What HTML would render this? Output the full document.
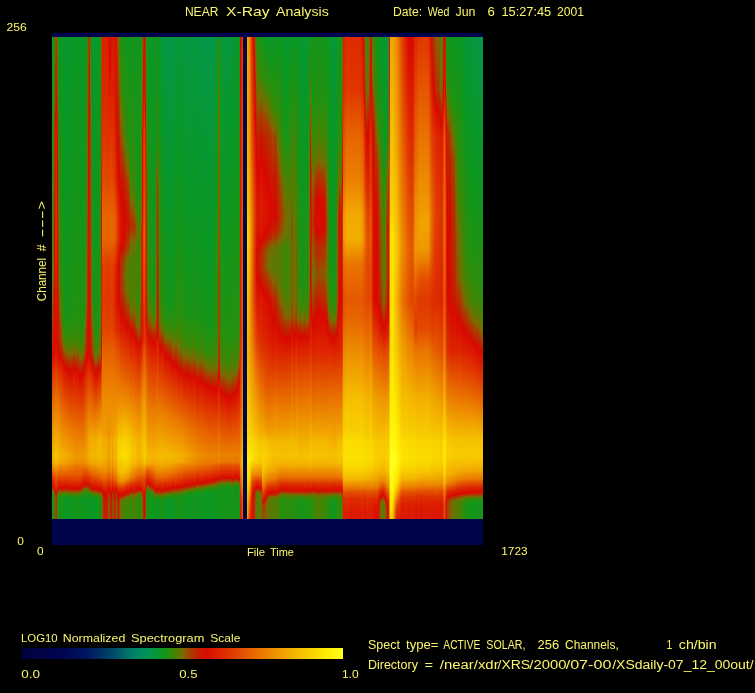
<!DOCTYPE html>
<html lang="en"><head><meta charset="utf-8"><title>NEAR X-Ray Analysis</title>
<style>
html,body{margin:0;padding:0;background:#000}
body{width:755px;height:693px;position:relative;overflow:hidden;font-family:"Liberation Sans",sans-serif;color:#f4ee86}
#band{position:absolute;left:52px;top:33px;width:431px;height:512px;background:#00044c}
#sp{position:absolute;left:52px;top:37px;width:431px;height:482px;overflow:hidden}
#sp i{position:absolute;top:0;height:482px;display:block}
#gap{position:absolute;left:243px;top:37px;width:4px;height:483px;background:#020448}

svg.t{will-change:transform}
svg.t text{font-family:"Liberation Sans",sans-serif;fill:#fbf66a;white-space:pre}

</style></head><body>
<div id="band"></div>
<div id="sp"><i style="left:0px;width:1px;background:linear-gradient(#0d981d 0.5px,#2e8d0a 162.5px,#378a05 183.5px,#597a02 242.5px,#776c00 254.5px,#826200 259.5px,#ac3a00 282.5px,#ba2a00 293.5px,#bf2400 303.5px,#d80900 316.5px,#e03600 337.5px,#e76400 363.5px,#ed8d00 390.5px,#f3b000 418.5px,#f09f00 426.5px,#e65c00 435.5px,#d70a00 449.5px,#b62e00 451.5px,#a14500 452.5px,#836100 453.5px,#667401 454.5px,#478204 455.5px,#378a05 456.5px,#229111 458.5px,#1c9315 459.5px,#1b9315 461.5px,#1a9316 481.5px)"></i><i style="left:1px;width:1px;background:linear-gradient(#0a9828 0.5px,#0c981e 41.5px,#149519 63.5px,#2a8e0c 99.5px,#378a05 137.5px,#458404 163.5px,#6b7201 198.5px,#7d6800 242.5px,#984d00 254.5px,#ac3a00 266.5px,#b33200 279.5px,#c12200 292.5px,#c22100 303.5px,#d80900 316.5px,#e03900 338.5px,#e76800 363.5px,#ee9100 390.5px,#f4b400 418.5px,#f1a300 426.5px,#e03700 441.5px,#d90e00 448.5px,#d30d00 449.5px,#b23400 451.5px,#766d00 453.5px,#398905 455.5px,#209112 457.5px,#0f971c 459.5px,#0b9821 481.5px)"></i><i style="left:2px;width:1px;background:linear-gradient(#368a06 0.5px,#6c7201 63.5px,#796b00 70.5px,#ad3900 99.5px,#c02400 162.5px,#d20f00 198.5px,#cd1400 242.5px,#d50b00 261.5px,#d80900 302.5px,#da1100 315.5px,#e86f00 363.5px,#f5bd00 418.5px,#f3b100 425.5px,#f2ac00 426.5px,#e13d00 442.5px,#dc1f00 448.5px,#d80800 451.5px,#ac3a00 454.5px,#905400 455.5px,#7d6700 456.5px,#597a02 458.5px,#498204 460.5px,#3d8705 481.5px)"></i><i style="left:3px;width:1px;background:linear-gradient(#935200 0.5px,#ac3a00 24.5px,#c22100 62.5px,#d80800 78.5px,#db1900 99.5px,#dd2500 197.5px,#da1100 278.5px,#da1300 292.5px,#d90f00 303.5px,#da1500 314.5px,#dc2000 322.5px,#e24500 338.5px,#e97400 363.5px,#f6c200 418.5px,#f4b800 425.5px,#f3b300 426.5px,#e24800 442.5px,#df3000 448.5px,#d90c00 454.5px,#d11000 455.5px,#b33200 458.5px,#a54000 461.5px,#a24300 481.5px)"></i><i style="left:4px;width:1px;background:linear-gradient(#a83e00 0.5px,#ce1300 62.5px,#d80800 69.5px,#dc2100 99.5px,#de2c00 197.5px,#da1300 278.5px,#da1400 292.5px,#d91000 303.5px,#da1500 314.5px,#dc2000 322.5px,#e24500 338.5px,#e97500 363.5px,#f7c400 418.5px,#f5ba00 425.5px,#e34c00 442.5px,#de2c00 450.5px,#d90d00 455.5px,#d50c00 456.5px,#c12200 458.5px,#b43100 461.5px,#b43100 481.5px)"></i><i style="left:5px;width:1px;background:linear-gradient(#577b03 0.5px,#786c00 33.5px,#935200 62.5px,#ad3900 74.5px,#cb1700 99.5px,#d80800 146.5px,#da1200 198.5px,#d90c00 242.5px,#d80b00 303.5px,#da1100 314.5px,#dc1d00 322.5px,#e24300 338.5px,#e97300 363.5px,#f6c200 418.5px,#f4b700 425.5px,#f0a000 428.5px,#e97000 436.5px,#e24600 442.5px,#de2a00 448.5px,#d60a00 453.5px,#ad3900 456.5px,#955000 457.5px,#865e00 458.5px,#7a6a00 459.5px,#697301 461.5px,#617702 481.5px)"></i><i style="left:6px;width:1px;background:linear-gradient(#0c9820 0.5px,#239011 62.5px,#378a05 86.5px,#498204 99.5px,#6f7001 163.5px,#955000 198.5px,#9e4700 242.5px,#ac3a00 249.5px,#b23400 255.5px,#bd2700 279.5px,#c91900 292.5px,#c81b00 303.5px,#d80800 314.5px,#da1500 322.5px,#e13c00 338.5px,#e86d00 363.5px,#ef9700 390.5px,#f5bc00 418.5px,#f3b000 425.5px,#ef9800 428.5px,#e76900 436.5px,#e13c00 442.5px,#d90c00 450.5px,#ce1300 451.5px,#ab3b00 453.5px,#6e7001 455.5px,#368a05 457.5px,#1a9416 460.5px,#159519 461.5px,#10971c 481.5px)"></i><i style="left:7px;width:1px;background:linear-gradient(#09972e 0.5px,#0c981e 79.5px,#249010 162.5px,#378a05 196.5px,#507e03 242.5px,#796b00 258.5px,#9a4c00 278.5px,#ab3b00 285.5px,#b53000 293.5px,#b82c00 303.5px,#cc1500 314.5px,#d80900 318.5px,#df3500 337.5px,#e76700 363.5px,#ee9200 390.5px,#f4b700 418.5px,#f2ab00 425.5px,#ee9200 428.5px,#e76500 436.5px,#e03900 442.5px,#d80800 450.5px,#b53000 452.5px,#9d4800 453.5px,#7e6700 454.5px,#5e7802 455.5px,#408604 456.5px,#2a8e0d 457.5px,#0c981e 460.5px,#0b9822 461.5px,#0b9824 481.5px)"></i><i style="left:8px;width:1px;background:linear-gradient(#0a9828 0.5px,#0c981e 92.5px,#179417 163.5px,#2f8d0a 242.5px,#378a05 248.5px,#766d00 279.5px,#9b4a00 292.5px,#a93d00 302.5px,#c41f00 314.5px,#d80900 320.5px,#df3100 337.5px,#e66200 363.5px,#ed8e00 390.5px,#f4b400 418.5px,#f2a800 425.5px,#ee9000 428.5px,#e76400 436.5px,#df3400 443.5px,#d80b00 450.5px,#cd1500 451.5px,#ab3b00 453.5px,#6d7101 455.5px,#4f7f03 456.5px,#338b08 457.5px,#13961a 460.5px,#0e971d 461.5px,#0e971d 481.5px)"></i><i style="left:9px;width:1px;background:linear-gradient(#189417 0.5px,#2a8e0c 163.5px,#398905 242.5px,#567c03 263.5px,#6d7101 277.5px,#786c00 281.5px,#9a4b00 293.5px,#aa3c00 302.5px,#c41f00 313.5px,#d80900 319.5px,#df3100 337.5px,#e65e00 362.5px,#ed8c00 390.5px,#f4b400 418.5px,#f2a900 425.5px,#ee9100 428.5px,#e66100 437.5px,#d80b00 451.5px,#cd1400 452.5px,#ae3800 454.5px,#776d00 456.5px,#587b02 457.5px,#388a05 459.5px,#278f0e 461.5px,#278f0e 481.5px)"></i><i style="left:10px;width:1px;background:linear-gradient(#0b9821 0.5px,#1e9214 204.5px,#239111 243.5px,#2b8e0c 260.5px,#388a05 277.5px,#776d00 301.5px,#aa3c00 312.5px,#d60a00 323.5px,#d80a00 324.5px,#dd2900 337.5px,#e97000 376.5px,#f3b100 418.5px,#f1a600 425.5px,#ed8f00 428.5px,#e65f00 437.5px,#dd2500 446.5px,#d90e00 450.5px,#d40c00 451.5px,#b43100 453.5px,#9c4900 454.5px,#7e6600 455.5px,#428504 457.5px,#328c08 458.5px,#169518 461.5px,#169518 481.5px)"></i><i style="left:11px;width:1px;background:linear-gradient(#09982d 0.5px,#0c981e 169.5px,#149519 246.5px,#1f9213 276.5px,#378a05 291.5px,#4b8103 300.5px,#736e00 308.5px,#8e5700 313.5px,#ad3900 317.5px,#d60b00 326.5px,#d80900 327.5px,#dc2200 337.5px,#e86c00 376.5px,#f3af00 418.5px,#f1a500 425.5px,#ed8e00 428.5px,#e65e00 437.5px,#df3400 443.5px,#d80a00 450.5px,#cd1400 451.5px,#ac3a00 453.5px,#6d7101 455.5px,#4f7f03 456.5px,#328b08 457.5px,#11961b 460.5px,#0b9821 461.5px,#0b9821 481.5px)"></i><i style="left:12px;width:1px;background:linear-gradient(#09972e 0.5px,#0c981e 190.5px,#189417 276.5px,#3b8805 300.5px,#756d00 311.5px,#816300 313.5px,#aa3c00 318.5px,#d80900 328.5px,#dc1f00 337.5px,#e86a00 376.5px,#f3af00 418.5px,#f1a400 425.5px,#ed8e00 428.5px,#e65e00 437.5px,#df3400 443.5px,#d80a00 450.5px,#ce1400 451.5px,#ac3a00 453.5px,#6c7101 455.5px,#328c08 457.5px,#10971c 460.5px,#0b9822 461.5px,#0b9822 481.5px)"></i><i style="left:13px;width:1px;background:linear-gradient(#089732 0.5px,#0c981e 230.5px,#12961b 276.5px,#378a05 302.5px,#766d00 313.5px,#a93d00 319.5px,#d80900 329.5px,#db1a00 336.5px,#e76900 376.5px,#f3ae00 418.5px,#f1a400 425.5px,#f09f00 426.5px,#ed8e00 428.5px,#e65e00 437.5px,#df3400 443.5px,#d80900 450.5px,#cc1500 451.5px,#a93d00 453.5px,#895c00 454.5px,#687301 455.5px,#2f8c09 457.5px,#219112 458.5px,#0c981e 460.5px,#0a9826 461.5px,#0a9826 481.5px)"></i><i style="left:14px;width:1px;background:linear-gradient(#089734 0.5px,#0f971c 277.5px,#2b8e0c 300.5px,#388a05 304.5px,#637602 312.5px,#736e00 314.5px,#ad3900 321.5px,#d80900 330.5px,#ea7a00 386.5px,#f2ad00 418.5px,#f1a200 425.5px,#f09d00 426.5px,#ed8c00 428.5px,#e65d00 437.5px,#e03a00 442.5px,#d80900 450.5px,#cc1600 451.5px,#a73f00 453.5px,#875d00 454.5px,#667401 455.5px,#2e8d0a 457.5px,#1f9213 458.5px,#0c9820 460.5px,#0a9828 461.5px,#0a9828 481.5px)"></i><i style="left:15px;width:1px;background:linear-gradient(#09972e 0.5px,#0c981e 188.5px,#169518 277.5px,#308c09 300.5px,#378a05 303.5px,#637602 312.5px,#796b00 315.5px,#ae3700 322.5px,#d80800 331.5px,#ea7900 387.5px,#f2aa00 418.5px,#f0a000 425.5px,#ed8a00 428.5px,#e65c00 437.5px,#d90b00 450.5px,#d01100 451.5px,#ae3800 453.5px,#706f01 455.5px,#527d03 456.5px,#358b06 457.5px,#26900f 458.5px,#11961b 460.5px,#0b9822 461.5px,#0b9822 481.5px)"></i><i style="left:16px;width:1px;background:linear-gradient(#0a9828 0.5px,#0c981e 117.5px,#1f9213 282.5px,#368a05 301.5px,#468304 306.5px,#657501 312.5px,#796b00 315.5px,#935200 319.5px,#ac3a00 322.5px,#d80900 332.5px,#dc1e00 341.5px,#ea7800 388.5px,#f2a800 418.5px,#f09e00 425.5px,#ec8800 428.5px,#e55c00 437.5px,#d90d00 450.5px,#d40c00 451.5px,#b33200 453.5px,#9a4b00 454.5px,#7b6900 455.5px,#3f8604 457.5px,#2d8d0b 458.5px,#0e971d 461.5px,#0e971d 481.5px)"></i><i style="left:17px;width:1px;background:linear-gradient(#0a9828 0.5px,#0c981e 120.5px,#1d9214 282.5px,#3d8705 306.5px,#796b00 317.5px,#ae3800 324.5px,#d60a00 333.5px,#d80900 334.5px,#ea7900 390.5px,#f1a500 418.5px,#ef9b00 425.5px,#ec8500 428.5px,#e55a00 437.5px,#d90d00 450.5px,#d40c00 451.5px,#b33200 453.5px,#7b6900 455.5px,#3e8704 457.5px,#2d8d0b 458.5px,#0e971d 461.5px,#0e971d 481.5px)"></i><i style="left:18px;width:1px;background:linear-gradient(#0b9824 0.5px,#0c981e 72.5px,#229111 282.5px,#378a05 300.5px,#428504 306.5px,#776c00 316.5px,#895c00 319.5px,#aa3c00 323.5px,#d70900 333.5px,#ea7900 391.5px,#f1a300 418.5px,#ef9900 425.5px,#eb8300 428.5px,#e55a00 437.5px,#d70900 451.5px,#b62e00 453.5px,#a04500 454.5px,#826300 455.5px,#647502 456.5px,#468304 457.5px,#328c08 458.5px,#13961a 461.5px,#13961a 481.5px)"></i><i style="left:19px;width:1px;background:linear-gradient(#0a9829 0.5px,#0c981e 130.5px,#1c9314 282.5px,#348b07 302.5px,#3d8705 306.5px,#796b00 317.5px,#ae3800 324.5px,#d60b00 333.5px,#d80900 334.5px,#ea7700 391.5px,#f0a000 418.5px,#ef9600 425.5px,#eb8000 428.5px,#e55900 437.5px,#d90d00 450.5px,#d40d00 451.5px,#b23300 453.5px,#7a6b00 455.5px,#3d8705 457.5px,#2c8e0c 458.5px,#0d981d 461.5px,#0d981d 481.5px)"></i><i style="left:20px;width:1px;background:linear-gradient(#0a9827 0.5px,#0c981e 100.5px,#209112 282.5px,#388a05 302.5px,#498204 307.5px,#6f7001 314.5px,#885c00 318.5px,#ae3700 323.5px,#d80900 333.5px,#e97400 390.5px,#f09f00 418.5px,#ee9400 425.5px,#eb7e00 428.5px,#e55a00 437.5px,#d50b00 451.5px,#b43100 453.5px,#9c4900 454.5px,#7e6700 455.5px,#418504 457.5px,#2f8d0a 458.5px,#10971c 461.5px,#10971c 481.5px)"></i><i style="left:21px;width:1px;background:linear-gradient(#0d981e 0.5px,#298e0d 279.5px,#388a05 292.5px,#4a8104 302.5px,#587b02 306.5px,#786c00 312.5px,#885d00 315.5px,#ac3a00 320.5px,#d60a00 330.5px,#d80900 331.5px,#dc1f00 341.5px,#e97600 391.5px,#f09e00 418.5px,#ee9300 425.5px,#eb7e00 428.5px,#e55b00 437.5px,#d80a00 451.5px,#cc1600 452.5px,#ab3b00 454.5px,#707001 456.5px,#527e03 457.5px,#3b8805 458.5px,#1b9315 461.5px,#1b9315 481.5px)"></i><i style="left:22px;width:1px;background:linear-gradient(#0b9824 0.5px,#0c981e 65.5px,#229111 279.5px,#408604 302.5px,#766d00 313.5px,#816300 315.5px,#ae3800 321.5px,#d80800 331.5px,#dc1d00 341.5px,#e97200 390.5px,#f09b00 418.5px,#ee9100 425.5px,#ea7b00 428.5px,#e55a00 437.5px,#d70900 451.5px,#b72e00 453.5px,#a14400 454.5px,#836200 455.5px,#657501 456.5px,#478304 457.5px,#328c08 458.5px,#14961a 461.5px,#14961a 481.5px)"></i><i style="left:23px;width:1px;background:linear-gradient(#09982d 0.5px,#0c981e 171.5px,#189417 279.5px,#358b06 303.5px,#766d00 315.5px,#ae3800 322.5px,#d80800 332.5px,#e87000 390.5px,#ef9800 418.5px,#ed8e00 425.5px,#ea7700 428.5px,#e55800 437.5px,#d90c00 450.5px,#d11000 451.5px,#af3600 453.5px,#736e00 455.5px,#378a05 457.5px,#278f0e 458.5px,#0b9821 461.5px,#0b9821 481.5px)"></i><i style="left:24px;width:1px;background:linear-gradient(#09982b 0.5px,#0c981e 154.5px,#199416 279.5px,#368a06 303.5px,#756e00 315.5px,#ac3a00 322.5px,#d70900 332.5px,#e86f00 390.5px,#ef9700 418.5px,#ed8d00 425.5px,#e97700 428.5px,#e55900 437.5px,#d90c00 450.5px,#d20f00 451.5px,#b03500 453.5px,#766d00 455.5px,#398905 457.5px,#298e0d 458.5px,#0c981f 461.5px,#0c981f 481.5px)"></i><i style="left:25px;width:1px;background:linear-gradient(#0b9822 0.5px,#0c981e 46.5px,#249010 279.5px,#3f8604 302.5px,#5f7802 310.5px,#746e00 314.5px,#ab3b00 322.5px,#d80900 333.5px,#e65e00 380.5px,#ef9800 418.5px,#ed8e00 425.5px,#ea7800 428.5px,#e55a00 437.5px,#d80800 451.5px,#a44200 454.5px,#855f00 455.5px,#687301 456.5px,#4a8104 457.5px,#348b07 458.5px,#169518 461.5px,#169518 481.5px)"></i><i style="left:26px;width:1px;background:linear-gradient(#0f971c 0.5px,#2f8d0a 286.5px,#488204 302.5px,#607702 310.5px,#756e00 314.5px,#ac3a00 323.5px,#d60a00 333.5px,#d80900 334.5px,#e65e00 380.5px,#ef9900 418.5px,#ed8f00 425.5px,#ea7900 428.5px,#e55c00 437.5px,#d80b00 451.5px,#cd1400 452.5px,#ad3900 454.5px,#746e00 456.5px,#567c03 457.5px,#3f8604 458.5px,#1d9214 461.5px,#1d9214 481.5px)"></i><i style="left:27px;width:1px;background:linear-gradient(#0a9828 0.5px,#0c981e 117.5px,#1e9214 286.5px,#328c08 303.5px,#408604 310.5px,#766d00 320.5px,#885c00 323.5px,#af3700 328.5px,#d60a00 337.5px,#d80900 338.5px,#e87000 392.5px,#ef9800 418.5px,#ed8d00 425.5px,#ea7700 428.5px,#e55900 437.5px,#d90d00 450.5px,#d40c00 451.5px,#b33200 453.5px,#9a4b00 454.5px,#7c6900 455.5px,#3f8604 457.5px,#2d8d0b 458.5px,#0f971d 461.5px,#0f971d 481.5px)"></i><i style="left:28px;width:1px;background:linear-gradient(#0a982a 0.5px,#0c981e 143.5px,#1b9315 286.5px,#3a8905 310.5px,#7a6a00 322.5px,#ab3b00 328.5px,#d80800 338.5px,#e86f00 392.5px,#ef9700 418.5px,#ed8d00 425.5px,#ea7700 428.5px,#e55700 437.5px,#d80900 450.5px,#cd1500 451.5px,#ab3b00 453.5px,#6f7001 455.5px,#527e03 456.5px,#368a06 457.5px,#288f0e 458.5px,#0c981e 461.5px,#0c981e 481.5px)"></i><i style="left:29px;width:1px;background:linear-gradient(#0b9825 0.5px,#0c981e 89.5px,#229111 286.5px,#3d8705 305.5px,#4e7f03 311.5px,#6e7001 317.5px,#8c5900 322.5px,#ab3b00 326.5px,#d70900 336.5px,#e97200 393.5px,#ef9800 418.5px,#ed8d00 425.5px,#ea7800 428.5px,#e45300 437.5px,#d90b00 449.5px,#d20f00 450.5px,#b43100 452.5px,#826300 454.5px,#4b8103 456.5px,#348b07 457.5px,#11961b 461.5px,#11961b 481.5px)"></i><i style="left:30px;width:1px;background:linear-gradient(#09972f 0.5px,#0c981e 197.5px,#179418 281.5px,#368a05 305.5px,#458304 310.5px,#637602 316.5px,#7d6700 320.5px,#af3600 327.5px,#d60a00 336.5px,#d80a00 337.5px,#e86d00 390.5px,#ef9700 418.5px,#ed8c00 425.5px,#ea7800 428.5px,#e34c00 437.5px,#d80900 448.5px,#b03500 451.5px,#776c00 453.5px,#438404 455.5px,#2f8d0a 456.5px,#189417 458.5px,#0c981e 460.5px,#0b9823 461.5px,#0b9823 481.5px)"></i><i style="left:31px;width:1px;background:linear-gradient(#09982c 0.5px,#0c981e 166.5px,#179418 262.5px,#1f9213 280.5px,#378a05 296.5px,#4b8103 305.5px,#5c7902 310.5px,#796b00 316.5px,#ad3900 324.5px,#d80800 334.5px,#dc1f00 345.5px,#e86a00 387.5px,#ef9800 418.5px,#ec8800 426.5px,#ea7900 428.5px,#d90c00 447.5px,#d10f00 448.5px,#b53000 450.5px,#a04500 451.5px,#836100 452.5px,#647502 453.5px,#368a05 455.5px,#1d9314 457.5px,#169518 458.5px,#0c9820 461.5px,#0c9820 481.5px)"></i><i style="left:32px;width:1px;background:linear-gradient(#0b9823 0.5px,#0c981e 56.5px,#199417 177.5px,#278f0e 263.5px,#388905 281.5px,#627602 295.5px,#776c00 305.5px,#9f4700 316.5px,#ab3b00 318.5px,#d60a00 329.5px,#d80900 330.5px,#dd2600 344.5px,#e66000 378.5px,#ea7b00 395.5px,#ef9a00 418.5px,#ed8a00 426.5px,#e66200 432.5px,#d80b00 447.5px,#ce1300 448.5px,#b03500 450.5px,#7c6900 452.5px,#5d7902 453.5px,#358b06 455.5px,#209212 457.5px,#149519 461.5px,#149519 481.5px)"></i><i style="left:33px;width:1px;background:linear-gradient(#0b9822 0.5px,#0c981e 43.5px,#219112 197.5px,#378a05 262.5px,#5f7702 281.5px,#786c00 288.5px,#875e00 293.5px,#9a4b00 305.5px,#ad3900 311.5px,#b92c00 317.5px,#d80900 326.5px,#dd2500 339.5px,#e76400 377.5px,#eb8000 395.5px,#f09b00 418.5px,#ed8b00 426.5px,#e66000 432.5px,#e13b00 438.5px,#d90e00 446.5px,#d40d00 447.5px,#b43100 449.5px,#9d4800 450.5px,#806400 451.5px,#448404 453.5px,#298f0d 455.5px,#189417 457.5px,#149519 461.5px,#149519 481.5px)"></i><i style="left:34px;width:1px;background:linear-gradient(#0f971c 0.5px,#3c8805 198.5px,#6e7101 263.5px,#935200 280.5px,#ac3a00 289.5px,#b23300 293.5px,#b72e00 305.5px,#c71c00 316.5px,#d80900 322.5px,#de2d00 339.5px,#e86e00 378.5px,#ec8800 396.5px,#f0a000 418.5px,#ed8f00 426.5px,#e55c00 433.5px,#d90d00 446.5px,#d20f00 447.5px,#b23300 449.5px,#7d6700 451.5px,#408604 453.5px,#1b9315 456.5px,#159519 457.5px,#10971b 462.5px,#10971b 481.5px)"></i><i style="left:35px;width:1px;background:linear-gradient(#398905 0.5px,#786c00 111.5px,#ac3a00 219.5px,#b33200 262.5px,#be2500 281.5px,#ca1800 292.5px,#c81b00 305.5px,#d80800 318.5px,#e24500 348.5px,#ea7900 379.5px,#ef9b00 403.5px,#f1a700 418.5px,#ee9400 426.5px,#e66200 433.5px,#d80800 447.5px,#a93d00 450.5px,#707001 452.5px,#517e03 453.5px,#2e8d0a 455.5px,#189417 457.5px,#0c981f 461.5px,#0c9820 481.5px)"></i><i style="left:36px;width:1px;background:linear-gradient(#964f00 0.5px,#ac3a00 31.5px,#c71b00 98.5px,#d80800 162.5px,#d90d00 198.5px,#d80800 240.5px,#cf1200 280.5px,#d50b00 292.5px,#cc1600 305.5px,#d80900 318.5px,#e34900 348.5px,#ea7a00 376.5px,#f1a200 403.5px,#f2ab00 419.5px,#ef9800 426.5px,#d80800 447.5px,#ac3a00 450.5px,#726f00 452.5px,#517e03 453.5px,#3a8805 454.5px,#10971c 457.5px,#0b9822 458.5px,#09972e 462.5px,#09972e 481.5px)"></i><i style="left:37px;width:1px;background:linear-gradient(#bb2800 0.5px,#d80800 71.5px,#db1b00 197.5px,#d80800 307.5px,#d91000 319.5px,#e34f00 348.5px,#f2aa00 403.5px,#f3b100 419.5px,#f09f00 426.5px,#d90c00 448.5px,#d20f00 449.5px,#b72d00 451.5px,#a34200 452.5px,#855f00 453.5px,#6c7101 454.5px,#398905 456.5px,#1f9213 458.5px,#0d981d 461.5px,#0c9820 462.5px,#0c9820 481.5px)"></i><i style="left:38px;width:1px;background:linear-gradient(#5c7902 0.5px,#786c00 42.5px,#9d4900 98.5px,#ac3a00 130.5px,#bf2400 207.5px,#c02300 262.5px,#c61c00 282.5px,#cf1200 293.5px,#c81a00 306.5px,#d80800 319.5px,#e34b00 348.5px,#f2ac00 403.5px,#f3b200 419.5px,#f0a000 426.5px,#d80900 449.5px,#c02300 451.5px,#b03600 452.5px,#786c00 454.5px,#5b7a02 455.5px,#3f8604 456.5px,#2c8e0c 457.5px,#1d9314 458.5px,#0d981d 460.5px,#0a9826 462.5px,#0a9826 481.5px)"></i><i style="left:39px;width:1px;background:linear-gradient(#0b9822 0.5px,#0c981e 17.5px,#378a05 176.5px,#408604 197.5px,#5b7902 229.5px,#6f7001 262.5px,#955000 282.5px,#ad3900 291.5px,#b03500 307.5px,#bd2700 316.5px,#c32000 319.5px,#d80900 324.5px,#e24300 348.5px,#f2ad00 403.5px,#f4b300 418.5px,#f1a200 426.5px,#e65f00 437.5px,#dc2000 446.5px,#d60a00 450.5px,#cb1700 451.5px,#a54100 453.5px,#865e00 454.5px,#667401 455.5px,#478204 456.5px,#1d9314 458.5px,#0c9820 460.5px,#09982c 462.5px,#09982c 481.5px)"></i><i style="left:40px;width:1px;background:linear-gradient(#0a9827 0.5px,#0c981e 76.5px,#1f9213 197.5px,#3d8705 262.5px,#6d7101 283.5px,#8c5900 293.5px,#9b4b00 302.5px,#9c4900 307.5px,#b92c00 319.5px,#d80800 326.5px,#e13e00 348.5px,#f3ad00 403.5px,#f4b500 418.5px,#f1a400 426.5px,#ee8f00 429.5px,#e76400 437.5px,#e03900 443.5px,#d80a00 451.5px,#ca1800 452.5px,#a64000 454.5px,#875e00 455.5px,#687301 456.5px,#2f8c09 458.5px,#11961b 461.5px,#0c981e 462.5px,#0c981e 481.5px)"></i><i style="left:41px;width:1px;background:linear-gradient(#0b9825 0.5px,#0c981e 80.5px,#199417 192.5px,#298f0d 263.5px,#428504 282.5px,#707001 298.5px,#796b00 302.5px,#7d6700 307.5px,#a34300 318.5px,#d80800 329.5px,#e13e00 351.5px,#f2ac00 403.5px,#f4b400 418.5px,#f1a400 426.5px,#ee9000 429.5px,#e76600 437.5px,#df3500 444.5px,#d90b00 451.5px,#ce1300 452.5px,#ad3900 454.5px,#716f01 456.5px,#537d03 457.5px,#358b06 458.5px,#179518 461.5px,#12961b 462.5px,#12961b 481.5px)"></i><i style="left:42px;width:1px;background:linear-gradient(#09972e 0.5px,#0c981e 190.5px,#169518 262.5px,#1b9315 273.5px,#26900f 286.5px,#378a05 295.5px,#488204 302.5px,#4f7f03 307.5px,#5a7a02 311.5px,#766d00 317.5px,#935200 322.5px,#ad3800 325.5px,#d70900 333.5px,#e86c00 373.5px,#f2ab00 403.5px,#f4b400 418.5px,#f1a400 426.5px,#ee9000 429.5px,#e76600 437.5px,#df3300 444.5px,#d80800 451.5px,#b72e00 453.5px,#a04500 454.5px,#816300 455.5px,#617602 456.5px,#438404 457.5px,#2b8e0c 458.5px,#0c981e 461.5px,#0b9822 462.5px,#0b9822 481.5px)"></i><i style="left:43px;width:1px;background:linear-gradient(#089733 0.5px,#0c981e 245.5px,#169518 286.5px,#388a05 310.5px,#766d00 322.5px,#ae3700 328.5px,#d80900 336.5px,#ea7a00 379.5px,#f2ab00 403.5px,#f4b400 418.5px,#f1a500 426.5px,#ee9100 429.5px,#e76700 437.5px,#dd2400 446.5px,#d90c00 450.5px,#d50b00 451.5px,#b33200 453.5px,#994c00 454.5px,#796b00 455.5px,#597a02 456.5px,#3b8805 457.5px,#25900f 458.5px,#11961b 460.5px,#0a9827 462.5px,#0a9827 481.5px)"></i><i style="left:44px;width:1px;background:linear-gradient(#09982c 0.5px,#0c981e 173.5px,#199416 286.5px,#3a8905 310.5px,#746e00 321.5px,#826300 323.5px,#aa3c00 327.5px,#d70a00 335.5px,#e86d00 372.5px,#f09e00 395.5px,#f3ae00 404.5px,#f4b600 418.5px,#f1a700 426.5px,#e86a00 437.5px,#dd2700 446.5px,#d80900 451.5px,#ca1700 452.5px,#a64000 454.5px,#875e00 455.5px,#677401 456.5px,#2f8d0a 458.5px,#0f971c 461.5px,#0b9821 463.5px,#0b9821 481.5px)"></i><i style="left:45px;width:1px;background:linear-gradient(#0a9827 0.5px,#0c981e 106.5px,#209213 286.5px,#3b8805 307.5px,#488204 311.5px,#6d7101 318.5px,#895c00 322.5px,#af3700 326.5px,#d50b00 333.5px,#d80900 334.5px,#e87000 372.5px,#f1a100 395.5px,#f3b100 404.5px,#f4b800 418.5px,#f2a900 426.5px,#e86d00 437.5px,#de2a00 446.5px,#d90d00 451.5px,#d20f00 452.5px,#b13500 454.5px,#786c00 456.5px,#3b8805 458.5px,#189417 461.5px,#10971c 463.5px,#10971c 481.5px)"></i><i style="left:46px;width:1px;background:linear-gradient(#0c981e 0.5px,#298f0d 283.5px,#368a05 296.5px,#498204 306.5px,#5b7a02 311.5px,#756d00 316.5px,#865e00 319.5px,#af3600 324.5px,#d70a00 331.5px,#e97400 372.5px,#f1a400 395.5px,#f4b300 404.5px,#f5ba00 418.5px,#f2ab00 426.5px,#e86b00 438.5px,#df3500 445.5px,#d80a00 452.5px,#cb1700 453.5px,#aa3c00 455.5px,#6f7001 457.5px,#517e03 458.5px,#3a8905 459.5px,#1d9314 462.5px,#1a9316 481.5px)"></i><i style="left:47px;width:1px;background:linear-gradient(#0b9821 0.5px,#26900f 283.5px,#378a05 298.5px,#458404 306.5px,#557c03 310.5px,#756d00 316.5px,#865e00 319.5px,#ac3a00 323.5px,#d50b00 330.5px,#d80a00 331.5px,#e24300 351.5px,#ea7800 373.5px,#f1a700 395.5px,#f4b500 404.5px,#f5bb00 418.5px,#f2ac00 426.5px,#e86d00 438.5px,#de2e00 446.5px,#d80b00 452.5px,#cc1500 453.5px,#ac3a00 455.5px,#707001 457.5px,#527e03 458.5px,#388905 459.5px,#1b9316 462.5px,#179418 463.5px,#179418 481.5px)"></i><i style="left:48px;width:1px;background:linear-gradient(#0b9824 0.5px,#0c981e 72.5px,#229111 283.5px,#408604 306.5px,#786c00 317.5px,#855f00 319.5px,#af3700 323.5px,#d80900 330.5px,#e13f00 348.5px,#ea7b00 373.5px,#f2a800 395.5px,#f4b600 404.5px,#f5bb00 418.5px,#f3ad00 426.5px,#ea7a00 436.5px,#e76800 439.5px,#dd2800 447.5px,#d90b00 452.5px,#cd1400 453.5px,#ac3a00 455.5px,#707001 457.5px,#527e03 458.5px,#368a06 459.5px,#189417 462.5px,#13961a 463.5px,#13961a 481.5px)"></i><i style="left:49px;width:1px;background:linear-gradient(#846100 0.5px,#905500 53.5px,#ac3a00 108.5px,#b72d00 142.5px,#cb1700 178.5px,#cc1600 202.5px,#b53000 228.5px,#b33200 263.5px,#b92c00 282.5px,#c12300 292.5px,#d70900 308.5px,#da1600 319.5px,#e55800 347.5px,#ea7a00 366.5px,#f3b200 403.5px,#f4b800 419.5px,#f2ab00 426.5px,#ea7c00 436.5px,#e86b00 439.5px,#de2e00 447.5px,#d80900 453.5px,#cd1500 454.5px,#ae3800 456.5px,#786c00 458.5px,#5f7702 459.5px,#3e8704 462.5px,#388905 463.5px,#378a05 481.5px)"></i><i style="left:50px;width:1px;background:linear-gradient(#dc2100 0.5px,#dd2600 52.5px,#e03500 99.5px,#e24800 142.5px,#e76600 178.5px,#e76600 202.5px,#e13e00 228.5px,#e03800 263.5px,#e24500 292.5px,#e66000 313.5px,#ea7a00 341.5px,#ed8c00 363.5px,#f09e00 395.5px,#f2ac00 404.5px,#f3b200 419.5px,#f1a500 426.5px,#ee9000 432.5px,#e76600 440.5px,#df3400 447.5px,#d80a00 454.5px,#ce1300 455.5px,#984d00 459.5px,#905500 461.5px,#865f00 465.5px,#865f00 481.5px)"></i><i style="left:51px;width:1px;background:linear-gradient(#dc1f00 0.5px,#dd2500 52.5px,#df3400 99.5px,#e24700 142.5px,#e76500 178.5px,#e76500 202.5px,#e13d00 228.5px,#e03700 263.5px,#e24400 292.5px,#e65f00 313.5px,#ea7a00 342.5px,#ed8c00 363.5px,#f09d00 395.5px,#f2ab00 404.5px,#f3b200 418.5px,#f2a700 425.5px,#ed8e00 433.5px,#e76400 441.5px,#dd2500 450.5px,#d60a00 455.5px,#c91900 459.5px,#be2600 465.5px,#bd2600 481.5px)"></i><i style="left:52px;width:2px;background:linear-gradient(#dc2200 0.5px,#dd2800 52.5px,#e03600 99.5px,#e34900 142.5px,#e76700 178.5px,#e76700 202.5px,#e14000 228.5px,#e03900 263.5px,#e24600 292.5px,#e66100 313.5px,#ea7a00 341.5px,#ed8d00 363.5px,#f09c00 395.5px,#f2ab00 404.5px,#f3b200 418.5px,#f2a700 425.5px,#ee8f00 433.5px,#e76500 441.5px,#df3400 448.5px,#d90b00 455.5px,#d70900 458.5px,#c91900 466.5px,#c91900 481.5px)"></i><i style="left:54px;width:1px;background:linear-gradient(#dc2000 0.5px,#dd2600 52.5px,#df3500 99.5px,#e24800 142.5px,#e76600 178.5px,#e76600 202.5px,#e13e00 228.5px,#e03800 263.5px,#e24400 292.5px,#e66000 313.5px,#ea7b00 342.5px,#ed8c00 363.5px,#ef9a00 395.5px,#f2a900 404.5px,#f3b000 418.5px,#f1a600 425.5px,#ed8d00 433.5px,#e76300 441.5px,#e03900 447.5px,#d80900 455.5px,#c41f00 466.5px,#c41f00 481.5px)"></i><i style="left:55px;width:1px;background:linear-gradient(#dc1f00 0.5px,#dd2500 52.5px,#df3400 99.5px,#e24700 142.5px,#e76500 178.5px,#e76500 202.5px,#e13d00 228.5px,#e03700 263.5px,#e24400 292.5px,#e65f00 313.5px,#ed8b00 362.5px,#ef9700 395.5px,#f1a600 404.5px,#f2ac00 418.5px,#f1a200 425.5px,#ed8900 433.5px,#e65f00 441.5px,#d80b00 454.5px,#d20f00 455.5px,#bd2700 465.5px,#bc2800 481.5px)"></i><i style="left:56px;width:1px;background:linear-gradient(#db1700 0.5px,#dc2300 52.5px,#e03800 110.5px,#e24800 143.5px,#e76500 178.5px,#e76500 202.5px,#e13d00 228.5px,#e03700 263.5px,#e24300 292.5px,#e65f00 313.5px,#ed8b00 362.5px,#ee9200 382.5px,#ee9000 395.5px,#ef9b00 404.5px,#ef9a00 419.5px,#ed8d00 426.5px,#ea7700 433.5px,#e34a00 441.5px,#d80a00 451.5px,#d11000 452.5px,#b03600 455.5px,#885c00 465.5px,#846000 481.5px)"></i><i style="left:57px;width:1px;background:linear-gradient(#d20f00 0.5px,#d80800 9.5px,#d90d00 22.5px,#e24500 142.5px,#e76400 178.5px,#e76300 203.5px,#e03a00 228.5px,#df3400 263.5px,#e14100 292.5px,#e65d00 313.5px,#ed8a00 362.5px,#ee9300 395.5px,#f0a100 404.5px,#f1a500 418.5px,#ef9a00 425.5px,#eb8200 433.5px,#e45500 441.5px,#d90d00 452.5px,#d50b00 453.5px,#bf2400 455.5px,#a04500 465.5px,#9e4800 481.5px)"></i><i style="left:58px;width:1px;background:linear-gradient(#c12200 0.5px,#d80800 24.5px,#dd2400 63.5px,#e24800 142.5px,#e76600 178.5px,#e76600 202.5px,#e13f00 228.5px,#e03800 263.5px,#e24500 292.5px,#e66000 313.5px,#ea7a00 341.5px,#ed8c00 363.5px,#ef9800 395.5px,#f2a800 404.5px,#f3af00 418.5px,#f1a500 425.5px,#ed8c00 433.5px,#e66200 441.5px,#e03900 447.5px,#d80a00 455.5px,#d70900 456.5px,#ca1800 460.5px,#c12200 465.5px,#c02300 481.5px)"></i><i style="left:59px;width:1px;background:linear-gradient(#d80b00 0.5px,#e34900 142.5px,#e76600 178.5px,#e76600 202.5px,#e13f00 228.5px,#e03900 263.5px,#e24500 292.5px,#e66000 313.5px,#ea7a00 341.5px,#ed8c00 363.5px,#ef9a00 395.5px,#f2aa00 404.5px,#f3b100 418.5px,#f1a600 425.5px,#ed8e00 433.5px,#e76400 441.5px,#df3300 448.5px,#d80900 455.5px,#c22100 465.5px,#c22100 481.5px)"></i><i style="left:60px;width:1px;background:linear-gradient(#da1600 0.5px,#dc2100 52.5px,#e03800 112.5px,#e24700 143.5px,#e76500 178.5px,#e76500 202.5px,#e13c00 228.5px,#e03600 263.5px,#e24200 292.5px,#e65e00 313.5px,#ed8a00 362.5px,#ee9500 382.5px,#ef9600 395.5px,#f1a200 404.5px,#f1a400 418.5px,#ef9900 425.5px,#eb8100 433.5px,#e45400 441.5px,#d80800 452.5px,#b62e00 455.5px,#955100 465.5px,#915400 481.5px)"></i><i style="left:61px;width:1px;background:linear-gradient(#db1b00 0.5px,#dc2100 53.5px,#e03800 120.5px,#e24300 143.5px,#e76300 178.5px,#e76300 202.5px,#e03900 228.5px,#df3200 263.5px,#e14000 292.5px,#e65e00 313.5px,#ed8b00 362.5px,#ef9700 382.5px,#ef9a00 395.5px,#f1a600 404.5px,#f2a800 418.5px,#f09d00 425.5px,#ec8500 433.5px,#e55a00 441.5px,#d80b00 452.5px,#d20f00 453.5px,#bc2800 455.5px,#9e4700 465.5px,#9a4b00 481.5px)"></i><i style="left:62px;width:1px;background:linear-gradient(#da1400 0.5px,#db1a00 53.5px,#e03800 142.5px,#e65f00 178.5px,#e65f00 202.5px,#df3100 228.5px,#dd2800 263.5px,#e03a00 292.5px,#e55c00 313.5px,#ed8b00 362.5px,#f1a300 395.5px,#f3b200 404.5px,#f5b900 418.5px,#f2ad00 426.5px,#ee9400 434.5px,#e86a00 442.5px,#dd2800 450.5px,#d80900 455.5px,#c02300 466.5px,#bf2400 481.5px)"></i><i style="left:63px;width:1px;background:linear-gradient(#d90d00 0.5px,#da1300 53.5px,#df3000 142.5px,#e55b00 178.5px,#e55b00 202.5px,#de2a00 228.5px,#dc2000 263.5px,#df3400 292.5px,#e55a00 313.5px,#ea7a00 344.5px,#f1a400 395.5px,#f3b200 404.5px,#f4b600 418.5px,#f2a900 426.5px,#ee9200 434.5px,#e76700 442.5px,#db1b00 451.5px,#d80900 454.5px,#c61d00 456.5px,#b13500 466.5px,#af3700 481.5px)"></i><i style="left:64px;width:1px;background:linear-gradient(#c12200 0.5px,#cf1300 52.5px,#d80800 70.5px,#dc2100 142.5px,#e34b00 178.5px,#e34b00 202.5px,#db1c00 228.5px,#da1300 263.5px,#de2c00 292.5px,#e45400 313.5px,#ea7a00 347.5px,#f09e00 382.5px,#f1a600 395.5px,#f3b100 403.5px,#f4b300 419.5px,#ee9400 433.5px,#ea7c00 438.5px,#e65f00 443.5px,#e03600 447.5px,#d80b00 452.5px,#d20f00 453.5px,#b03600 456.5px,#865e00 464.5px,#7e6600 467.5px,#796b00 481.5px)"></i><i style="left:65px;width:1px;background:linear-gradient(#a24400 0.5px,#ac3a00 17.5px,#b82c00 53.5px,#d80800 104.5px,#da1400 142.5px,#e03700 178.5px,#e03600 203.5px,#da1200 228.5px,#d90d00 262.5px,#dd2800 292.5px,#e45000 313.5px,#f3b200 395.5px,#f6c100 403.5px,#f8c900 418.5px,#f6bf00 425.5px,#f3ad00 433.5px,#eb8300 442.5px,#e97500 444.5px,#dc1f00 452.5px,#d70900 456.5px,#d01100 457.5px,#c02300 461.5px,#b62f00 466.5px,#b43100 481.5px)"></i><i style="left:66px;width:1px;background:linear-gradient(#826300 0.5px,#ca1800 98.5px,#d80800 127.5px,#d90c00 143.5px,#dd2800 178.5px,#dd2800 203.5px,#d90c00 228.5px,#d90c00 262.5px,#dd2800 292.5px,#e34e00 313.5px,#ed8d00 363.5px,#f5bb00 395.5px,#f8cb00 403.5px,#fad400 418.5px,#f4b800 434.5px,#ed8c00 443.5px,#ea7900 445.5px,#dd2800 452.5px,#d90c00 457.5px,#d60b00 459.5px,#c91900 462.5px,#c02300 467.5px,#bf2400 481.5px)"></i><i style="left:67px;width:1px;background:linear-gradient(#627602 0.5px,#786c00 27.5px,#8b5a00 52.5px,#ac3a00 76.5px,#d80800 137.5px,#dc2200 178.5px,#dc2200 202.5px,#d80800 224.5px,#d20e00 228.5px,#d20e00 252.5px,#d80800 263.5px,#dd2600 293.5px,#e34a00 313.5px,#ed8d00 363.5px,#f5bd00 395.5px,#f8cd00 403.5px,#fad600 418.5px,#f5ba00 434.5px,#ee8f00 443.5px,#eb7d00 445.5px,#de2a00 452.5px,#d80800 458.5px,#b92b00 462.5px,#b13400 465.5px,#ae3800 468.5px,#ae3800 481.5px)"></i><i style="left:68px;width:1px;background:linear-gradient(#298f0d 0.5px,#378a05 27.5px,#4c8003 52.5px,#786c00 78.5px,#ad3900 109.5px,#d80800 155.5px,#da1500 178.5px,#da1500 202.5px,#d80900 212.5px,#bc2800 224.5px,#b82c00 228.5px,#b92c00 253.5px,#c32000 263.5px,#d80800 275.5px,#db1d00 293.5px,#e14200 313.5px,#f5bc00 395.5px,#f8cd00 403.5px,#fad600 418.5px,#f4b800 435.5px,#ee9000 443.5px,#eb7f00 445.5px,#dd2600 452.5px,#d90c00 456.5px,#d50c00 457.5px,#cb1700 458.5px,#b33300 460.5px,#8c5800 462.5px,#786c00 465.5px,#726f00 468.5px,#726f00 481.5px)"></i><i style="left:69px;width:1px;background:linear-gradient(#1b9315 0.5px,#388a05 52.5px,#776c00 87.5px,#8c5900 99.5px,#ac3a00 113.5px,#cc1600 142.5px,#d70900 157.5px,#d91000 178.5px,#d91000 202.5px,#d70900 209.5px,#b13400 225.5px,#b03500 252.5px,#d80800 277.5px,#db1b00 293.5px,#e13f00 313.5px,#f6be00 395.5px,#f9d100 404.5px,#fad900 419.5px,#f5bc00 435.5px,#ed8f00 444.5px,#de2900 452.5px,#d80900 457.5px,#ce1400 458.5px,#af3600 460.5px,#796b00 462.5px,#5f7702 465.5px,#5a7a02 468.5px,#5a7a02 481.5px)"></i><i style="left:70px;width:1px;background:linear-gradient(#199417 0.5px,#348b06 53.5px,#776c00 92.5px,#836200 99.5px,#ad3900 116.5px,#cd1400 143.5px,#d80800 159.5px,#d90e00 187.5px,#d90d00 202.5px,#d80800 207.5px,#ad3800 224.5px,#aa3c00 238.5px,#ad3900 253.5px,#d80900 278.5px,#db1b00 293.5px,#f6c000 395.5px,#f9d300 404.5px,#fbdb00 419.5px,#f5bd00 435.5px,#ed8f00 444.5px,#de2b00 452.5px,#d80a00 457.5px,#ce1300 458.5px,#ad3800 460.5px,#736e00 462.5px,#587b02 465.5px,#547d03 468.5px,#547d03 481.5px)"></i><i style="left:71px;width:1px;background:linear-gradient(#179518 0.5px,#2f8c09 53.5px,#378a05 61.5px,#6d7101 98.5px,#7a6a00 103.5px,#ad3900 123.5px,#c71b00 143.5px,#d60b00 162.5px,#d80800 204.5px,#9f4600 225.5px,#974f00 238.5px,#a14500 253.5px,#d80800 280.5px,#db1900 293.5px,#f6c000 395.5px,#f9d100 403.5px,#fad800 412.5px,#fbdb00 419.5px,#f9d000 426.5px,#f4b600 436.5px,#f09d00 441.5px,#ed8900 444.5px,#e13b00 450.5px,#dd2700 452.5px,#d90d00 456.5px,#d50b00 457.5px,#b62f00 459.5px,#a14400 460.5px,#6b7201 462.5px,#527d03 465.5px,#4e7f03 468.5px,#4e7f03 481.5px)"></i><i style="left:72px;width:1px;background:linear-gradient(#1c9315 0.5px,#328c08 53.5px,#647502 98.5px,#7a6a00 106.5px,#ac3a00 126.5px,#c61c00 143.5px,#d60a00 162.5px,#d70900 203.5px,#ce1300 208.5px,#9e4700 224.5px,#8e5700 238.5px,#9e4800 253.5px,#d80800 280.5px,#db1900 293.5px,#ed8b00 363.5px,#f9d200 403.5px,#fad800 411.5px,#fbdc00 419.5px,#f9d100 426.5px,#f5b900 435.5px,#ee9500 442.5px,#ec8400 444.5px,#e03700 450.5px,#d90c00 456.5px,#d20e00 457.5px,#b33200 459.5px,#6f7001 462.5px,#587b02 465.5px,#547d03 468.5px,#547d03 481.5px)"></i><i style="left:73px;width:1px;background:linear-gradient(#0c981e 0.5px,#1f9213 53.5px,#3a8805 98.5px,#796b00 120.5px,#ad3900 137.5px,#b72d00 143.5px,#c91900 162.5px,#d11000 178.5px,#d40d00 188.5px,#c22100 207.5px,#ad3900 214.5px,#8c5900 220.5px,#7f6600 224.5px,#677401 238.5px,#7e6600 253.5px,#8a5b00 258.5px,#ac3a00 267.5px,#d80900 286.5px,#ec8800 363.5px,#f9d100 403.5px,#fbdb00 418.5px,#f9d100 425.5px,#f6c000 432.5px,#ef9800 441.5px,#ea7d00 444.5px,#de2e00 450.5px,#d90d00 455.5px,#d20f00 456.5px,#b33300 458.5px,#7f6600 460.5px,#697301 461.5px,#537d03 462.5px,#3d8705 465.5px,#3a8905 481.5px)"></i><i style="left:74px;width:1px;background:linear-gradient(#0c981f 0.5px,#2c8d0b 98.5px,#378a05 104.5px,#786c00 126.5px,#b03500 142.5px,#c61c00 163.5px,#d01100 187.5px,#ba2a00 208.5px,#a83d00 213.5px,#7a6a00 221.5px,#537d03 238.5px,#7a6a00 257.5px,#ac3a00 270.5px,#d80800 287.5px,#ec8700 363.5px,#f9d100 403.5px,#fbdb00 418.5px,#f9d100 425.5px,#f6c000 432.5px,#ef9500 441.5px,#e97600 444.5px,#dd2900 450.5px,#d80a00 455.5px,#cc1600 456.5px,#aa3c00 458.5px,#8b5a00 459.5px,#726f00 460.5px,#4c8003 462.5px,#3f8604 464.5px,#368a06 466.5px,#368a06 481.5px)"></i><i style="left:75px;width:1px;background:linear-gradient(#0b9821 0.5px,#239010 98.5px,#368a05 109.5px,#6a7201 128.5px,#7b6a00 132.5px,#a14500 142.5px,#ac3a00 147.5px,#bd2600 163.5px,#cc1600 187.5px,#b23300 208.5px,#ab3b00 210.5px,#707001 220.5px,#478304 238.5px,#6d7101 257.5px,#776c00 260.5px,#aa3b00 273.5px,#d80800 289.5px,#ec8600 363.5px,#f9cf00 403.5px,#fbd900 418.5px,#f9d000 425.5px,#f5bc00 432.5px,#ee9000 441.5px,#ea7c00 443.5px,#dd2500 450.5px,#d90d00 454.5px,#d60b00 455.5px,#b43100 457.5px,#9c4900 458.5px,#7e6600 459.5px,#667401 460.5px,#458304 462.5px,#338b07 466.5px,#338b07 481.5px)"></i><i style="left:76px;width:1px;background:linear-gradient(#159519 0.5px,#2f8d0a 99.5px,#388a05 105.5px,#6a7201 128.5px,#796b00 132.5px,#9a4c00 142.5px,#ab3b00 151.5px,#cf1200 187.5px,#b13400 208.5px,#ab3b00 210.5px,#766d00 221.5px,#597a02 238.5px,#7a6a00 258.5px,#ad3900 273.5px,#d70900 288.5px,#f8cd00 403.5px,#fad700 418.5px,#f8cd00 425.5px,#f6bf00 430.5px,#f4b400 433.5px,#ef9600 439.5px,#eb8100 442.5px,#e03900 448.5px,#dd2500 450.5px,#d70a00 455.5px,#a24300 458.5px,#885c00 459.5px,#736f00 460.5px,#577b03 462.5px,#507e03 463.5px,#458404 466.5px,#458404 481.5px)"></i><i style="left:77px;width:1px;background:linear-gradient(#0f971c 0.5px,#26900f 99.5px,#378a05 115.5px,#4d8003 128.5px,#796b00 142.5px,#925300 155.5px,#a63f00 163.5px,#c71b00 187.5px,#9f4700 207.5px,#796b00 216.5px,#667401 220.5px,#5e7802 223.5px,#4e7f03 238.5px,#657501 257.5px,#776c00 264.5px,#974e00 273.5px,#ae3700 278.5px,#d80800 291.5px,#f8ca00 403.5px,#f9d200 418.5px,#f7c600 426.5px,#f3b200 432.5px,#ee8f00 439.5px,#ea7900 442.5px,#df3300 448.5px,#dc2200 450.5px,#d80900 454.5px,#cc1500 455.5px,#aa3c00 457.5px,#786c00 459.5px,#627602 460.5px,#4b8103 462.5px,#448404 463.5px,#3b8805 466.5px,#3b8805 481.5px)"></i><i style="left:78px;width:1px;background:linear-gradient(#0b9825 0.5px,#0c981e 40.5px,#189417 98.5px,#2c8d0b 127.5px,#398905 134.5px,#507e03 143.5px,#687301 155.5px,#786c00 160.5px,#ac3900 178.5px,#bb2800 187.5px,#ad3900 194.5px,#875e00 203.5px,#7a6a00 208.5px,#468304 222.5px,#3c8805 238.5px,#537d03 262.5px,#776d00 272.5px,#875e00 276.5px,#ad3900 282.5px,#d70900 294.5px,#f7c500 403.5px,#f8cd00 418.5px,#f6c100 426.5px,#f2ab00 432.5px,#ec8800 439.5px,#e86f00 442.5px,#de2c00 448.5px,#d80b00 453.5px,#ce1300 454.5px,#ae3800 456.5px,#756d00 458.5px,#4b8103 460.5px,#388a05 462.5px,#2f8d0a 466.5px,#2f8d0a 481.5px)"></i><i style="left:79px;width:1px;background:linear-gradient(#0a9827 0.5px,#0c981e 61.5px,#13961a 98.5px,#1e9214 128.5px,#378a05 146.5px,#498204 155.5px,#716f01 167.5px,#aa3c00 182.5px,#b53000 187.5px,#ac3900 191.5px,#746e00 202.5px,#378a05 222.5px,#368a05 238.5px,#428504 262.5px,#736e00 276.5px,#ac3a00 284.5px,#d80800 296.5px,#ea7a00 359.5px,#f6c200 403.5px,#f8c900 418.5px,#f5bd00 426.5px,#eb8100 439.5px,#e97000 441.5px,#dd2600 448.5px,#d70900 453.5px,#b62f00 455.5px,#9f4700 456.5px,#7f6500 457.5px,#657501 458.5px,#3f8604 460.5px,#388905 461.5px,#2d8d0b 464.5px,#2c8e0b 481.5px)"></i><i style="left:80px;width:1px;background:linear-gradient(#189417 0.5px,#2d8d0b 128.5px,#378a05 137.5px,#577b03 155.5px,#766d00 164.5px,#ad3900 179.5px,#bd2700 187.5px,#ab3b00 195.5px,#895c00 202.5px,#796b00 207.5px,#547c03 222.5px,#5c7902 262.5px,#786c00 271.5px,#846100 275.5px,#ae3800 282.5px,#d80800 294.5px,#ea7a00 359.5px,#f6c200 404.5px,#f7c800 418.5px,#f5bc00 426.5px,#eb7f00 439.5px,#dd2900 448.5px,#d90c00 453.5px,#d01100 454.5px,#b03600 456.5px,#7f6600 458.5px,#5e7802 460.5px,#4b8103 463.5px,#498204 481.5px)"></i><i style="left:81px;width:1px;background:linear-gradient(#1a9416 0.5px,#2c8d0b 128.5px,#378a05 139.5px,#4d8003 155.5px,#786c00 168.5px,#ab3b00 182.5px,#b53000 187.5px,#aa3c00 194.5px,#786c00 206.5px,#567c03 222.5px,#5a7a02 262.5px,#786c00 272.5px,#816400 275.5px,#ac3a00 283.5px,#d80800 296.5px,#ea7b00 361.5px,#f6c000 404.5px,#f7c600 418.5px,#f5b900 426.5px,#ea7a00 439.5px,#df3000 447.5px,#d90b00 453.5px,#ce1300 454.5px,#ae3800 456.5px,#7e6600 458.5px,#5f7702 460.5px,#4e8003 463.5px,#4b8103 481.5px)"></i><i style="left:82px;width:1px;background:linear-gradient(#189417 0.5px,#288f0d 127.5px,#378a05 148.5px,#408604 156.5px,#766d00 172.5px,#aa3b00 188.5px,#945100 198.5px,#7b6900 203.5px,#6a7201 207.5px,#537d03 222.5px,#547d03 262.5px,#796b00 275.5px,#ab3b00 286.5px,#d70900 298.5px,#d80900 299.5px,#ea7a00 362.5px,#f5bd00 404.5px,#f6c300 418.5px,#f4b600 426.5px,#e97600 439.5px,#de2e00 447.5px,#d80900 453.5px,#a73f00 456.5px,#8c5900 457.5px,#796b00 458.5px,#5c7902 460.5px,#4f7f03 462.5px,#498204 464.5px,#498204 481.5px)"></i><i style="left:83px;width:1px;background:linear-gradient(#199416 0.5px,#288f0e 127.5px,#348b07 155.5px,#796c00 177.5px,#994c00 187.5px,#9c4900 190.5px,#915400 198.5px,#786c00 203.5px,#617702 208.5px,#537d03 223.5px,#517e03 262.5px,#786c00 276.5px,#a14500 287.5px,#ad3900 289.5px,#d80800 300.5px,#dc2300 313.5px,#ea7a00 363.5px,#f5bb00 404.5px,#f6c000 418.5px,#f4b300 426.5px,#ea7800 438.5px,#de2c00 447.5px,#d70900 453.5px,#b72e00 455.5px,#895c00 457.5px,#776d00 458.5px,#657501 459.5px,#507f03 462.5px,#4b8103 464.5px,#4b8103 481.5px)"></i><i style="left:84px;width:1px;background:linear-gradient(#10971b 0.5px,#239111 155.5px,#398905 166.5px,#7c6800 187.5px,#846000 191.5px,#7e6700 199.5px,#4c8003 208.5px,#468304 223.5px,#408604 262.5px,#776c00 282.5px,#855f00 287.5px,#aa3c00 292.5px,#d80800 303.5px,#dc1e00 313.5px,#ea7a00 365.5px,#f4b700 404.5px,#f5bd00 418.5px,#f3af00 426.5px,#e97200 438.5px,#dd2900 447.5px,#d90c00 452.5px,#cf1200 453.5px,#ae3800 455.5px,#796b00 457.5px,#557c03 459.5px,#418504 462.5px,#3e8704 464.5px,#3e8704 481.5px)"></i><i style="left:85px;width:1px;background:linear-gradient(#0b9824 0.5px,#13961a 155.5px,#378a05 176.5px,#637602 190.5px,#677401 197.5px,#647502 199.5px,#378a05 208.5px,#308c09 262.5px,#388905 267.5px,#716f01 288.5px,#ac3900 296.5px,#d80900 306.5px,#db1900 313.5px,#ea7900 366.5px,#f4b400 404.5px,#f5ba00 418.5px,#f3af00 425.5px,#e86d00 438.5px,#dd2400 447.5px,#d90d00 451.5px,#d50b00 452.5px,#b43100 454.5px,#7b6900 456.5px,#627602 457.5px,#517e03 458.5px,#408604 459.5px,#3a8905 460.5px,#2f8d0a 463.5px,#2f8d0a 481.5px)"></i><i style="left:86px;width:1px;background:linear-gradient(#0a9827 0.5px,#0f971c 155.5px,#2c8e0b 177.5px,#388a05 183.5px,#4e7f03 191.5px,#537d03 198.5px,#328c08 208.5px,#2d8d0b 262.5px,#388905 269.5px,#697301 288.5px,#7d6700 291.5px,#af3600 299.5px,#d80800 307.5px,#ea7a00 367.5px,#f3b100 403.5px,#f4b700 418.5px,#f2a900 426.5px,#e76900 438.5px,#de2900 446.5px,#d80a00 451.5px,#cf1200 452.5px,#ad3900 454.5px,#6f7001 456.5px,#577b03 457.5px,#368a06 459.5px,#278f0e 463.5px,#278f0e 481.5px)"></i><i style="left:87px;width:1px;background:linear-gradient(#0b9822 0.5px,#0c981e 48.5px,#199417 155.5px,#2f8d0a 178.5px,#4e8003 191.5px,#567c03 198.5px,#3f8604 208.5px,#3f8604 262.5px,#7a6a00 288.5px,#a34300 297.5px,#d60a00 306.5px,#d80a00 307.5px,#e97500 363.5px,#f3b100 404.5px,#f4b600 418.5px,#f2ac00 425.5px,#e76600 438.5px,#e03700 444.5px,#d90b00 451.5px,#cf1200 452.5px,#ae3800 454.5px,#736e00 456.5px,#478204 458.5px,#3a8805 459.5px,#348b07 460.5px,#2a8e0c 463.5px,#2a8e0d 481.5px)"></i><i style="left:88px;width:1px;background:linear-gradient(#169518 0.5px,#358b06 155.5px,#498204 177.5px,#6b7201 190.5px,#7a6a00 198.5px,#716f01 208.5px,#796b00 262.5px,#b43100 297.5px,#d70900 304.5px,#dd2600 317.5px,#ea7900 362.5px,#f3b300 404.5px,#f4b700 418.5px,#f2ac00 425.5px,#e86b00 437.5px,#de2b00 446.5px,#d60b00 452.5px,#b53000 454.5px,#836200 456.5px,#6d7101 457.5px,#587b02 458.5px,#3b8805 461.5px,#368a06 463.5px,#348b07 481.5px)"></i><i style="left:89px;width:1px;background:linear-gradient(#1b9315 0.5px,#2f8d0a 63.5px,#378a05 76.5px,#507e03 99.5px,#786c00 168.5px,#7f6500 178.5px,#ae3700 198.5px,#b13400 262.5px,#bb2900 297.5px,#d80800 303.5px,#db1900 308.5px,#de2c00 317.5px,#eb8000 362.5px,#f4b500 404.5px,#f4b800 418.5px,#f2ad00 425.5px,#e86a00 437.5px,#e03700 444.5px,#d80900 452.5px,#b72e00 454.5px,#855f00 456.5px,#6f7001 457.5px,#597a02 458.5px,#3b8805 461.5px,#368a05 462.5px,#2f8d0a 481.5px)"></i><i style="left:90px;width:1px;background:linear-gradient(#5f7802 0.5px,#786c00 31.5px,#925300 62.5px,#ab3b00 75.5px,#c71c00 99.5px,#d80800 142.5px,#d91000 177.5px,#dc1d00 198.5px,#d91100 297.5px,#e14100 318.5px,#ed8b00 362.5px,#f5bb00 403.5px,#f6c000 418.5px,#f3b100 426.5px,#ef9a00 429.5px,#e86b00 437.5px,#e14000 443.5px,#db1c00 451.5px,#d90e00 453.5px,#d20e00 454.5px,#c22100 455.5px,#ac3a00 457.5px,#9a4b00 458.5px,#7e6600 462.5px,#6e7001 481.5px)"></i><i style="left:91px;width:1px;background:linear-gradient(#c02300 0.5px,#d80800 43.5px,#d90e00 63.5px,#de2f00 99.5px,#e14100 177.5px,#e34f00 198.5px,#e03600 262.5px,#de2900 284.5px,#dd2700 297.5px,#de2e00 302.5px,#e45300 318.5px,#ef9600 362.5px,#f6c200 403.5px,#f8c900 418.5px,#f5ba00 426.5px,#ee9400 431.5px,#e86f00 437.5px,#e34a00 442.5px,#de2d00 451.5px,#d80a00 457.5px,#c91900 462.5px,#c61c00 481.5px)"></i><i style="left:92px;width:1px;background:linear-gradient(#d60a00 0.5px,#db1a00 62.5px,#e13f00 99.5px,#e45200 177.5px,#e65d00 197.5px,#e14100 262.5px,#e03600 273.5px,#df3200 297.5px,#e03800 302.5px,#e55a00 318.5px,#ef9900 362.5px,#f7c400 403.5px,#f8cd00 418.5px,#f6c200 425.5px,#ee9300 431.5px,#e24700 442.5px,#de2e00 451.5px,#da1400 456.5px,#d80a00 462.5px,#d80a00 481.5px)"></i><i style="left:93px;width:1px;background:linear-gradient(#aa3c00 0.5px,#cb1700 62.5px,#d80900 72.5px,#dc1e00 99.5px,#e03800 197.5px,#dd2600 285.5px,#df3300 302.5px,#e45300 318.5px,#ee9100 362.5px,#f5bd00 403.5px,#f7c800 418.5px,#f5bd00 425.5px,#f4b800 426.5px,#ec8900 431.5px,#e03900 442.5px,#d80b00 453.5px,#d20f00 454.5px,#c02300 456.5px,#b33200 461.5px,#ac3a00 481.5px)"></i><i style="left:94px;width:1px;background:linear-gradient(#288f0d 0.5px,#378a05 31.5px,#4f7f03 63.5px,#776c00 86.5px,#8d5800 99.5px,#ac3a00 141.5px,#c61c00 198.5px,#c91900 248.5px,#d20f00 262.5px,#d01200 272.5px,#d80800 280.5px,#dd2300 302.5px,#e34f00 327.5px,#ea7a00 356.5px,#f3b100 403.5px,#f5be00 418.5px,#f4b300 425.5px,#f3ad00 426.5px,#e97000 432.5px,#df3300 440.5px,#d80900 447.5px,#b33200 450.5px,#a24400 451.5px,#895c00 452.5px,#796b00 453.5px,#527d03 455.5px,#468304 456.5px,#378a05 461.5px,#2c8e0c 481.5px)"></i><i style="left:95px;width:1px;background:linear-gradient(#09972e 0.5px,#0c981e 68.5px,#1c9315 99.5px,#378a05 176.5px,#5f7702 248.5px,#7c6800 262.5px,#855f00 272.5px,#a93d00 281.5px,#b43000 285.5px,#d80800 294.5px,#dd2700 311.5px,#e97600 363.5px,#f4b800 418.5px,#f2ad00 425.5px,#f1a600 426.5px,#e76400 432.5px,#dd2500 440.5px,#d80800 445.5px,#b72e00 447.5px,#a14500 448.5px,#816300 449.5px,#627602 450.5px,#2d8d0b 452.5px,#0e971d 455.5px,#0b9821 456.5px,#0a9827 481.5px)"></i><i style="left:96px;width:1px;background:linear-gradient(#0a9829 0.5px,#0c981e 83.5px,#249010 197.5px,#338b07 248.5px,#5d7802 272.5px,#746e00 277.5px,#955000 284.5px,#af3600 288.5px,#d80800 298.5px,#dc2200 312.5px,#e97200 364.5px,#f4b600 418.5px,#f2ac00 425.5px,#f1a600 426.5px,#e76800 432.5px,#e03900 438.5px,#d90e00 445.5px,#d40d00 446.5px,#b53000 448.5px,#9e4800 449.5px,#806400 450.5px,#438504 452.5px,#199416 455.5px,#13961a 456.5px,#0d981e 459.5px,#0c981e 481.5px)"></i><i style="left:97px;width:1px;background:linear-gradient(#0c981f 0.5px,#209213 165.5px,#2f8d0a 249.5px,#378a05 256.5px,#557c03 272.5px,#756d00 279.5px,#8e5700 284.5px,#af3600 289.5px,#d80800 299.5px,#dc2200 313.5px,#ea7900 370.5px,#f4b700 418.5px,#f2ac00 425.5px,#f1a700 426.5px,#e86f00 432.5px,#e03900 439.5px,#d90e00 446.5px,#d50b00 447.5px,#b72d00 449.5px,#a44200 450.5px,#697301 452.5px,#3c8805 454.5px,#2c8e0c 455.5px,#249010 456.5px,#199417 459.5px,#199417 481.5px)"></i><i style="left:98px;width:1px;background:linear-gradient(#0b9821 0.5px,#278f0e 250.5px,#378a05 263.5px,#498204 273.5px,#776d00 282.5px,#8c5900 286.5px,#ac3a00 290.5px,#d80900 301.5px,#dc1f00 313.5px,#ea7a00 371.5px,#f4b700 418.5px,#f2ac00 425.5px,#f1a700 426.5px,#e13e00 439.5px,#d80b00 447.5px,#d11000 448.5px,#b13500 450.5px,#7a6a00 452.5px,#607702 453.5px,#308c09 455.5px,#1a9316 458.5px,#179518 459.5px,#179518 481.5px)"></i><i style="left:99px;width:1px;background:linear-gradient(#0a9827 0.5px,#0c981e 98.5px,#1e9214 250.5px,#3c8805 274.5px,#776d00 285.5px,#836100 287.5px,#ac3a00 292.5px,#cb1700 299.5px,#d80900 303.5px,#db1c00 313.5px,#ea7a00 372.5px,#f4b600 418.5px,#f1a600 426.5px,#e03a00 440.5px,#d70900 448.5px,#b62e00 450.5px,#a14500 451.5px,#826200 452.5px,#657501 453.5px,#308c09 455.5px,#14961a 458.5px,#0f971c 459.5px,#0f971c 481.5px)"></i><i style="left:100px;width:1px;background:linear-gradient(#09982b 0.5px,#0c981e 136.5px,#1a9416 251.5px,#378a05 275.5px,#796b00 287.5px,#ab3b00 293.5px,#d80800 304.5px,#db1c00 314.5px,#ea7900 372.5px,#f4b500 418.5px,#f1a600 426.5px,#e03800 441.5px,#d90d00 448.5px,#d11000 449.5px,#b13400 451.5px,#7b6900 453.5px,#3e8704 455.5px,#199417 458.5px,#12961b 459.5px,#0c981f 463.5px,#0c981f 481.5px)"></i><i style="left:101px;width:1px;background:linear-gradient(#0a9829 0.5px,#0c981e 117.5px,#1c9315 251.5px,#398905 275.5px,#796b00 287.5px,#af3700 294.5px,#d80800 304.5px,#dc1e00 315.5px,#ea7900 372.5px,#f4b600 418.5px,#f2a700 426.5px,#d90d00 449.5px,#d30e00 450.5px,#a54100 453.5px,#885d00 454.5px,#6a7301 455.5px,#3d8705 457.5px,#2d8d0b 458.5px,#1a9316 460.5px,#0d981d 464.5px,#0d981d 481.5px)"></i><i style="left:102px;width:1px;background:linear-gradient(#0a9829 0.5px,#0c981e 115.5px,#1c9314 252.5px,#3c8805 276.5px,#776d00 287.5px,#ad3900 294.5px,#cb1700 301.5px,#d80900 305.5px,#db1d00 315.5px,#ea7900 372.5px,#f4b600 418.5px,#f2a700 426.5px,#ea7b00 434.5px,#d60a00 451.5px,#ad3900 454.5px,#776c00 456.5px,#428504 458.5px,#239010 460.5px,#0d981d 464.5px,#0d981d 481.5px)"></i><i style="left:103px;width:1px;background:linear-gradient(#0b9825 0.5px,#0c981e 64.5px,#278f0e 252.5px,#378a05 266.5px,#488204 276.5px,#766d00 285.5px,#865f00 288.5px,#ac3a00 293.5px,#cf1300 301.5px,#d80900 304.5px,#dc1e00 315.5px,#ea7900 372.5px,#f4b600 418.5px,#f2ab00 425.5px,#ee9100 431.5px,#e76500 439.5px,#e03800 445.5px,#d90c00 452.5px,#d30d00 453.5px,#b33200 455.5px,#7f6500 457.5px,#468304 459.5px,#2f8c09 460.5px,#159519 463.5px,#10971c 464.5px,#10971c 481.5px)"></i><i style="left:104px;width:1px;background:linear-gradient(#0b9822 0.5px,#229111 112.5px,#378a05 134.5px,#4a8104 148.5px,#6e7001 252.5px,#816400 263.5px,#8a5b00 277.5px,#b33300 289.5px,#d70900 299.5px,#e97400 368.5px,#f4b600 418.5px,#f2ab00 425.5px,#ee9200 431.5px,#e76800 439.5px,#de2c00 447.5px,#d70900 453.5px,#b53000 455.5px,#9d4800 456.5px,#7e6600 457.5px,#5f7802 458.5px,#418604 459.5px,#2a8e0c 460.5px,#0c981e 463.5px,#0b9821 464.5px,#0b9821 481.5px)"></i><i style="left:105px;width:1px;background:linear-gradient(#1c9315 0.5px,#378a05 68.5px,#527e03 112.5px,#776c00 124.5px,#aa3b00 141.5px,#b62f00 148.5px,#d80800 256.5px,#d80800 279.5px,#d90e00 289.5px,#e03600 323.5px,#ea7900 368.5px,#f4b700 418.5px,#f2aa00 426.5px,#eb7f00 435.5px,#e76900 439.5px,#de2b00 447.5px,#d90d00 452.5px,#d40c00 453.5px,#b33200 455.5px,#7a6a00 457.5px,#3d8705 459.5px,#2b8e0c 460.5px,#0e971d 463.5px,#0c981f 481.5px)"></i><i style="left:106px;width:1px;background:linear-gradient(#0c9820 0.5px,#328c08 113.5px,#766d00 143.5px,#816400 148.5px,#b72e00 263.5px,#b62e00 277.5px,#bb2900 284.5px,#d80900 297.5px,#e97700 368.5px,#f5b900 418.5px,#f2ab00 426.5px,#ea7a00 436.5px,#e76900 439.5px,#de2900 447.5px,#d90c00 452.5px,#d11000 453.5px,#b03500 455.5px,#766d00 457.5px,#398905 459.5px,#2a8e0c 460.5px,#0f971c 463.5px,#0d981d 481.5px)"></i><i style="left:107px;width:1px;background:linear-gradient(#079736 0.5px,#0c981e 115.5px,#1c9315 148.5px,#388a05 259.5px,#5d7802 283.5px,#756d00 288.5px,#984d00 295.5px,#ad3900 298.5px,#d80900 309.5px,#ea7900 372.5px,#f5bb00 418.5px,#f3ad00 426.5px,#ea7b00 436.5px,#e76900 439.5px,#dd2900 447.5px,#d90c00 452.5px,#d01100 453.5px,#af3700 455.5px,#746e00 457.5px,#388a05 459.5px,#179417 462.5px,#11961b 464.5px,#11961b 481.5px)"></i><i style="left:108px;width:1px;background:linear-gradient(#079739 0.5px,#0c981e 141.5px,#268f0f 259.5px,#378a05 274.5px,#478204 283.5px,#756d00 292.5px,#846000 295.5px,#af3600 301.5px,#d80900 311.5px,#dc1f00 321.5px,#ea7900 372.5px,#f5bc00 418.5px,#f3af00 426.5px,#ea7c00 436.5px,#e86a00 439.5px,#de2900 447.5px,#d90d00 452.5px,#d11000 453.5px,#b13500 455.5px,#796b00 457.5px,#3c8705 459.5px,#1c9315 462.5px,#179418 463.5px,#179418 481.5px)"></i><i style="left:109px;width:1px;background:linear-gradient(#09982b 0.5px,#0c981e 73.5px,#358a06 260.5px,#5d7902 283.5px,#786c00 289.5px,#964f00 295.5px,#aa3c00 298.5px,#d80800 309.5px,#dc2100 321.5px,#ea7a00 372.5px,#f5bd00 418.5px,#f3b000 426.5px,#eb7d00 436.5px,#e86c00 439.5px,#de2d00 447.5px,#d80a00 453.5px,#cb1600 454.5px,#ac3a00 456.5px,#736e00 458.5px,#557c03 459.5px,#368a05 461.5px,#2c8e0b 462.5px,#278f0e 463.5px,#278f0e 481.5px)"></i><i style="left:110px;width:1px;background:linear-gradient(#09972d 0.5px,#0c981e 84.5px,#338b07 260.5px,#378a05 265.5px,#587b02 283.5px,#766d00 290.5px,#8f5600 295.5px,#a93d00 299.5px,#d80800 310.5px,#dd2700 325.5px,#ea7900 372.5px,#f5bd00 418.5px,#f3b000 426.5px,#eb7d00 436.5px,#e86b00 439.5px,#de2d00 447.5px,#d80900 453.5px,#a93d00 456.5px,#707001 458.5px,#517e03 459.5px,#2a8e0d 462.5px,#249010 463.5px,#249010 481.5px)"></i><i style="left:111px;width:1px;background:linear-gradient(#079738 0.5px,#0c981e 144.5px,#25900f 260.5px,#368a05 276.5px,#438504 283.5px,#547d03 288.5px,#736e00 294.5px,#7f6600 296.5px,#ae3700 303.5px,#d80900 313.5px,#dc2200 325.5px,#ea7900 373.5px,#f5bc00 418.5px,#f3af00 426.5px,#ea7c00 436.5px,#e86a00 439.5px,#de2900 447.5px,#d90d00 452.5px,#d10f00 453.5px,#b13400 455.5px,#7a6a00 457.5px,#3d8705 459.5px,#1c9314 462.5px,#179417 463.5px,#179417 481.5px)"></i><i style="left:112px;width:1px;background:linear-gradient(#02964e 0.5px,#0e971d 264.5px,#249010 283.5px,#358b06 290.5px,#547c03 296.5px,#786c00 301.5px,#ab3a00 307.5px,#d80800 317.5px,#e97200 371.5px,#f5b900 418.5px,#f2ac00 426.5px,#ea7900 436.5px,#e76700 439.5px,#dd2300 447.5px,#d90b00 451.5px,#d30e00 452.5px,#b13500 454.5px,#746e00 456.5px,#537d03 457.5px,#368a06 458.5px,#229111 459.5px,#0d981d 461.5px,#0a982a 463.5px,#0a982a 481.5px)"></i><i style="left:113px;width:1px;background:linear-gradient(#03974b 0.5px,#0c981e 245.5px,#11961b 264.5px,#278f0e 283.5px,#368a06 290.5px,#567c03 296.5px,#776d00 301.5px,#aa3c00 307.5px,#d80800 317.5px,#ea7900 375.5px,#f5ba00 418.5px,#f2ac00 426.5px,#ea7900 436.5px,#e76700 439.5px,#dd2400 447.5px,#d90c00 451.5px,#d50b00 452.5px,#b33200 454.5px,#994c00 455.5px,#796b00 456.5px,#597a02 457.5px,#3b8805 458.5px,#25900f 459.5px,#11961b 461.5px,#0a9827 463.5px,#0a9827 481.5px)"></i><i style="left:114px;width:1px;background:linear-gradient(#049746 0.5px,#0c981e 219.5px,#169518 264.5px,#358b06 289.5px,#796b00 301.5px,#ab3b00 307.5px,#d80800 317.5px,#db1b00 325.5px,#ea7900 375.5px,#f5ba00 418.5px,#f2ad00 426.5px,#ea7a00 436.5px,#e76800 439.5px,#dd2600 447.5px,#d80800 452.5px,#b72e00 454.5px,#a14500 455.5px,#816300 456.5px,#627602 457.5px,#438404 458.5px,#2b8e0c 459.5px,#0c981e 462.5px,#0b9822 463.5px,#0b9822 481.5px)"></i><i style="left:115px;width:1px;background:linear-gradient(#049745 0.5px,#0c981e 215.5px,#169518 264.5px,#358b06 289.5px,#746e00 301.5px,#ad3900 308.5px,#d80800 318.5px,#ea7a00 376.5px,#f5ba00 418.5px,#f3b000 425.5px,#ea7900 436.5px,#e76700 439.5px,#dd2500 447.5px,#d70900 452.5px,#b62f00 454.5px,#9f4700 455.5px,#7f6500 456.5px,#617702 457.5px,#438504 458.5px,#2b8e0c 459.5px,#0d981d 462.5px,#0b9821 463.5px,#0b9821 481.5px)"></i><i style="left:116px;width:1px;background:linear-gradient(#02964e 0.5px,#0c981e 265.5px,#26900f 288.5px,#368a06 293.5px,#587b02 300.5px,#786c00 304.5px,#af3700 311.5px,#d60a00 320.5px,#d80900 321.5px,#ea7900 377.5px,#f4b800 418.5px,#f3ae00 425.5px,#ea7b00 435.5px,#e86a00 438.5px,#dc2100 447.5px,#d80900 451.5px,#cd1400 452.5px,#aa3c00 454.5px,#8a5b00 455.5px,#697301 456.5px,#318c09 458.5px,#1e9214 459.5px,#0c981f 461.5px,#0a982a 463.5px,#0a982a 481.5px)"></i><i style="left:117px;width:1px;background:linear-gradient(#06973c 0.5px,#0c981e 169.5px,#219112 265.5px,#3c8805 288.5px,#736e00 300.5px,#796b00 301.5px,#ac3a00 308.5px,#d80800 319.5px,#ea7a00 377.5px,#f5b900 418.5px,#f3af00 425.5px,#f2ab00 426.5px,#e86a00 438.5px,#dd2500 447.5px,#d60a00 452.5px,#b52f00 454.5px,#a04600 455.5px,#826300 456.5px,#657501 457.5px,#318c09 459.5px,#179418 462.5px,#13961a 463.5px,#13961a 481.5px)"></i><i style="left:118px;width:1px;background:linear-gradient(#06973b 0.5px,#0c981e 159.5px,#239011 265.5px,#3e8704 288.5px,#726f00 300.5px,#776c00 301.5px,#ae3800 309.5px,#d80800 320.5px,#ea7a00 378.5px,#f5b900 418.5px,#f3af00 425.5px,#e76800 438.5px,#df3200 445.5px,#d90c00 451.5px,#d40d00 452.5px,#b43100 454.5px,#9c4900 455.5px,#7e6600 456.5px,#637602 457.5px,#318c09 459.5px,#199417 462.5px,#159519 463.5px,#159519 481.5px)"></i><i style="left:119px;width:1px;background:linear-gradient(#03964b 0.5px,#0f971c 265.5px,#278f0f 288.5px,#368a05 294.5px,#4f7f03 300.5px,#786c00 306.5px,#ab3b00 313.5px,#d80800 324.5px,#ea7a00 380.5px,#f4b600 418.5px,#f2ac00 425.5px,#e76300 438.5px,#df3400 444.5px,#d90b00 450.5px,#d11000 451.5px,#b33200 453.5px,#7b6900 455.5px,#5b7a02 456.5px,#408604 457.5px,#2c8e0b 458.5px,#1b9315 459.5px,#12961a 460.5px,#0c981e 461.5px,#0a9827 463.5px,#0a9827 481.5px)"></i><i style="left:120px;width:1px;background:linear-gradient(#02964e 0.5px,#0c981e 266.5px,#229111 288.5px,#368a06 296.5px,#4a8104 301.5px,#7b6a00 308.5px,#ab3b00 315.5px,#d80800 326.5px,#e97600 379.5px,#f4b500 418.5px,#f2ab00 425.5px,#f09c00 427.5px,#e66100 438.5px,#e03800 443.5px,#d80900 450.5px,#bf2500 452.5px,#ad3800 453.5px,#6f7001 455.5px,#4f7f03 456.5px,#368a06 457.5px,#159519 459.5px,#0d981d 460.5px,#0a982a 463.5px,#0a982a 481.5px)"></i><i style="left:121px;width:1px;background:linear-gradient(#03974a 0.5px,#0c981e 247.5px,#10971c 265.5px,#26900f 288.5px,#368a06 295.5px,#4c8003 301.5px,#7a6b00 308.5px,#ad3900 316.5px,#d80900 327.5px,#ea7900 381.5px,#f4b500 418.5px,#f2aa00 425.5px,#ef9a00 427.5px,#e65f00 438.5px,#e03800 443.5px,#d80900 450.5px,#be2600 452.5px,#ad3900 453.5px,#707001 455.5px,#4f7f03 456.5px,#378a05 457.5px,#189417 459.5px,#10971c 460.5px,#0a9826 463.5px,#0a9826 481.5px)"></i><i style="left:122px;width:1px;background:linear-gradient(#059742 0.5px,#0c981e 203.5px,#199416 265.5px,#308c09 289.5px,#557c03 301.5px,#796b00 307.5px,#aa3c00 315.5px,#d80900 327.5px,#ea7a00 382.5px,#f4b500 418.5px,#f2aa00 425.5px,#ef9900 427.5px,#e65e00 438.5px,#e03800 443.5px,#d80a00 450.5px,#ce1300 451.5px,#b03600 453.5px,#776c00 455.5px,#577b03 456.5px,#2e8d0a 458.5px,#1f9213 459.5px,#189417 460.5px,#0c981e 463.5px,#0c981e 481.5px)"></i><i style="left:123px;width:1px;background:linear-gradient(#079738 0.5px,#0c981e 149.5px,#249010 264.5px,#2b8e0c 275.5px,#3c8805 289.5px,#5e7802 300.5px,#707001 304.5px,#aa3c00 314.5px,#d70a00 326.5px,#d80900 327.5px,#ea7a00 382.5px,#f4b500 418.5px,#f2ab00 425.5px,#ef9900 427.5px,#e76900 436.5px,#d90c00 450.5px,#d20f00 451.5px,#b43100 453.5px,#9e4800 454.5px,#816300 455.5px,#627602 456.5px,#378a05 458.5px,#298f0d 459.5px,#229111 460.5px,#189417 463.5px,#189417 481.5px)"></i><i style="left:124px;width:1px;background:linear-gradient(#089732 0.5px,#0c981e 114.5px,#2c8e0c 264.5px,#318c08 275.5px,#458304 289.5px,#647502 300.5px,#746e00 304.5px,#ab3b00 314.5px,#d80900 327.5px,#ea7900 382.5px,#f4b500 418.5px,#f2ab00 425.5px,#ef9700 427.5px,#e76800 436.5px,#d90d00 450.5px,#d40d00 451.5px,#b62f00 453.5px,#a14400 454.5px,#856000 455.5px,#677401 456.5px,#3d8705 458.5px,#2e8d0a 459.5px,#278f0e 460.5px,#1f9213 463.5px,#1f9213 481.5px)"></i><i style="left:125px;width:1px;background:linear-gradient(#06973d 0.5px,#0c981e 174.5px,#249010 275.5px,#368a06 291.5px,#4c8003 300.5px,#5b7a02 304.5px,#776c00 309.5px,#ad3900 319.5px,#d70900 330.5px,#ea7a00 384.5px,#f3b300 418.5px,#f2a900 425.5px,#ee9400 427.5px,#e76500 436.5px,#d80800 450.5px,#a73f00 453.5px,#6c7101 455.5px,#4d8003 456.5px,#398905 457.5px,#2c8e0b 458.5px,#1f9213 459.5px,#199417 460.5px,#12961a 463.5px,#12961a 481.5px)"></i><i style="left:126px;width:1px;background:linear-gradient(#06973c 0.5px,#0c981e 174.5px,#239111 275.5px,#368a06 292.5px,#547d03 304.5px,#7a6a00 311.5px,#974e00 317.5px,#ac3a00 320.5px,#d80900 332.5px,#dc2200 342.5px,#ea7800 384.5px,#f3b200 418.5px,#f2a800 425.5px,#ee9200 427.5px,#e76800 435.5px,#de2c00 444.5px,#d50b00 450.5px,#b62e00 452.5px,#a14500 453.5px,#836100 454.5px,#657501 455.5px,#478304 456.5px,#358b06 457.5px,#1d9214 459.5px,#179418 460.5px,#12961a 463.5px,#12961a 481.5px)"></i><i style="left:127px;width:1px;background:linear-gradient(#06973b 0.5px,#0c981e 164.5px,#249010 275.5px,#368a05 292.5px,#507e03 304.5px,#796b00 312.5px,#905500 317.5px,#ac3a00 321.5px,#d80900 333.5px,#dc2000 342.5px,#ea7900 385.5px,#f3b100 418.5px,#f2a700 425.5px,#ee9000 427.5px,#e76700 435.5px,#db1a00 447.5px,#d40d00 450.5px,#b43100 452.5px,#806400 454.5px,#627602 455.5px,#438404 456.5px,#1d9214 459.5px,#179417 460.5px,#159519 463.5px,#159519 481.5px)"></i><i style="left:128px;width:1px;background:linear-gradient(#089733 0.5px,#0c981e 121.5px,#2c8d0b 275.5px,#378a05 286.5px,#547d03 303.5px,#746e00 310.5px,#935200 317.5px,#ad3900 321.5px,#d80900 333.5px,#dc2000 342.5px,#ea7900 385.5px,#f3b200 418.5px,#f2a700 425.5px,#ee8f00 427.5px,#e76600 435.5px,#e03800 442.5px,#d70900 450.5px,#a34300 453.5px,#865f00 454.5px,#697301 455.5px,#4a8104 456.5px,#3a8905 457.5px,#249010 459.5px,#1f9213 460.5px,#1e9214 462.5px,#1e9214 481.5px)"></i><i style="left:129px;width:1px;background:linear-gradient(#079735 0.5px,#0c981e 133.5px,#2a8e0c 276.5px,#388a05 289.5px,#4d8003 303.5px,#756d00 312.5px,#8b5a00 317.5px,#ab3b00 322.5px,#d60a00 333.5px,#d80900 334.5px,#dc1e00 342.5px,#ea7900 386.5px,#f3b000 418.5px,#f1a500 425.5px,#ed8e00 427.5px,#e76400 435.5px,#d90e00 449.5px,#d20e00 450.5px,#b23300 452.5px,#7d6700 454.5px,#428504 456.5px,#209112 459.5px,#1b9315 460.5px,#1b9315 481.5px)"></i><i style="left:130px;width:1px;background:linear-gradient(#079739 0.5px,#0c981e 155.5px,#26900f 276.5px,#378a05 293.5px,#468304 303.5px,#766d00 314.5px,#885c00 318.5px,#af3700 324.5px,#d60a00 334.5px,#d80a00 335.5px,#db1c00 342.5px,#ea7800 387.5px,#f3ad00 418.5px,#f1a300 425.5px,#ed8c00 427.5px,#e66100 435.5px,#d80a00 449.5px,#cc1500 450.5px,#ac3a00 452.5px,#726f00 454.5px,#388a05 456.5px,#1b9315 459.5px,#179418 460.5px,#179418 481.5px)"></i><i style="left:131px;width:1px;background:linear-gradient(#049747 0.5px,#0c981e 235.5px,#159519 276.5px,#308c09 303.5px,#378a05 306.5px,#697301 317.5px,#766d00 319.5px,#ad3800 327.5px,#d80900 337.5px,#ea7900 389.5px,#f2aa00 418.5px,#f09f00 425.5px,#ed8900 427.5px,#e65d00 435.5px,#d80a00 448.5px,#cf1200 449.5px,#ae3800 451.5px,#716f01 453.5px,#537d03 454.5px,#378a05 455.5px,#259010 456.5px,#0c981f 459.5px,#0b9823 460.5px,#0b9823 481.5px)"></i><i style="left:132px;width:1px;background:linear-gradient(#049748 0.5px,#0c981e 241.5px,#13961a 276.5px,#2e8d0a 303.5px,#388905 307.5px,#667501 317.5px,#7a6b00 320.5px,#ab3b00 327.5px,#d70900 337.5px,#ea7900 390.5px,#f2a800 418.5px,#f09d00 425.5px,#ec8800 427.5px,#e55c00 435.5px,#d80800 448.5px,#cb1600 449.5px,#a73e00 451.5px,#895c00 452.5px,#697301 453.5px,#338b07 455.5px,#229111 456.5px,#11961b 458.5px,#0b9824 460.5px,#0b9824 481.5px)"></i><i style="left:133px;width:1px;background:linear-gradient(#049745 0.5px,#0c981e 223.5px,#179417 276.5px,#368a06 305.5px,#458404 309.5px,#766d00 319.5px,#ad3900 327.5px,#d80800 337.5px,#ea7900 391.5px,#f1a600 418.5px,#f09c00 425.5px,#ec8800 427.5px,#d70900 448.5px,#ca1800 449.5px,#a64000 451.5px,#885d00 452.5px,#687301 453.5px,#358b06 455.5px,#239010 456.5px,#0c981e 459.5px,#0b9821 481.5px)"></i><i style="left:134px;width:1px;background:linear-gradient(#079737 0.5px,#0c981e 147.5px,#278f0e 276.5px,#378a05 293.5px,#468304 303.5px,#577b03 308.5px,#776d00 315.5px,#856000 318.5px,#af3700 325.5px,#d60a00 335.5px,#d80900 336.5px,#dc2100 346.5px,#ea7a00 391.5px,#f1a600 418.5px,#f09b00 425.5px,#ec8800 427.5px,#d80b00 448.5px,#d11000 449.5px,#b03500 451.5px,#7a6a00 453.5px,#607702 454.5px,#318c08 456.5px,#1c9315 459.5px,#189417 460.5px,#189417 481.5px)"></i><i style="left:135px;width:1px;background:linear-gradient(#06973a 0.5px,#0c981e 164.5px,#239010 276.5px,#418604 303.5px,#547d03 309.5px,#756e00 316.5px,#7e6600 318.5px,#aa3c00 325.5px,#d70900 336.5px,#ea7900 392.5px,#f1a300 418.5px,#ef9900 425.5px,#ec8700 427.5px,#d80800 448.5px,#aa3c00 451.5px,#6e7001 453.5px,#3e8704 455.5px,#2c8e0c 456.5px,#249010 457.5px,#159519 460.5px,#159519 481.5px)"></i><i style="left:136px;width:1px;background:linear-gradient(#049744 0.5px,#0c981e 218.5px,#1b9316 280.5px,#358a06 305.5px,#428504 309.5px,#677401 317.5px,#796b00 320.5px,#ad3800 328.5px,#d80800 338.5px,#e97400 391.5px,#f0a000 418.5px,#ef9600 425.5px,#ec8500 427.5px,#d80a00 447.5px,#cf1300 448.5px,#b03500 450.5px,#776c00 452.5px,#577b03 453.5px,#2e8d0a 455.5px,#1e9213 456.5px,#179418 457.5px,#0c9820 460.5px,#0c9820 481.5px)"></i><i style="left:137px;width:1px;background:linear-gradient(#049745 0.5px,#0c981e 225.5px,#199417 280.5px,#308c09 303.5px,#3b8805 308.5px,#637502 317.5px,#7b6a00 321.5px,#aa3b00 328.5px,#d80900 339.5px,#e97200 391.5px,#f09e00 418.5px,#ee9400 425.5px,#ec8300 427.5px,#d80900 447.5px,#ac3a00 450.5px,#6f7001 452.5px,#4f7f03 453.5px,#398905 454.5px,#2a8e0d 455.5px,#1b9315 456.5px,#14951a 457.5px,#0b9821 460.5px,#0b9821 481.5px)"></i><i style="left:138px;width:1px;background:linear-gradient(#059741 0.5px,#0c981e 204.5px,#1d9314 280.5px,#378a05 305.5px,#438404 309.5px,#687301 317.5px,#846100 322.5px,#ad3900 328.5px,#d60a00 338.5px,#d80a00 339.5px,#e97300 392.5px,#f09c00 418.5px,#ee9200 425.5px,#d80900 447.5px,#ab3b00 450.5px,#6f7001 452.5px,#4f7f03 453.5px,#3a8905 454.5px,#2b8e0c 455.5px,#1d9214 456.5px,#169518 457.5px,#0d981d 460.5px,#0d981d 481.5px)"></i><i style="left:139px;width:1px;background:linear-gradient(#049748 0.5px,#0c981e 244.5px,#149519 280.5px,#2c8e0c 303.5px,#368a06 309.5px,#766d00 322.5px,#ae3800 330.5px,#d80900 340.5px,#e76900 388.5px,#ef9a00 418.5px,#ee8f00 425.5px,#d90d00 446.5px,#d20f00 447.5px,#b33200 449.5px,#7c6900 451.5px,#3d8705 453.5px,#13961a 456.5px,#0c981e 457.5px,#0b9824 460.5px,#0b9824 481.5px)"></i><i style="left:140px;width:1px;background:linear-gradient(#039749 0.5px,#0c981e 251.5px,#13961a 280.5px,#2a8e0d 303.5px,#378a05 310.5px,#5c7902 318.5px,#786c00 323.5px,#ab3b00 330.5px,#d60a00 340.5px,#d80a00 341.5px,#e76900 389.5px,#ef9700 418.5px,#ed8d00 425.5px,#d90b00 446.5px,#ce1300 447.5px,#af3600 449.5px,#736e00 451.5px,#547d03 452.5px,#368a06 453.5px,#10971c 456.5px,#0b9825 460.5px,#0b9825 481.5px)"></i><i style="left:141px;width:1px;background:linear-gradient(#06973b 0.5px,#0c981e 168.5px,#249010 280.5px,#378a05 299.5px,#478304 308.5px,#746e00 318.5px,#875d00 322.5px,#ae3700 328.5px,#d80900 339.5px,#e55b00 381.5px,#ef9700 418.5px,#ed8d00 425.5px,#e03700 439.5px,#d60a00 447.5px,#b72d00 449.5px,#a24300 450.5px,#855f00 451.5px,#677401 452.5px,#498204 453.5px,#378a05 454.5px,#1f9213 456.5px,#199417 457.5px,#159519 460.5px,#159519 481.5px)"></i><i style="left:142px;width:1px;background:linear-gradient(#089730 0.5px,#0c981e 103.5px,#318c09 280.5px,#388a05 287.5px,#597a02 308.5px,#746e00 314.5px,#984e00 322.5px,#ab3b00 325.5px,#d80800 337.5px,#dc1e00 347.5px,#e55b00 381.5px,#ef9700 418.5px,#ec8800 426.5px,#d80a00 447.5px,#cc1500 448.5px,#ad3900 450.5px,#756d00 452.5px,#567b03 453.5px,#358b06 455.5px,#249010 457.5px,#229111 481.5px)"></i><i style="left:143px;width:1px;background:linear-gradient(#05973f 0.5px,#0c981e 194.5px,#1e9214 280.5px,#3c8805 308.5px,#7c6800 322.5px,#ac3a00 329.5px,#d80800 340.5px,#e86c00 393.5px,#ee9300 418.5px,#ec8400 426.5px,#e03800 438.5px,#d90b00 446.5px,#ce1400 447.5px,#ad3900 449.5px,#716f01 451.5px,#537d03 452.5px,#358b06 453.5px,#159518 456.5px,#10971c 457.5px,#10971c 459.5px,#0f971c 481.5px)"></i><i style="left:144px;width:1px;background:linear-gradient(#039749 0.5px,#0c981e 253.5px,#11961b 280.5px,#2d8d0b 308.5px,#358b06 311.5px,#677401 322.5px,#756d00 324.5px,#ae3800 332.5px,#d80900 342.5px,#e76900 393.5px,#ee9000 418.5px,#eb8200 426.5px,#e03b00 437.5px,#d90c00 445.5px,#d50b00 446.5px,#b33200 448.5px,#796b00 450.5px,#597a02 451.5px,#3b8805 452.5px,#268f0f 453.5px,#0b9821 456.5px,#0b9825 457.5px,#0b9825 481.5px)"></i><i style="left:145px;width:2px;background:linear-gradient(#02964e 0.5px,#0d981d 282.5px,#278f0e 308.5px,#378a05 314.5px,#5b7a02 322.5px,#776c00 326.5px,#a93d00 333.5px,#d80900 344.5px,#e76700 393.5px,#ed8e00 418.5px,#eb8000 426.5px,#d80900 445.5px,#ce1300 446.5px,#ab3b00 448.5px,#6a7201 450.5px,#4a8104 451.5px,#318c08 452.5px,#1e9213 453.5px,#0c981f 455.5px,#0a982a 457.5px,#0a982a 481.5px)"></i><i style="left:147px;width:1px;background:linear-gradient(#05973f 0.5px,#0c981e 196.5px,#1d9214 281.5px,#388a05 308.5px,#716f01 322.5px,#7d6700 324.5px,#aa3b00 331.5px,#d70900 342.5px,#e76700 393.5px,#ed8f00 418.5px,#eb8000 426.5px,#e03b00 437.5px,#d90d00 445.5px,#d50c00 446.5px,#b43100 448.5px,#9c4a00 449.5px,#7e6700 450.5px,#5e7802 451.5px,#2e8d0a 453.5px,#13961a 456.5px,#0f971c 457.5px,#0f971c 481.5px)"></i><i style="left:148px;width:1px;background:linear-gradient(#06973b 0.5px,#0c981e 168.5px,#239011 281.5px,#408604 308.5px,#5c7902 316.5px,#776c00 322.5px,#ad3900 331.5px,#d80800 342.5px,#e55900 385.5px,#ed8e00 418.5px,#eb8000 426.5px,#e03b00 437.5px,#d60b00 446.5px,#b53000 448.5px,#9f4700 449.5px,#816300 450.5px,#637602 451.5px,#328c08 453.5px,#189417 456.5px,#159519 457.5px,#159519 481.5px)"></i><i style="left:149px;width:1px;background:linear-gradient(#05973f 0.5px,#0c981e 195.5px,#1e9214 281.5px,#378a05 308.5px,#517e03 316.5px,#6c7101 322.5px,#786c00 324.5px,#aa3c00 332.5px,#d70900 343.5px,#e76600 393.5px,#ed8d00 418.5px,#eb7f00 426.5px,#d80b00 445.5px,#d01100 446.5px,#af3600 448.5px,#766d00 450.5px,#567c03 451.5px,#3e8704 452.5px,#2b8e0c 453.5px,#13961a 456.5px,#0f971c 481.5px)"></i><i style="left:150px;width:1px;background:linear-gradient(#05973f 0.5px,#0c981e 197.5px,#1d9214 281.5px,#388a05 309.5px,#4e7f03 316.5px,#697301 322.5px,#7b6900 325.5px,#ac3a00 333.5px,#d80800 344.5px,#e76400 393.5px,#ed8c00 418.5px,#eb7e00 426.5px,#d80a00 445.5px,#ce1400 446.5px,#ad3900 448.5px,#716f01 450.5px,#527e03 451.5px,#3a8905 452.5px,#2a8e0d 453.5px,#179417 455.5px,#0f971c 457.5px,#0f971c 481.5px)"></i><i style="left:151px;width:1px;background:linear-gradient(#059740 0.5px,#0c981e 202.5px,#1c9315 281.5px,#368a06 309.5px,#4a8104 316.5px,#657501 322.5px,#7d6800 326.5px,#ad3800 334.5px,#d80900 345.5px,#e76300 393.5px,#ed8b00 418.5px,#ea7d00 426.5px,#d80800 445.5px,#cb1700 446.5px,#a73e00 448.5px,#895b00 449.5px,#6b7201 450.5px,#4c8003 451.5px,#368a06 452.5px,#278f0e 453.5px,#159518 455.5px,#0e971d 457.5px,#0e971d 481.5px)"></i><i style="left:152px;width:1px;background:linear-gradient(#049744 0.5px,#0c981e 228.5px,#1a9316 288.5px,#368a06 312.5px,#448404 317.5px,#5b7902 322.5px,#786c00 327.5px,#8e5700 331.5px,#ab3b00 335.5px,#d80800 346.5px,#e66200 393.5px,#ed8a00 418.5px,#ea7b00 426.5px,#e03500 437.5px,#d90d00 444.5px,#d40d00 445.5px,#b43000 447.5px,#9c4900 448.5px,#7e6600 449.5px,#408604 451.5px,#219112 453.5px,#0f971c 455.5px,#0c9820 457.5px,#0c9820 481.5px)"></i><i style="left:153px;width:1px;background:linear-gradient(#02964e 0.5px,#0f971c 288.5px,#239111 308.5px,#358a06 318.5px,#4c8003 323.5px,#746e00 330.5px,#ae3800 338.5px,#d80800 348.5px,#e76500 396.5px,#ec8800 418.5px,#ea7900 426.5px,#e03800 436.5px,#d80900 444.5px,#cb1700 445.5px,#a93d00 447.5px,#895c00 448.5px,#697301 449.5px,#498204 450.5px,#2f8d0a 451.5px,#149519 453.5px,#0c9820 454.5px,#0a982a 457.5px,#0a982a 481.5px)"></i><i style="left:154px;width:1px;background:linear-gradient(#039749 0.5px,#0c981e 254.5px,#149519 288.5px,#288f0e 308.5px,#378a05 317.5px,#796b00 330.5px,#ab3b00 337.5px,#d80900 348.5px,#e66300 395.5px,#ec8800 418.5px,#ea7900 426.5px,#e03800 436.5px,#d80a00 444.5px,#cd1500 445.5px,#ac3a00 447.5px,#6d7101 449.5px,#4e7f03 450.5px,#328c08 451.5px,#0e971d 454.5px,#0b9825 457.5px,#0b9825 481.5px)"></i><i style="left:155px;width:1px;background:linear-gradient(#049744 0.5px,#0c981e 228.5px,#199416 288.5px,#398905 316.5px,#776c00 329.5px,#ad3900 337.5px,#d80900 348.5px,#e66200 395.5px,#ec8700 418.5px,#ea7900 426.5px,#e03800 436.5px,#d90b00 444.5px,#ce1400 445.5px,#ad3800 447.5px,#716f01 449.5px,#348b07 451.5px,#12961a 454.5px,#0c981e 455.5px,#0c9820 481.5px)"></i><i style="left:156px;width:1px;background:linear-gradient(#049748 0.5px,#0c981e 254.5px,#13961a 288.5px,#298f0d 309.5px,#368a05 318.5px,#776c00 331.5px,#aa3c00 338.5px,#d80800 349.5px,#e66100 395.5px,#ec8600 418.5px,#ea7700 426.5px,#e13d00 435.5px,#d80900 444.5px,#b82c00 446.5px,#a34200 447.5px,#846100 448.5px,#647502 449.5px,#2c8d0b 451.5px,#0c981e 454.5px,#0b9825 457.5px,#0b9825 481.5px)"></i><i style="left:157px;width:1px;background:linear-gradient(#039749 0.5px,#0c981e 259.5px,#12961b 288.5px,#2f8d0a 316.5px,#378a05 319.5px,#6b7201 330.5px,#796b00 332.5px,#ac3a00 339.5px,#d60a00 349.5px,#d80900 350.5px,#e66100 396.5px,#ec8500 418.5px,#e97600 426.5px,#e13c00 435.5px,#d70900 444.5px,#b52f00 446.5px,#9e4800 447.5px,#7e6600 448.5px,#5e7802 449.5px,#408604 450.5px,#298f0d 451.5px,#0c9820 454.5px,#0b9825 456.5px,#0b9825 481.5px)"></i><i style="left:158px;width:1px;background:linear-gradient(#03974a 0.5px,#0c981e 263.5px,#11961b 288.5px,#2d8d0b 316.5px,#358b06 319.5px,#667401 330.5px,#746e00 332.5px,#ad3900 340.5px,#d70900 350.5px,#e66000 396.5px,#ec8400 418.5px,#e97500 426.5px,#e03a00 435.5px,#d90b00 443.5px,#d30e00 444.5px,#b13400 446.5px,#766d00 448.5px,#398905 450.5px,#25900f 451.5px,#0b9822 454.5px,#0a9826 455.5px,#0a9826 481.5px)"></i><i style="left:159px;width:1px;background:linear-gradient(#049744 0.5px,#0c981e 231.5px,#179417 288.5px,#388a05 318.5px,#736e00 331.5px,#aa3c00 339.5px,#d80800 350.5px,#e65f00 395.5px,#ec8400 418.5px,#ea7a00 425.5px,#d80b00 443.5px,#d11000 444.5px,#b03600 446.5px,#776c00 448.5px,#3d8705 450.5px,#298f0d 451.5px,#0e971d 454.5px,#0c9820 455.5px,#0c9820 481.5px)"></i><i style="left:160px;width:1px;background:linear-gradient(#06973e 0.5px,#0c981e 191.5px,#209213 289.5px,#3c8805 316.5px,#766d00 330.5px,#ae3800 339.5px,#d60a00 349.5px,#d80900 350.5px,#e65f00 395.5px,#ec8500 418.5px,#ea7a00 425.5px,#e45200 431.5px,#d80a00 443.5px,#d01100 444.5px,#b03500 446.5px,#7a6a00 448.5px,#5e7802 449.5px,#428504 450.5px,#2e8d0a 451.5px,#159519 454.5px,#11961b 455.5px,#11961b 481.5px)"></i><i style="left:161px;width:1px;background:linear-gradient(#059743 0.5px,#0c981e 225.5px,#199417 289.5px,#348b07 317.5px,#4d8003 324.5px,#697301 330.5px,#7c6800 333.5px,#a93d00 340.5px,#d80800 351.5px,#e65f00 396.5px,#ec8300 418.5px,#ea7900 425.5px,#e45500 430.5px,#d90c00 442.5px,#d30d00 443.5px,#b62e00 445.5px,#a14500 446.5px,#836200 447.5px,#4c8003 449.5px,#348b07 450.5px,#249010 451.5px,#0e971d 454.5px,#0c981f 481.5px)"></i><i style="left:162px;width:1px;background:linear-gradient(#059742 0.5px,#0c981e 219.5px,#1a9316 289.5px,#358b06 317.5px,#4c8003 324.5px,#687401 330.5px,#7a6a00 333.5px,#ad3900 341.5px,#d80900 352.5px,#e65d00 395.5px,#ec8300 418.5px,#ea7800 425.5px,#e76600 427.5px,#d80a00 442.5px,#cf1200 443.5px,#b23400 445.5px,#7b6900 447.5px,#468304 449.5px,#318c09 450.5px,#229111 451.5px,#0f971c 454.5px,#0c981e 481.5px)"></i><i style="left:163px;width:1px;background:linear-gradient(#06973b 0.5px,#0c981e 176.5px,#229111 289.5px,#3d8705 316.5px,#567c03 324.5px,#716f01 330.5px,#7d6700 332.5px,#ac3a00 340.5px,#d80800 351.5px,#e45200 389.5px,#ec8300 418.5px,#ea7900 425.5px,#e76500 427.5px,#d80a00 442.5px,#cf1200 443.5px,#b23300 445.5px,#7d6700 447.5px,#647502 448.5px,#358b06 450.5px,#288f0e 451.5px,#179418 454.5px,#149519 481.5px)"></i><i style="left:164px;width:1px;background:linear-gradient(#079737 0.5px,#0c981e 149.5px,#2c8e0c 296.5px,#448404 316.5px,#5b7902 324.5px,#766d00 330.5px,#ad3800 340.5px,#d80800 351.5px,#e45000 388.5px,#ec8400 418.5px,#ea7900 425.5px,#e76400 427.5px,#d80900 442.5px,#cd1400 443.5px,#b03600 445.5px,#796b00 447.5px,#358b06 450.5px,#298e0d 451.5px,#199417 455.5px,#199417 481.5px)"></i><i style="left:165px;width:1px;background:linear-gradient(#09982b 0.5px,#0c981e 62.5px,#3d8705 289.5px,#438504 297.5px,#5e7802 316.5px,#766d00 325.5px,#ac3a00 337.5px,#d80900 350.5px,#e45400 389.5px,#ec8500 418.5px,#ea7a00 425.5px,#e76300 427.5px,#d70900 442.5px,#aa3c00 445.5px,#707001 447.5px,#448404 449.5px,#318c08 450.5px,#268f0f 451.5px,#199417 455.5px,#169518 481.5px)"></i><i style="left:166px;width:1px;background:linear-gradient(#298f0d 0.5px,#378a05 32.5px,#637602 99.5px,#786c00 151.5px,#a24300 262.5px,#9e4700 296.5px,#b72e00 324.5px,#d80900 341.5px,#de2c00 363.5px,#e86e00 398.5px,#ed8b00 419.5px,#eb7f00 425.5px,#e76700 427.5px,#d90c00 441.5px,#d01100 442.5px,#b03500 444.5px,#766d00 446.5px,#567c03 447.5px,#308c09 449.5px,#189417 451.5px,#0c981e 455.5px,#0a9827 481.5px)"></i><i style="left:167px;width:1px;background:linear-gradient(#348b07 0.5px,#736e00 99.5px,#ac3a00 252.5px,#ab3b00 296.5px,#bc2800 324.5px,#d70900 339.5px,#db1c00 353.5px,#ea7a00 405.5px,#ed8b00 419.5px,#eb8000 425.5px,#e76600 427.5px,#d90d00 441.5px,#d11000 442.5px,#b23300 444.5px,#7b6900 446.5px,#5c7902 447.5px,#358b06 449.5px,#209212 451.5px,#179518 455.5px,#0c981e 481.5px)"></i><i style="left:168px;width:1px;background:linear-gradient(#079735 0.5px,#0c981e 112.5px,#308c09 296.5px,#388a05 304.5px,#577b03 324.5px,#766d00 331.5px,#945100 338.5px,#ad3900 342.5px,#d80900 354.5px,#e65d00 396.5px,#eb8200 418.5px,#ea7700 425.5px,#e55b00 427.5px,#d90e00 440.5px,#d20e00 441.5px,#b23300 443.5px,#7c6800 445.5px,#3e8704 447.5px,#199417 450.5px,#12961b 451.5px,#0d981d 455.5px,#0c981f 481.5px)"></i><i style="left:169px;width:1px;background:linear-gradient(#05973f 0.5px,#0c981e 205.5px,#1e9214 296.5px,#3c8805 324.5px,#786c00 337.5px,#ac3a00 345.5px,#d80900 356.5px,#e65d00 398.5px,#eb8000 418.5px,#e97500 425.5px,#e55700 427.5px,#d90b00 440.5px,#ce1300 441.5px,#ad3900 443.5px,#726f00 445.5px,#368a06 447.5px,#169518 450.5px,#10971c 451.5px,#0e971d 481.5px)"></i><i style="left:170px;width:1px;background:linear-gradient(#079739 0.5px,#0c981e 167.5px,#259010 296.5px,#378a05 314.5px,#468304 324.5px,#776d00 335.5px,#895b00 339.5px,#ac3a00 344.5px,#d70900 355.5px,#e65e00 398.5px,#eb8000 418.5px,#e97600 425.5px,#e55800 427.5px,#d90d00 440.5px,#d11000 441.5px,#b13500 443.5px,#796b00 445.5px,#3c8805 447.5px,#1c9315 450.5px,#179518 451.5px,#179518 481.5px)"></i><i style="left:171px;width:1px;background:linear-gradient(#079736 0.5px,#0c981e 146.5px,#298f0d 296.5px,#378a05 311.5px,#4b8103 324.5px,#766d00 334.5px,#875d00 338.5px,#ad3900 344.5px,#d70900 355.5px,#e45100 391.5px,#eb8100 418.5px,#e97600 425.5px,#e55800 427.5px,#d90e00 440.5px,#d40d00 441.5px,#b33200 443.5px,#9c4a00 444.5px,#7f6600 445.5px,#428504 447.5px,#209212 450.5px,#1b9315 451.5px,#1b9315 481.5px)"></i><i style="left:172px;width:1px;background:linear-gradient(#079737 0.5px,#0c981e 158.5px,#278f0e 297.5px,#368a05 313.5px,#478304 324.5px,#756d00 335.5px,#875d00 339.5px,#ad3900 345.5px,#d80800 356.5px,#e34e00 390.5px,#eb8100 418.5px,#e97600 425.5px,#e55800 427.5px,#d90e00 440.5px,#d20f00 441.5px,#b23300 443.5px,#7b6900 445.5px,#3f8604 447.5px,#1e9214 450.5px,#189417 451.5px,#189417 481.5px)"></i><i style="left:173px;width:1px;background:linear-gradient(#06973a 0.5px,#0c981e 177.5px,#239010 297.5px,#418504 324.5px,#567c03 330.5px,#766d00 337.5px,#ac3a00 346.5px,#d80800 357.5px,#e34f00 391.5px,#eb8000 418.5px,#e97500 425.5px,#e55700 427.5px,#d90c00 440.5px,#d01100 441.5px,#af3600 443.5px,#766d00 445.5px,#3a8905 447.5px,#1a9316 450.5px,#159519 451.5px,#159519 481.5px)"></i><i style="left:174px;width:1px;background:linear-gradient(#079737 0.5px,#0c981e 154.5px,#288f0e 297.5px,#368a05 313.5px,#478304 324.5px,#577b03 329.5px,#766d00 336.5px,#846000 339.5px,#ae3800 346.5px,#d80800 357.5px,#e44f00 391.5px,#eb8100 418.5px,#e97600 425.5px,#e55800 427.5px,#d90e00 440.5px,#d30e00 441.5px,#b23300 443.5px,#7d6700 445.5px,#418604 447.5px,#1f9213 450.5px,#199416 451.5px,#199416 481.5px)"></i><i style="left:175px;width:1px;background:linear-gradient(#059740 0.5px,#0c981e 215.5px,#1c9315 297.5px,#358b06 324.5px,#438504 329.5px,#776c00 340.5px,#aa3b00 348.5px,#d80900 359.5px,#e55b00 398.5px,#eb8000 418.5px,#e97500 425.5px,#e55600 427.5px,#d80a00 440.5px,#cc1600 441.5px,#a93d00 443.5px,#8a5b00 444.5px,#6c7201 445.5px,#4d8003 446.5px,#328c08 447.5px,#13961a 450.5px,#0e971d 451.5px,#0e971d 481.5px)"></i><i style="left:176px;width:1px;background:linear-gradient(#059742 0.5px,#0c981e 223.5px,#1c9315 301.5px,#338b07 324.5px,#3e8704 329.5px,#786c00 341.5px,#ac3a00 349.5px,#d60b00 359.5px,#d80a00 360.5px,#e55a00 398.5px,#eb7f00 418.5px,#e97400 425.5px,#e55600 427.5px,#d80a00 440.5px,#cb1700 441.5px,#a73f00 443.5px,#885d00 444.5px,#697301 445.5px,#4b8103 446.5px,#308c09 447.5px,#11961b 450.5px,#0c981e 451.5px,#0c981e 481.5px)"></i><i style="left:177px;width:1px;background:linear-gradient(#06973e 0.5px,#0c981e 199.5px,#209112 301.5px,#3a8905 325.5px,#478304 330.5px,#6c7201 338.5px,#855f00 343.5px,#ad3800 349.5px,#d60a00 359.5px,#d80a00 360.5px,#e55b00 398.5px,#eb8000 418.5px,#e97500 425.5px,#e55700 427.5px,#d90b00 440.5px,#ce1400 441.5px,#ad3900 443.5px,#707001 445.5px,#358b06 447.5px,#169518 450.5px,#11961b 451.5px,#11961b 481.5px)"></i><i style="left:178px;width:1px;background:linear-gradient(#05973f 0.5px,#0c981e 206.5px,#1f9213 301.5px,#368a06 324.5px,#3f8604 329.5px,#6c7101 339.5px,#806400 343.5px,#a93c00 349.5px,#d80800 360.5px,#e55a00 398.5px,#eb8000 418.5px,#e97500 425.5px,#e55600 427.5px,#d80b00 440.5px,#cd1500 441.5px,#ab3a00 443.5px,#6e7001 445.5px,#348b07 447.5px,#159519 450.5px,#10971c 451.5px,#10971c 481.5px)"></i><i style="left:179px;width:1px;background:linear-gradient(#089731 0.5px,#0c981e 121.5px,#2e8d0a 301.5px,#378a05 310.5px,#557c03 329.5px,#746e00 336.5px,#935200 343.5px,#ad3900 347.5px,#d80900 359.5px,#dd2800 372.5px,#eb8100 418.5px,#e97700 425.5px,#e55900 427.5px,#d70900 441.5px,#a34300 444.5px,#865f00 445.5px,#697301 446.5px,#4a8104 447.5px,#2f8d09 449.5px,#209212 451.5px,#209212 481.5px)"></i><i style="left:180px;width:1px;background:linear-gradient(#09972f 0.5px,#0c981e 108.5px,#308c09 301.5px,#378a05 308.5px,#5a7a02 329.5px,#756e00 335.5px,#994c00 343.5px,#ac3a00 346.5px,#d80900 358.5px,#dd2900 372.5px,#eb8200 418.5px,#ea7700 425.5px,#e55900 427.5px,#d80900 441.5px,#a44100 444.5px,#885d00 445.5px,#6b7201 446.5px,#4c8003 447.5px,#318c09 449.5px,#219112 451.5px,#219112 481.5px)"></i><i style="left:181px;width:1px;background:linear-gradient(#09982b 0.5px,#0c981e 92.5px,#328c08 301.5px,#507e03 322.5px,#627602 329.5px,#746e00 333.5px,#865f00 337.5px,#ab3b00 344.5px,#d80800 356.5px,#e34f00 390.5px,#eb8200 418.5px,#ea7700 425.5px,#e55900 427.5px,#d80800 441.5px,#a54100 444.5px,#885d00 445.5px,#6b7201 446.5px,#4d8003 447.5px,#318c09 449.5px,#229111 451.5px,#229111 481.5px)"></i><i style="left:182px;width:1px;background:linear-gradient(#079736 0.5px,#0c981e 179.5px,#1f9213 295.5px,#3a8905 322.5px,#517e03 329.5px,#716f01 336.5px,#7d6700 338.5px,#ae3800 346.5px,#d60a00 356.5px,#d80900 357.5px,#e55b00 397.5px,#eb8000 418.5px,#e97500 425.5px,#e55700 427.5px,#d90b00 440.5px,#ce1400 441.5px,#ad3900 443.5px,#707001 445.5px,#358b06 447.5px,#169518 450.5px,#11961b 451.5px,#11961b 481.5px)"></i><i style="left:183px;width:1px;background:linear-gradient(#06973a 0.5px,#0c981e 220.5px,#189417 295.5px,#388a05 324.5px,#736e00 337.5px,#ab3b00 345.5px,#d80900 356.5px,#e55b00 397.5px,#eb7f00 418.5px,#e97400 425.5px,#e45500 427.5px,#d80900 440.5px,#b82c00 442.5px,#a34300 443.5px,#846100 444.5px,#647502 445.5px,#2d8d0b 447.5px,#0e971d 450.5px,#0c9820 451.5px,#0c9820 481.5px)"></i><i style="left:184px;width:1px;background:linear-gradient(#089732 0.5px,#0c981e 173.5px,#1e9214 294.5px,#378a05 318.5px,#438504 323.5px,#5f7802 329.5px,#786c00 334.5px,#826300 336.5px,#ab3b00 342.5px,#d70900 353.5px,#e65d00 397.5px,#eb8000 418.5px,#e97500 425.5px,#e55600 427.5px,#d80a00 440.5px,#cc1600 441.5px,#aa3c00 443.5px,#8b5a00 444.5px,#6d7101 445.5px,#4e7f03 446.5px,#328c08 447.5px,#14961a 450.5px,#0e971d 451.5px,#0e971d 481.5px)"></i><i style="left:185px;width:1px;background:linear-gradient(#09982c 0.5px,#0c981e 136.5px,#1f9213 287.5px,#378a05 314.5px,#527e03 323.5px,#7a6a00 331.5px,#aa3b00 339.5px,#d80900 351.5px,#e55b00 395.5px,#eb8000 418.5px,#e97500 425.5px,#e55700 427.5px,#d90b00 440.5px,#ce1400 441.5px,#ad3900 443.5px,#716f01 445.5px,#358b06 447.5px,#169518 450.5px,#11961b 451.5px,#11961b 481.5px)"></i><i style="left:186px;width:1px;background:linear-gradient(#09972e 0.5px,#0c981e 177.5px,#199417 287.5px,#378a05 316.5px,#537d03 323.5px,#776d00 330.5px,#ac3a00 338.5px,#d80800 349.5px,#e55b00 395.5px,#eb7f00 418.5px,#e97400 425.5px,#e45600 427.5px,#d80900 440.5px,#c91900 441.5px,#a44100 443.5px,#855f00 444.5px,#667401 445.5px,#2e8d0a 447.5px,#0f971c 450.5px,#0c9820 451.5px,#0c9820 481.5px)"></i><i style="left:187px;width:1px;background:linear-gradient(#1e9213 0.5px,#378a05 175.5px,#4a8104 286.5px,#756d00 315.5px,#ac3a00 329.5px,#d80800 342.5px,#db1b00 352.5px,#eb8200 418.5px,#ea7a00 425.5px,#e66000 427.5px,#db1900 440.5px,#d80900 442.5px,#ae3800 445.5px,#7d6700 447.5px,#517e03 450.5px,#498204 451.5px,#368a06 462.5px,#318c09 481.5px)"></i><i style="left:188px;width:1px;background:linear-gradient(#d30d00 0.5px,#d80800 16.5px,#dc2000 197.5px,#dd2600 297.5px,#e34900 362.5px,#ef9500 424.5px,#dc2200 462.5px,#da1600 481.5px)"></i><i style="left:189px;width:1px;background:linear-gradient(#dc1d00 0.5px,#de2e00 99.5px,#e14000 297.5px,#e66100 363.5px,#f2aa00 424.5px,#e86e00 447.5px,#e03b00 462.5px,#de2e00 481.5px)"></i><i style="left:190px;width:1px;background:linear-gradient(#e03b00 0.5px,#e34f00 99.5px,#e55c00 197.5px,#e66300 297.5px,#eb8300 363.5px,#f7c800 424.5px,#ee9000 447.5px,#e65e00 462.5px,#e34f00 481.5px)"></i><i style="left:195px;width:1px;background:linear-gradient(#f2a800 0.5px,#f4b400 99.5px,#f8ca00 177.5px,#fbd900 198.5px,#f5ba00 313.5px,#fad800 395.5px,#feec00 419.5px,#feef04 424.5px,#feeb00 429.5px,#fad700 447.5px,#f4b800 462.5px,#f09d00 481.5px)"></i><i style="left:196px;width:1px;background:linear-gradient(#ef9b00 0.5px,#f1a700 99.5px,#f6c100 177.5px,#f8ce00 198.5px,#f4b700 262.5px,#f3b000 313.5px,#fad500 395.5px,#feec00 419.5px,#fef006 424.5px,#feec00 428.5px,#f9d000 447.5px,#ef9800 463.5px,#e86d00 481.5px)"></i><i style="left:197px;width:1px;background:linear-gradient(#ed8d00 0.5px,#ef9900 99.5px,#f6c100 197.5px,#f1a500 262.5px,#f1a500 312.5px,#f9d200 395.5px,#feec00 419.5px,#fef006 424.5px,#feec00 428.5px,#f7c800 447.5px,#ea7900 463.5px,#e03a00 481.5px)"></i><i style="left:198px;width:1px;background:linear-gradient(#e76400 0.5px,#ea7c00 99.5px,#f1a600 197.5px,#ed8d00 262.5px,#ef9600 303.5px,#f8cd00 395.5px,#fbda00 404.5px,#fde900 421.5px,#fce400 425.5px,#f4b800 438.5px,#e45100 462.5px,#de2900 481.5px)"></i><i style="left:199px;width:1px;background:linear-gradient(#e13c00 0.5px,#e65d00 98.5px,#ec8700 178.5px,#ed8900 198.5px,#e97500 263.5px,#ee8f00 313.5px,#f8c900 395.5px,#fbda00 404.5px,#fde400 421.5px,#fad700 425.5px,#f4b700 432.5px,#ef9500 438.5px,#e86c00 444.5px,#e34c00 450.5px,#df3300 456.5px,#dd2500 464.5px,#db1b00 481.5px)"></i><i style="left:200px;width:1px;background:linear-gradient(#dc2200 0.5px,#e24600 98.5px,#e97200 178.5px,#e97100 198.5px,#e66100 263.5px,#ea7c00 303.5px,#f7c600 395.5px,#fad900 404.5px,#fce100 421.5px,#f4b700 430.5px,#ee9100 436.5px,#e55700 443.5px,#e13d00 447.5px,#db1a00 455.5px,#d91000 463.5px,#d90f00 481.5px)"></i><i style="left:201px;width:1px;background:linear-gradient(#d90d00 0.5px,#df3500 99.5px,#e65d00 177.5px,#e44f00 237.5px,#e45000 263.5px,#e86d00 302.5px,#f09c00 348.5px,#f6c300 395.5px,#fad600 404.5px,#fbde00 419.5px,#fbdb00 422.5px,#f4b400 430.5px,#ed8900 437.5px,#e14000 445.5px,#d80900 456.5px,#cc1600 464.5px,#cc1600 481.5px)"></i><i style="left:202px;width:1px;background:linear-gradient(#bc2700 0.5px,#d80800 37.5px,#e34900 177.5px,#e24600 197.5px,#e03a00 218.5px,#e03900 238.5px,#e13f00 262.5px,#e65f00 302.5px,#ee9500 347.5px,#f6c100 395.5px,#f9d300 404.5px,#fbdb00 418.5px,#fbda00 421.5px,#f8ce00 425.5px,#ee8f00 436.5px,#eb7f00 438.5px,#e03700 445.5px,#d80900 453.5px,#c61c00 455.5px,#bb2900 457.5px,#b72d00 460.5px,#b43100 464.5px,#b43100 481.5px)"></i><i style="left:203px;width:1px;background:linear-gradient(#806400 0.5px,#ab3b00 29.5px,#d80800 79.5px,#df3400 177.5px,#df3000 197.5px,#dd2400 218.5px,#dd2400 238.5px,#de2f00 263.5px,#e45100 302.5px,#ed8e00 347.5px,#f5be00 395.5px,#f9d000 404.5px,#fad800 418.5px,#f8cd00 425.5px,#ed8e00 436.5px,#ea7c00 438.5px,#df2f00 445.5px,#d90b00 451.5px,#d01100 452.5px,#b43100 454.5px,#955000 457.5px,#8a5a00 464.5px,#8a5a00 481.5px)"></i><i style="left:204px;width:1px;background:linear-gradient(#348b07 0.5px,#776c00 41.5px,#994c00 62.5px,#ac3a00 71.5px,#cc1600 98.5px,#d80800 114.5px,#dc2100 178.5px,#db1b00 197.5px,#d90d00 218.5px,#d90f00 237.5px,#dc1f00 263.5px,#e24200 302.5px,#ec8700 347.5px,#f5bb00 395.5px,#f8cd00 404.5px,#fad600 418.5px,#f8cc00 425.5px,#f4b600 428.5px,#ed8d00 436.5px,#ea7a00 438.5px,#dd2700 445.5px,#d80a00 450.5px,#cb1700 451.5px,#a93d00 453.5px,#8b5a00 454.5px,#776d00 455.5px,#617702 457.5px,#597a02 463.5px,#597a02 481.5px)"></i><i style="left:205px;width:1px;background:linear-gradient(#239111 0.5px,#378a05 18.5px,#786c00 55.5px,#ab3b00 79.5px,#c41f00 99.5px,#d80800 128.5px,#db1a00 178.5px,#da1400 197.5px,#d80800 212.5px,#d11000 218.5px,#d80800 239.5px,#e03b00 302.5px,#eb8200 347.5px,#f5b900 395.5px,#f8cc00 404.5px,#fad500 418.5px,#f8cb00 425.5px,#f4b600 428.5px,#ed8d00 436.5px,#ea7b00 438.5px,#dd2700 445.5px,#d80900 450.5px,#ca1700 451.5px,#a64000 453.5px,#875e00 454.5px,#707001 455.5px,#5a7a02 457.5px,#547d03 461.5px,#547d03 481.5px)"></i><i style="left:206px;width:1px;background:linear-gradient(#159519 0.5px,#388905 32.5px,#4b8103 43.5px,#776d00 63.5px,#ab3b00 84.5px,#bf2400 99.5px,#d80800 135.5px,#db1800 177.5px,#d70900 206.5px,#c51e00 218.5px,#c81a00 233.5px,#d80800 246.5px,#df3500 303.5px,#ea7a00 347.5px,#f4b400 395.5px,#f7c800 404.5px,#f9d200 418.5px,#f7c800 425.5px,#f4b300 428.5px,#ed8b00 436.5px,#ea7a00 438.5px,#dd2700 445.5px,#d80800 450.5px,#b82c00 452.5px,#a34300 453.5px,#836100 454.5px,#697301 455.5px,#517e03 457.5px,#4a8104 461.5px,#4a8104 481.5px)"></i><i style="left:207px;width:1px;background:linear-gradient(#1a9316 0.5px,#378a05 27.5px,#517e03 43.5px,#786c00 59.5px,#ad3900 80.5px,#c61c00 99.5px,#d80800 125.5px,#db1b00 177.5px,#da1300 197.5px,#d80800 206.5px,#c81b00 214.5px,#c51e00 218.5px,#c71b00 233.5px,#d80800 245.5px,#db1800 263.5px,#df3200 303.5px,#e97600 348.5px,#f3b200 395.5px,#f7c600 404.5px,#f9d000 418.5px,#f7c700 425.5px,#ec8400 437.5px,#de2c00 445.5px,#d90d00 450.5px,#d40d00 451.5px,#b33300 453.5px,#7f6500 455.5px,#6f7001 456.5px,#607702 458.5px,#5e7802 481.5px)"></i><i style="left:208px;width:1px;background:linear-gradient(#189417 0.5px,#388a05 30.5px,#4c8003 43.5px,#796b00 59.5px,#ad3900 79.5px,#c91900 99.5px,#d80800 121.5px,#db1c00 177.5px,#da1300 197.5px,#d80800 205.5px,#c32000 214.5px,#c12300 218.5px,#c22100 233.5px,#d80900 247.5px,#db1800 263.5px,#de2e00 303.5px,#ea7a00 355.5px,#f3ae00 395.5px,#f7c400 404.5px,#f9ce00 418.5px,#f7c500 425.5px,#ec8400 437.5px,#df2f00 445.5px,#d80900 451.5px,#b92b00 453.5px,#a64000 454.5px,#895b00 455.5px,#786c00 456.5px,#687301 458.5px,#677401 481.5px)"></i><i style="left:209px;width:1px;background:linear-gradient(#179518 0.5px,#378a05 32.5px,#488204 43.5px,#796b00 59.5px,#ab3b00 77.5px,#cb1700 98.5px,#d80800 117.5px,#dc1d00 177.5px,#da1300 197.5px,#d80900 204.5px,#bd2700 215.5px,#bd2700 232.5px,#d80800 248.5px,#db1800 263.5px,#de2900 302.5px,#f2ab00 395.5px,#f6c200 404.5px,#f8cc00 419.5px,#f6bf00 426.5px,#ec8400 437.5px,#dd2900 446.5px,#d90c00 451.5px,#d01100 452.5px,#af3600 454.5px,#945100 455.5px,#816300 456.5px,#706f01 458.5px,#707001 481.5px)"></i><i style="left:210px;width:1px;background:linear-gradient(#0d981e 0.5px,#398905 43.5px,#776d00 63.5px,#ad3900 82.5px,#c61c00 99.5px,#d80800 125.5px,#db1b00 177.5px,#d91000 197.5px,#d80900 202.5px,#b62f00 215.5px,#b62f00 232.5px,#d80800 251.5px,#da1600 263.5px,#dd2700 302.5px,#f3af00 395.5px,#f7c900 404.5px,#fad500 421.5px,#f7c600 431.5px,#f2a800 440.5px,#eb7e00 448.5px,#e24400 455.5px,#de2900 460.5px,#d90e00 464.5px,#d50c00 465.5px,#ba2a00 467.5px,#b23300 468.5px,#a34200 475.5px,#a34200 481.5px)"></i><i style="left:211px;width:1px;background:linear-gradient(#0b9823 0.5px,#0c981e 6.5px,#2e8d0a 42.5px,#388a05 47.5px,#796b00 68.5px,#ad3900 86.5px,#c02300 99.5px,#d80800 134.5px,#db1800 177.5px,#d70900 200.5px,#ad3900 214.5px,#ab3b00 230.5px,#ad3900 233.5px,#d80800 254.5px,#da1200 263.5px,#dd2400 302.5px,#e66100 347.5px,#f2ac00 395.5px,#f7c700 404.5px,#f9d300 419.5px,#f9d300 422.5px,#f7c500 431.5px,#f1a400 441.5px,#ea7c00 448.5px,#e24200 455.5px,#d80800 464.5px,#b23300 467.5px,#ab3b00 468.5px,#984d00 475.5px,#984d00 481.5px)"></i><i style="left:212px;width:1px;background:linear-gradient(#0c981e 0.5px,#368a05 45.5px,#776d00 66.5px,#ad3900 85.5px,#c22100 99.5px,#d80800 133.5px,#db1800 177.5px,#d80900 199.5px,#a73f00 215.5px,#a44100 230.5px,#d70900 254.5px,#da1200 263.5px,#dd2400 302.5px,#e65e00 347.5px,#f2a900 395.5px,#f7c500 404.5px,#f9d100 418.5px,#f9d000 422.5px,#f6c200 431.5px,#f09d00 441.5px,#e87000 448.5px,#e13d00 454.5px,#d90b00 462.5px,#d30d00 463.5px,#a24300 468.5px,#945100 475.5px,#945100 481.5px)"></i><i style="left:213px;width:1px;background:linear-gradient(#0b9821 0.5px,#2b8e0c 42.5px,#368a05 48.5px,#776c00 69.5px,#ad3900 88.5px,#be2600 99.5px,#d80800 140.5px,#da1500 177.5px,#d80800 197.5px,#ad3900 210.5px,#994c00 214.5px,#935200 230.5px,#ae3800 238.5px,#d80800 257.5px,#d91000 263.5px,#dc2200 302.5px,#e55a00 347.5px,#f1a500 395.5px,#f6c300 404.5px,#f9cf00 418.5px,#f7c900 425.5px,#f5bb00 432.5px,#ef9600 441.5px,#ea7a00 445.5px,#e03600 453.5px,#d60a00 460.5px,#ae3800 465.5px,#964f00 467.5px,#8e5600 468.5px,#856000 474.5px,#846100 481.5px)"></i><i style="left:214px;width:1px;background:linear-gradient(#0c9820 0.5px,#2b8e0c 43.5px,#378a05 49.5px,#786c00 70.5px,#ac3a00 88.5px,#bb2900 98.5px,#d80800 143.5px,#da1400 177.5px,#d80800 195.5px,#d30e00 198.5px,#ae3700 208.5px,#915400 213.5px,#885d00 230.5px,#ae3800 240.5px,#d80800 258.5px,#d90e00 263.5px,#dc2100 302.5px,#e55800 348.5px,#f1a200 395.5px,#f6c000 404.5px,#f8ce00 418.5px,#f7c600 425.5px,#f4b700 432.5px,#ee8f00 441.5px,#ea7900 444.5px,#e03700 451.5px,#d80800 458.5px,#bc2800 460.5px,#855f00 467.5px,#7b6900 474.5px,#7a6a00 481.5px)"></i><i style="left:215px;width:1px;background:linear-gradient(#0c981e 0.5px,#2a8e0c 43.5px,#378a05 49.5px,#786c00 70.5px,#ab3b00 88.5px,#bb2900 98.5px,#d80800 145.5px,#da1300 177.5px,#d80800 193.5px,#d01100 198.5px,#ae3800 207.5px,#875d00 213.5px,#7e6600 230.5px,#ad3900 241.5px,#d80900 259.5px,#dc2100 302.5px,#e03800 324.5px,#e45500 348.5px,#f09f00 395.5px,#f6be00 404.5px,#f8cc00 418.5px,#f6c300 425.5px,#f3af00 433.5px,#ec8300 442.5px,#df3200 450.5px,#d90b00 456.5px,#cf1200 457.5px,#b13400 459.5px,#9a4b00 460.5px,#816400 463.5px,#756e00 468.5px,#726f00 481.5px)"></i><i style="left:216px;width:1px;background:linear-gradient(#0c981f 0.5px,#288f0e 43.5px,#388a05 51.5px,#766d00 72.5px,#aa3c00 90.5px,#b82d00 98.5px,#d80800 148.5px,#da1100 177.5px,#d70900 191.5px,#cc1600 198.5px,#ad3900 206.5px,#7e6600 213.5px,#746e00 230.5px,#7b6900 232.5px,#ad3900 243.5px,#d80900 261.5px,#dc2000 302.5px,#e03700 325.5px,#e45300 348.5px,#f09e00 395.5px,#f5bd00 404.5px,#f8ca00 418.5px,#f6c100 425.5px,#f2ac00 433.5px,#eb7f00 442.5px,#de2b00 450.5px,#d90c00 455.5px,#d20e00 456.5px,#b33200 458.5px,#9c4900 459.5px,#7f6500 460.5px,#6a7201 463.5px,#6a7201 481.5px)"></i><i style="left:217px;width:1px;background:linear-gradient(#0b9821 0.5px,#239010 42.5px,#388a05 54.5px,#796b00 77.5px,#ac3a00 94.5px,#b33200 98.5px,#d80800 153.5px,#d90f00 177.5px,#d80800 187.5px,#cf1200 194.5px,#c71b00 198.5px,#ab3a00 205.5px,#806400 211.5px,#776c00 213.5px,#6d7101 230.5px,#776c00 233.5px,#ac3a00 245.5px,#d60a00 262.5px,#d80800 264.5px,#dc1e00 302.5px,#dd2800 313.5px,#e45300 347.5px,#f09e00 395.5px,#f5bc00 404.5px,#f7c900 418.5px,#f6bf00 425.5px,#f2aa00 433.5px,#ea7d00 442.5px,#de2a00 450.5px,#d90b00 455.5px,#d11000 456.5px,#b13400 458.5px,#7a6a00 460.5px,#697301 462.5px,#647502 463.5px,#647502 481.5px)"></i><i style="left:218px;width:1px;background:linear-gradient(#0b9825 0.5px,#0c981e 12.5px,#1f9213 42.5px,#378a05 58.5px,#537d03 70.5px,#786c00 81.5px,#ad3900 98.5px,#cf1300 142.5px,#d80800 160.5px,#d90d00 177.5px,#d80800 184.5px,#cb1700 194.5px,#c22100 198.5px,#ae3800 203.5px,#766d00 211.5px,#6e7101 213.5px,#647502 230.5px,#7a6a00 236.5px,#ac3a00 248.5px,#cf1200 262.5px,#d80800 270.5px,#db1c00 303.5px,#e03800 328.5px,#f09f00 395.5px,#f5ba00 404.5px,#f7c700 418.5px,#f5bb00 426.5px,#f2a800 433.5px,#ea7b00 442.5px,#de2900 450.5px,#d80a00 455.5px,#ce1300 456.5px,#ae3800 458.5px,#736e00 460.5px,#617702 462.5px,#5d7902 463.5px,#5d7902 481.5px)"></i><i style="left:219px;width:1px;background:linear-gradient(#0a9826 0.5px,#0c981e 16.5px,#1d9214 42.5px,#378a05 62.5px,#4a8104 71.5px,#786c00 84.5px,#a83e00 99.5px,#cd1500 142.5px,#d80800 166.5px,#d80800 182.5px,#c81b00 194.5px,#ae3800 202.5px,#7c6800 209.5px,#6f7001 211.5px,#687301 213.5px,#5f7802 230.5px,#657501 233.5px,#7a6a00 238.5px,#ad3900 251.5px,#cb1700 263.5px,#d80800 275.5px,#db1a00 303.5px,#e03800 328.5px,#f09f00 395.5px,#f5b900 404.5px,#f7c500 418.5px,#f5b900 426.5px,#f1a600 433.5px,#ea7900 442.5px,#dd2900 450.5px,#d80a00 455.5px,#cd1400 456.5px,#ac3a00 458.5px,#6e7101 460.5px,#5d7902 462.5px,#587b02 463.5px,#587b02 481.5px)"></i><i style="left:220px;width:1px;background:linear-gradient(#09972e 0.5px,#0c981e 30.5px,#13961a 42.5px,#378a05 72.5px,#786c00 90.5px,#945100 98.5px,#ac3a00 112.5px,#c71b00 143.5px,#d60a00 177.5px,#c02300 194.5px,#b43100 198.5px,#ac3a00 200.5px,#796b00 207.5px,#617602 210.5px,#597b02 212.5px,#4e7f03 231.5px,#527d03 233.5px,#776d00 242.5px,#ab3b00 255.5px,#bf2500 262.5px,#d80800 283.5px,#dc1f00 312.5px,#e03800 330.5px,#f09f00 395.5px,#f4b800 404.5px,#f6bf00 412.5px,#f6c200 419.5px,#f4b700 426.5px,#f1a300 433.5px,#e97600 442.5px,#dd2600 450.5px,#d90d00 454.5px,#d60b00 455.5px,#b72e00 457.5px,#a04500 458.5px,#806400 459.5px,#5f7802 460.5px,#4d8003 462.5px,#498204 463.5px,#498204 481.5px)"></i><i style="left:221px;width:1px;background:linear-gradient(#0a9827 0.5px,#0c981e 17.5px,#1b9315 42.5px,#378a05 71.5px,#766d00 88.5px,#994c00 98.5px,#ab3b00 108.5px,#cb1700 142.5px,#d80800 176.5px,#c32000 194.5px,#ba2a00 197.5px,#aa3c00 201.5px,#786c00 208.5px,#647502 211.5px,#587b02 231.5px,#5a7a02 233.5px,#786c00 241.5px,#9e4700 252.5px,#ac3a00 255.5px,#bf2400 262.5px,#d80800 282.5px,#dc2000 312.5px,#e03700 328.5px,#ea7900 368.5px,#f0a100 395.5px,#f4b800 404.5px,#f6c200 418.5px,#f4b600 426.5px,#f1a200 433.5px,#e97500 442.5px,#dd2800 450.5px,#d80900 455.5px,#cd1500 456.5px,#aa3c00 458.5px,#8a5a00 459.5px,#6a7301 460.5px,#587b02 462.5px,#547d03 463.5px,#547d03 481.5px)"></i><i style="left:222px;width:1px;background:linear-gradient(#0b9824 0.5px,#0c981e 12.5px,#348b07 71.5px,#776c00 89.5px,#974e00 98.5px,#ac3a00 109.5px,#cd1500 143.5px,#d80800 177.5px,#c02300 195.5px,#a93d00 201.5px,#776c00 208.5px,#687301 210.5px,#627602 213.5px,#597a02 232.5px,#796b00 242.5px,#994c00 252.5px,#ac3a00 256.5px,#bd2700 262.5px,#d80800 284.5px,#dc2000 313.5px,#ea7900 367.5px,#f1a200 395.5px,#f4b700 404.5px,#f6c100 418.5px,#f4b500 426.5px,#f1a100 433.5px,#e97300 442.5px,#de2900 450.5px,#d80a00 455.5px,#ce1300 456.5px,#ad3900 458.5px,#6d7101 460.5px,#5c7902 462.5px,#587b02 463.5px,#587b02 481.5px)"></i><i style="left:223px;width:1px;background:linear-gradient(#169518 0.5px,#378a05 55.5px,#448404 70.5px,#796c00 85.5px,#a34300 98.5px,#ab3b00 102.5px,#d20f00 142.5px,#d80800 160.5px,#d80800 182.5px,#ca1800 194.5px,#ab3b00 203.5px,#7a6a00 211.5px,#716f01 232.5px,#786c00 235.5px,#984d00 247.5px,#c22100 262.5px,#d80800 279.5px,#dd2400 313.5px,#ea7a00 366.5px,#f1a400 395.5px,#f4b900 404.5px,#f6c100 418.5px,#f4b800 425.5px,#f0a100 433.5px,#ea7800 441.5px,#de2c00 450.5px,#d90e00 455.5px,#d50c00 456.5px,#b53000 458.5px,#9f4700 459.5px,#826300 460.5px,#716f01 462.5px,#6d7101 463.5px,#6d7101 481.5px)"></i><i style="left:224px;width:1px;background:linear-gradient(#159519 0.5px,#3f8604 70.5px,#786c00 89.5px,#915400 98.5px,#ac3a00 113.5px,#c91900 143.5px,#d70900 177.5px,#c22200 195.5px,#a93d00 202.5px,#786c00 210.5px,#746e00 211.5px,#6d7101 232.5px,#786c00 237.5px,#8e5700 247.5px,#ac3a00 256.5px,#ba2a00 262.5px,#d80900 284.5px,#dd2300 313.5px,#f1a400 395.5px,#f4b800 404.5px,#f6c100 418.5px,#f4b800 425.5px,#f09e00 433.5px,#eb8000 439.5px,#e86d00 442.5px,#e03700 448.5px,#d80900 455.5px,#cc1600 456.5px,#ad3900 458.5px,#786c00 460.5px,#627602 463.5px,#627602 481.5px)"></i><i style="left:225px;width:1px;background:linear-gradient(#0a9828 0.5px,#0c981e 23.5px,#25900f 70.5px,#378a05 81.5px,#627602 98.5px,#786c00 109.5px,#ac3a00 137.5px,#c41f00 177.5px,#ae3700 195.5px,#7a6a00 204.5px,#517e03 211.5px,#4b8103 232.5px,#667401 247.5px,#756d00 252.5px,#9d4800 262.5px,#ab3b00 267.5px,#d80800 294.5px,#db1c00 312.5px,#e03700 330.5px,#ea7a00 368.5px,#f1a200 395.5px,#f4b600 404.5px,#f6bf00 418.5px,#f3b300 426.5px,#ef9900 433.5px,#ea7b00 439.5px,#e76600 442.5px,#e03600 447.5px,#d90d00 453.5px,#d30e00 454.5px,#b62f00 456.5px,#846100 458.5px,#687301 459.5px,#4f7f03 460.5px,#398905 463.5px,#398905 481.5px)"></i><i style="left:226px;width:1px;background:linear-gradient(#0b9822 0.5px,#0c981e 9.5px,#2c8e0b 71.5px,#388905 80.5px,#786c00 112.5px,#ab3b00 140.5px,#c22100 177.5px,#ae3700 195.5px,#7a6a00 205.5px,#597a02 211.5px,#567c03 233.5px,#697301 247.5px,#766d00 252.5px,#9a4b00 262.5px,#ad3900 269.5px,#d80800 293.5px,#dc1d00 312.5px,#e03700 329.5px,#ea7a00 368.5px,#f1a300 395.5px,#f4b600 403.5px,#f6c000 418.5px,#f4b400 426.5px,#ef9800 433.5px,#ea7a00 439.5px,#df3400 447.5px,#d90c00 453.5px,#d11000 454.5px,#b33300 456.5px,#816300 458.5px,#687301 459.5px,#527d03 460.5px,#3c8805 463.5px,#3c8805 481.5px)"></i><i style="left:227px;width:1px;background:linear-gradient(#0b9821 0.5px,#2a8e0d 70.5px,#368a05 83.5px,#4e8003 99.5px,#776c00 120.5px,#a14500 143.5px,#ac3a00 152.5px,#bc2700 177.5px,#ab3b00 194.5px,#7a6a00 204.5px,#577b03 211.5px,#557c03 233.5px,#607702 247.5px,#786c00 255.5px,#ac3a00 272.5px,#d80900 295.5px,#e03800 330.5px,#ea7a00 368.5px,#f1a300 395.5px,#f4b600 403.5px,#f6c000 418.5px,#f4b400 426.5px,#ea7c00 438.5px,#e65e00 442.5px,#df3000 447.5px,#d80900 453.5px,#aa3c00 456.5px,#8a5a00 457.5px,#756e00 458.5px,#4b8103 460.5px,#358b06 463.5px,#358b06 481.5px)"></i><i style="left:228px;width:1px;background:linear-gradient(#0b9824 0.5px,#0c981e 17.5px,#358b06 98.5px,#786c00 133.5px,#8b5a00 143.5px,#ac3a00 167.5px,#b33200 177.5px,#ac3a00 185.5px,#9c4a00 194.5px,#786c00 202.5px,#4d8003 211.5px,#507e03 247.5px,#786c00 261.5px,#8a5a00 268.5px,#ad3900 277.5px,#d80800 297.5px,#e03900 331.5px,#ea7900 368.5px,#f1a200 395.5px,#f4b500 403.5px,#f6c000 418.5px,#f3b300 426.5px,#ea7900 438.5px,#e97400 439.5px,#de2b00 447.5px,#d90c00 452.5px,#d11000 453.5px,#b03500 455.5px,#756e00 457.5px,#4b8103 459.5px,#3c8805 460.5px,#358b06 461.5px,#2b8e0c 463.5px,#2b8e0c 481.5px)"></i><i style="left:229px;width:1px;background:linear-gradient(#0c981f 0.5px,#358a06 99.5px,#786c00 134.5px,#865e00 142.5px,#ab3b00 168.5px,#b23300 177.5px,#ac3a00 185.5px,#9d4800 194.5px,#786c00 203.5px,#567c03 211.5px,#577b03 247.5px,#796b00 261.5px,#8b5a00 268.5px,#ad3900 277.5px,#d80800 296.5px,#e03800 330.5px,#f1a300 395.5px,#f4b600 403.5px,#f6c100 418.5px,#f4b400 426.5px,#ea7900 438.5px,#e97300 439.5px,#de2b00 447.5px,#d90d00 452.5px,#d30e00 453.5px,#b23400 455.5px,#786c00 457.5px,#517e03 459.5px,#448404 460.5px,#358b06 462.5px,#308c09 463.5px,#308c09 481.5px)"></i><i style="left:230px;width:1px;background:linear-gradient(#0a9827 0.5px,#0c981e 28.5px,#298f0d 99.5px,#388a05 111.5px,#786c00 147.5px,#a24300 177.5px,#8a5a00 194.5px,#786c00 199.5px,#478304 211.5px,#498204 247.5px,#5d7902 257.5px,#796b00 268.5px,#ab3b00 281.5px,#d80900 299.5px,#e03800 331.5px,#f1a200 395.5px,#f4b500 403.5px,#f6c000 418.5px,#f3b300 426.5px,#ea7800 438.5px,#e97300 439.5px,#dd2900 447.5px,#d80a00 452.5px,#ce1300 453.5px,#ac3900 455.5px,#6d7101 457.5px,#468304 459.5px,#388a05 460.5px,#288f0e 463.5px,#288f0e 481.5px)"></i><i style="left:231px;width:1px;background:linear-gradient(#089731 0.5px,#0c981e 62.5px,#1a9416 98.5px,#378a05 124.5px,#776c00 164.5px,#8a5b00 177.5px,#746e00 194.5px,#358b06 211.5px,#388a05 247.5px,#4a8104 258.5px,#607702 267.5px,#796b00 274.5px,#875e00 278.5px,#ae3800 286.5px,#d70900 301.5px,#e03800 332.5px,#ea7900 369.5px,#f1a100 395.5px,#f4b600 404.5px,#f6bf00 418.5px,#f3b200 426.5px,#ea7700 438.5px,#e97100 439.5px,#dd2700 447.5px,#d70900 452.5px,#b72d00 454.5px,#a14500 455.5px,#806400 456.5px,#5e7802 457.5px,#378a05 459.5px,#2e8d0a 460.5px,#1f9213 463.5px,#1f9213 481.5px)"></i><i style="left:232px;width:1px;background:linear-gradient(#09982b 0.5px,#0c981e 46.5px,#1f9213 99.5px,#388a05 122.5px,#776c00 163.5px,#8a5b00 177.5px,#796b00 194.5px,#3f8604 211.5px,#448404 247.5px,#527e03 258.5px,#7a6a00 273.5px,#895b00 278.5px,#ad3900 285.5px,#d80800 300.5px,#f1a200 395.5px,#f4b500 403.5px,#f6c000 418.5px,#f3b300 426.5px,#ea7800 438.5px,#e97300 439.5px,#dd2900 447.5px,#d80a00 452.5px,#ce1300 453.5px,#ac3a00 455.5px,#6c7101 457.5px,#458304 459.5px,#388a05 460.5px,#288f0e 463.5px,#288f0e 481.5px)"></i><i style="left:233px;width:1px;background:linear-gradient(#0a9828 0.5px,#0c981e 38.5px,#209112 99.5px,#388a05 122.5px,#786c00 166.5px,#865e00 177.5px,#796b00 194.5px,#458404 211.5px,#4b8103 248.5px,#557c03 258.5px,#796b00 273.5px,#875d00 278.5px,#ad3900 285.5px,#d70900 299.5px,#d80900 300.5px,#f1a300 395.5px,#f4b600 403.5px,#f6c000 418.5px,#f4b300 426.5px,#ea7900 438.5px,#e97300 439.5px,#de2a00 447.5px,#d90c00 452.5px,#d20f00 453.5px,#b03500 455.5px,#756d00 457.5px,#4e7f03 459.5px,#398905 461.5px,#2e8d0a 463.5px,#2e8d0a 481.5px)"></i><i style="left:234px;width:1px;background:linear-gradient(#09982b 0.5px,#0c981e 53.5px,#1a9316 99.5px,#378a05 130.5px,#796b00 178.5px,#6d7101 194.5px,#3f8604 211.5px,#4b8103 257.5px,#786c00 277.5px,#ab3b00 286.5px,#d80800 300.5px,#f1a300 395.5px,#f4b600 403.5px,#f6c000 418.5px,#f4b300 426.5px,#ea7900 438.5px,#e97300 439.5px,#de2a00 447.5px,#d90c00 452.5px,#d11000 453.5px,#af3600 455.5px,#736e00 457.5px,#4c8003 459.5px,#378a05 461.5px,#2d8d0b 463.5px,#2d8d0b 481.5px)"></i><i style="left:235px;width:1px;background:linear-gradient(#089731 0.5px,#0c981e 79.5px,#11961b 98.5px,#378a05 141.5px,#667401 178.5px,#5e7802 194.5px,#368a06 211.5px,#408604 257.5px,#6e7101 278.5px,#7b6a00 280.5px,#ac3a00 288.5px,#d70900 301.5px,#d80900 302.5px,#f1a200 395.5px,#f4b500 403.5px,#f6c000 418.5px,#f3b300 426.5px,#ea7800 438.5px,#e97200 439.5px,#dd2900 447.5px,#d80a00 452.5px,#ce1400 453.5px,#ac3a00 455.5px,#6b7201 457.5px,#448404 459.5px,#368a05 460.5px,#278f0f 463.5px,#278f0f 481.5px)"></i><i style="left:236px;width:1px;background:linear-gradient(#0a9827 0.5px,#0c981e 37.5px,#1e9214 99.5px,#378a05 131.5px,#6f7001 178.5px,#6a7201 194.5px,#498204 211.5px,#547d03 257.5px,#7c6900 277.5px,#ad3900 286.5px,#d80800 299.5px,#f1a400 395.5px,#f4b700 403.5px,#f6c100 418.5px,#f4b400 426.5px,#ea7900 438.5px,#e97400 439.5px,#de2c00 447.5px,#d50b00 453.5px,#b43100 455.5px,#9c4900 456.5px,#7d6700 457.5px,#557c03 459.5px,#478304 460.5px,#378a05 462.5px,#318c08 463.5px,#318c08 481.5px)"></i><i style="left:237px;width:1px;background:linear-gradient(#0a9826 0.5px,#0c981e 34.5px,#1e9213 99.5px,#378a05 133.5px,#677401 178.5px,#657501 194.5px,#4c8003 211.5px,#577b03 257.5px,#7c6800 277.5px,#895b00 280.5px,#ad3900 286.5px,#d80800 299.5px,#f1a400 395.5px,#f4b700 403.5px,#f6c100 418.5px,#f4b400 426.5px,#ea7900 438.5px,#e97400 439.5px,#de2c00 447.5px,#d60b00 453.5px,#b53000 455.5px,#9d4800 456.5px,#7f6600 457.5px,#567c03 459.5px,#478304 460.5px,#368a05 462.5px,#318c09 463.5px,#318c09 481.5px)"></i><i style="left:238px;width:1px;background:linear-gradient(#089730 0.5px,#0c981e 66.5px,#169518 98.5px,#378a05 149.5px,#537d03 178.5px,#547d03 194.5px,#418504 211.5px,#4a8104 257.5px,#6a7301 275.5px,#766d00 279.5px,#806500 281.5px,#ad3900 288.5px,#d80900 301.5px,#f1a300 395.5px,#f4b600 403.5px,#f6c000 418.5px,#f4b300 426.5px,#ea7800 438.5px,#e97300 439.5px,#dd2900 447.5px,#d80a00 452.5px,#ce1400 453.5px,#ab3b00 455.5px,#6a7201 457.5px,#408604 459.5px,#338b07 460.5px,#219112 463.5px,#219112 481.5px)"></i><i style="left:239px;width:1px;background:linear-gradient(#0c981f 0.5px,#378a05 73.5px,#786c00 146.5px,#925300 178.5px,#964f00 194.5px,#875e00 211.5px,#826200 258.5px,#9f4700 278.5px,#d80800 294.5px,#ea7900 363.5px,#f2a900 395.5px,#f5bb00 403.5px,#f7c400 418.5px,#f4b700 426.5px,#ea7b00 438.5px,#e97600 439.5px,#de2b00 447.5px,#d90c00 452.5px,#d11000 453.5px,#af3700 455.5px,#716f01 457.5px,#458404 459.5px,#368a06 460.5px,#239111 463.5px,#1f9213 481.5px)"></i><i style="left:240px;width:1px;background:linear-gradient(#10971c 0.5px,#388a05 66.5px,#786c00 145.5px,#974e00 194.5px,#8f5600 210.5px,#8a5b00 258.5px,#8d5700 263.5px,#a44100 278.5px,#d70900 293.5px,#d80900 294.5px,#ea7a00 363.5px,#f2a900 395.5px,#f5bb00 403.5px,#f7c400 418.5px,#f4b700 426.5px,#ea7c00 438.5px,#e97600 439.5px,#de2c00 447.5px,#d90d00 452.5px,#d40c00 453.5px,#b23300 455.5px,#786c00 457.5px,#4b8103 459.5px,#3b8805 460.5px,#26900f 463.5px,#239111 481.5px)"></i><i style="left:241px;width:1px;background:linear-gradient(#0a9828 0.5px,#0c981e 39.5px,#1e9214 98.5px,#378a05 157.5px,#507e03 195.5px,#5c7902 258.5px,#607702 263.5px,#776d00 275.5px,#826200 280.5px,#ae3800 287.5px,#d80800 299.5px,#f1a400 395.5px,#f4b700 403.5px,#f6c100 418.5px,#f4b400 426.5px,#ea7900 438.5px,#e97400 439.5px,#de2b00 447.5px,#d90d00 452.5px,#d30d00 453.5px,#b23300 455.5px,#796b00 457.5px,#4b8103 459.5px,#3b8805 460.5px,#26900f 463.5px,#25900f 481.5px)"></i><i style="left:242px;width:1px;background:linear-gradient(#0c981e 0.5px,#26900f 98.5px,#378a05 147.5px,#478304 177.5px,#627602 213.5px,#6e7101 262.5px,#786c00 268.5px,#8e5600 280.5px,#ad3900 285.5px,#d80800 297.5px,#f1a500 395.5px,#f4b800 403.5px,#f6c200 418.5px,#f4b500 426.5px,#ea7b00 438.5px,#e97500 439.5px,#de2e00 447.5px,#d80a00 453.5px,#cb1700 454.5px,#aa3c00 456.5px,#8c5900 457.5px,#766d00 458.5px,#5f7802 459.5px,#4e7f03 460.5px,#328c08 463.5px,#328c08 481.5px)"></i><i style="left:243px;width:1px;background:linear-gradient(#0c981e 0.5px,#378a05 110.5px,#537d03 177.5px,#776d00 213.5px,#7a6b00 262.5px,#955000 280.5px,#ad3900 284.5px,#d80800 296.5px,#f1a700 395.5px,#f5b900 403.5px,#f6c300 418.5px,#f4b600 426.5px,#ea7b00 438.5px,#e97500 439.5px,#de2d00 447.5px,#d70900 453.5px,#b62f00 455.5px,#9f4600 456.5px,#806400 457.5px,#697301 458.5px,#517e03 459.5px,#408604 460.5px,#288f0e 463.5px,#268f0f 481.5px)"></i><i style="left:244px;width:1px;background:linear-gradient(#0e971d 0.5px,#378a05 62.5px,#5c7902 99.5px,#786c00 177.5px,#8c5900 197.5px,#955100 212.5px,#8e5700 262.5px,#a93d00 280.5px,#d80800 293.5px,#de2b00 312.5px,#ea7a00 361.5px,#f2aa00 395.5px,#f5bb00 403.5px,#f7c500 418.5px,#f4b800 426.5px,#e97700 439.5px,#de2c00 447.5px,#d90c00 452.5px,#d20f00 453.5px,#af3600 455.5px,#716f01 457.5px,#3f8604 459.5px,#308c09 460.5px,#199417 463.5px,#159519 481.5px)"></i><i style="left:245px;width:1px;background:linear-gradient(#09972f 0.5px,#0c981e 57.5px,#1b9315 99.5px,#2b8e0c 177.5px,#3d8705 213.5px,#408604 248.5px,#4c8003 262.5px,#5b7a02 271.5px,#796b00 280.5px,#8a5b00 283.5px,#ae3800 288.5px,#d30e00 297.5px,#d80900 299.5px,#ea7a00 365.5px,#f4b500 404.5px,#f6c100 418.5px,#f4b500 426.5px,#ea7900 438.5px,#e97400 439.5px,#de2a00 447.5px,#d80b00 452.5px,#cf1200 453.5px,#ad3900 455.5px,#6c7101 457.5px,#388a05 459.5px,#2b8e0c 460.5px,#12961b 463.5px,#10971b 481.5px)"></i><i style="left:246px;width:1px;background:linear-gradient(#089730 0.5px,#0c981e 115.5px,#288f0e 248.5px,#378a05 263.5px,#458304 271.5px,#746e00 281.5px,#865f00 284.5px,#ad3900 289.5px,#cf1200 297.5px,#d80900 300.5px,#ea7a00 366.5px,#f3b200 404.5px,#f6c100 418.5px,#f4b400 426.5px,#ea7900 438.5px,#e97400 439.5px,#de2c00 447.5px,#d50b00 453.5px,#b43100 455.5px,#9c4900 456.5px,#7d6700 457.5px,#627602 458.5px,#478304 459.5px,#348b07 460.5px,#199416 463.5px,#199416 481.5px)"></i><i style="left:247px;width:1px;background:linear-gradient(#0a9826 0.5px,#0c981e 55.5px,#2e8d0a 248.5px,#388a05 256.5px,#537d03 271.5px,#776c00 278.5px,#905500 283.5px,#ad3800 287.5px,#d70900 297.5px,#ea7900 364.5px,#f6c200 418.5px,#f4b600 426.5px,#ea7b00 438.5px,#e97600 439.5px,#df2f00 447.5px,#d90b00 453.5px,#ce1300 454.5px,#ae3700 456.5px,#796b00 458.5px,#5c7902 459.5px,#478204 460.5px,#3a8905 461.5px,#268f0f 463.5px,#268f0f 481.5px)"></i><i style="left:248px;width:1px;background:linear-gradient(#089731 0.5px,#0c981e 134.5px,#209112 248.5px,#3e8704 271.5px,#786c00 282.5px,#846100 284.5px,#ac3a00 289.5px,#cb1700 296.5px,#d80900 300.5px,#dc1e00 310.5px,#ea7900 365.5px,#f6c100 418.5px,#f4b400 426.5px,#ea7a00 438.5px,#e97400 439.5px,#de2c00 447.5px,#d60a00 453.5px,#b53000 455.5px,#9e4700 456.5px,#806500 457.5px,#647502 458.5px,#488204 459.5px,#348b07 460.5px,#199417 463.5px,#199417 481.5px)"></i><i style="left:249px;width:1px;background:linear-gradient(#089734 0.5px,#0c981e 153.5px,#1d9214 248.5px,#398905 271.5px,#786c00 283.5px,#af3700 290.5px,#d80800 300.5px,#db1d00 310.5px,#ea7900 365.5px,#f6c000 418.5px,#f4b400 426.5px,#ea7900 438.5px,#e97400 439.5px,#de2b00 447.5px,#d90d00 452.5px,#d40c00 453.5px,#b33200 455.5px,#7b6900 457.5px,#5f7802 458.5px,#438504 459.5px,#318c09 460.5px,#159519 463.5px,#159519 481.5px)"></i><i style="left:250px;width:1px;background:linear-gradient(#089732 0.5px,#0c981e 138.5px,#209213 248.5px,#3d8705 271.5px,#776c00 282.5px,#836200 284.5px,#ac3a00 289.5px,#cb1700 296.5px,#d80900 300.5px,#dc1e00 310.5px,#ea7900 365.5px,#f6c100 418.5px,#f4b400 426.5px,#ea7900 438.5px,#e97400 439.5px,#de2c00 447.5px,#d60b00 453.5px,#b53000 455.5px,#9d4800 456.5px,#7f6600 457.5px,#637602 458.5px,#478304 459.5px,#338b07 460.5px,#189417 463.5px,#189417 481.5px)"></i><i style="left:251px;width:1px;background:linear-gradient(#089730 0.5px,#0c981e 121.5px,#239111 248.5px,#428504 271.5px,#766d00 281.5px,#875e00 284.5px,#ae3800 289.5px,#d80800 299.5px,#dc1e00 310.5px,#ea7a00 365.5px,#f6c100 418.5px,#f4b400 426.5px,#ea7a00 438.5px,#e97400 439.5px,#de2d00 447.5px,#d70900 453.5px,#b72e00 455.5px,#a14400 456.5px,#836200 457.5px,#677401 458.5px,#4b8103 459.5px,#368a05 460.5px,#1b9315 463.5px,#1b9315 481.5px)"></i><i style="left:252px;width:1px;background:linear-gradient(#0a9827 0.5px,#0c981e 61.5px,#2d8d0b 248.5px,#388a05 257.5px,#517e03 271.5px,#756d00 278.5px,#8f5600 283.5px,#ad3900 287.5px,#d30e00 296.5px,#d80900 298.5px,#dc2100 310.5px,#ea7900 364.5px,#f6c200 418.5px,#f4b600 426.5px,#ea7b00 438.5px,#e97500 439.5px,#de2f00 447.5px,#d80b00 453.5px,#ce1400 454.5px,#ae3800 456.5px,#776c00 458.5px,#5b7902 459.5px,#468304 460.5px,#388a05 461.5px,#25900f 463.5px,#25900f 481.5px)"></i><i style="left:253px;width:3px;background:linear-gradient(#089732 0.5px,#0c981e 134.5px,#209212 248.5px,#3e8704 271.5px,#776c00 282.5px,#836100 284.5px,#ac3a00 289.5px,#cb1700 296.5px,#d80900 300.5px,#dc1e00 310.5px,#ea7900 365.5px,#f6c100 418.5px,#f4b400 426.5px,#ea7900 438.5px,#e97400 439.5px,#de2c00 447.5px,#d60b00 453.5px,#b53000 455.5px,#9e4800 456.5px,#7f6500 457.5px,#637602 458.5px,#478304 459.5px,#348b07 460.5px,#189417 463.5px,#189417 481.5px)"></i><i style="left:256px;width:1px;background:linear-gradient(#089733 0.5px,#0c981e 121.5px,#239111 248.5px,#408604 271.5px,#746e00 281.5px,#846000 284.5px,#ad3900 289.5px,#cb1700 296.5px,#d80900 300.5px,#dc1e00 310.5px,#ea7a00 365.5px,#f6c100 418.5px,#f4b400 426.5px,#ea7900 438.5px,#e97400 439.5px,#de2b00 447.5px,#d90d00 452.5px,#d50c00 453.5px,#b33200 455.5px,#9b4b00 456.5px,#7c6800 457.5px,#607702 458.5px,#448404 459.5px,#318c08 460.5px,#169518 463.5px,#169518 481.5px)"></i><i style="left:257px;width:1px;background:linear-gradient(#0a9826 0.5px,#0c981e 22.5px,#1d9214 62.5px,#378a05 90.5px,#448404 99.5px,#716f01 162.5px,#7f6500 187.5px,#786c00 208.5px,#786c00 246.5px,#a04600 271.5px,#ad3900 275.5px,#c02300 284.5px,#d80800 292.5px,#ea7a00 363.5px,#f4b600 404.5px,#f6c300 418.5px,#f4b600 426.5px,#ea7b00 438.5px,#e97500 439.5px,#de2b00 447.5px,#d90d00 452.5px,#d30d00 453.5px,#b13400 455.5px,#776c00 457.5px,#448404 459.5px,#338b07 460.5px,#1b9315 463.5px,#199416 481.5px)"></i><i style="left:258px;width:1px;background:linear-gradient(#2b8e0c 0.5px,#378a05 17.5px,#697301 63.5px,#796b00 69.5px,#ac3a00 89.5px,#b92b00 99.5px,#d80800 152.5px,#d91100 188.5px,#d80800 245.5px,#da1400 272.5px,#dd2900 303.5px,#e03900 316.5px,#f5bc00 403.5px,#f7c700 418.5px,#f5ba00 426.5px,#ea7900 439.5px,#df3100 447.5px,#d90c00 453.5px,#ce1300 454.5px,#ad3800 456.5px,#905500 457.5px,#7b6900 458.5px,#657501 459.5px,#547d03 460.5px,#368a06 463.5px,#328c08 481.5px)"></i><i style="left:259px;width:1px;background:linear-gradient(#1d9214 0.5px,#408604 63.5px,#786c00 99.5px,#ac3a00 138.5px,#bd2700 162.5px,#c91900 188.5px,#b92b00 208.5px,#b13400 242.5px,#c41e00 262.5px,#d80800 272.5px,#de2a00 313.5px,#f2a800 395.5px,#f5ba00 403.5px,#f6c300 418.5px,#f4b700 426.5px,#ea7b00 438.5px,#e97600 439.5px,#de2d00 447.5px,#d80800 453.5px,#b62e00 455.5px,#a04500 456.5px,#816300 457.5px,#6f7001 458.5px,#4d8003 460.5px,#368a06 463.5px,#348b07 481.5px)"></i><i style="left:260px;width:1px;background:linear-gradient(#0c981f 0.5px,#1d9214 62.5px,#2f8d0a 99.5px,#4d8003 122.5px,#786c00 143.5px,#994c00 162.5px,#ad3900 187.5px,#865f00 208.5px,#707001 237.5px,#726f00 242.5px,#9e4700 262.5px,#ad3800 266.5px,#d80800 285.5px,#dc2200 313.5px,#f1a300 395.5px,#f4b600 403.5px,#f6c000 418.5px,#f4b400 426.5px,#ea7900 438.5px,#e97300 439.5px,#de2a00 447.5px,#d90c00 452.5px,#d10f00 453.5px,#b03600 455.5px,#746e00 457.5px,#4e7f03 459.5px,#3a8905 461.5px,#2f8d0a 463.5px,#2f8d0a 481.5px)"></i><i style="left:261px;width:1px;background:linear-gradient(#0a9826 0.5px,#0c981e 38.5px,#12961a 62.5px,#268f0f 99.5px,#428504 122.5px,#796b00 142.5px,#a63f00 162.5px,#b43000 187.5px,#ab3b00 194.5px,#885c00 208.5px,#786c00 222.5px,#657501 238.5px,#786c00 247.5px,#9e4800 262.5px,#ac3900 266.5px,#cf1200 282.5px,#d80900 288.5px,#dc1f00 313.5px,#f1a200 395.5px,#f4b500 403.5px,#f6c000 418.5px,#f3b300 426.5px,#ea7800 438.5px,#e97200 439.5px,#dd2800 447.5px,#d80a00 452.5px,#cd1500 453.5px,#aa3c00 455.5px,#8a5b00 456.5px,#697301 457.5px,#448404 459.5px,#378a05 460.5px,#298e0d 463.5px,#298e0d 481.5px)"></i><i style="left:262px;width:1px;background:linear-gradient(#0b9824 0.5px,#0c981e 30.5px,#149519 62.5px,#2d8d0b 99.5px,#378a05 108.5px,#517e03 123.5px,#796b00 134.5px,#ac3a00 152.5px,#bc2800 163.5px,#c61c00 187.5px,#ad3900 203.5px,#a04600 208.5px,#786c00 233.5px,#716f01 238.5px,#7d6700 243.5px,#ab3b00 260.5px,#d80800 285.5px,#dc2000 313.5px,#f1a200 395.5px,#f4b600 403.5px,#f6c000 418.5px,#f3b300 426.5px,#ea7800 438.5px,#e97300 439.5px,#de2900 447.5px,#d80a00 452.5px,#cf1300 453.5px,#ad3900 455.5px,#6d7101 457.5px,#498204 459.5px,#378a05 461.5px,#2e8d0a 463.5px,#2e8d0a 481.5px)"></i><i style="left:263px;width:1px;background:linear-gradient(#12961b 0.5px,#209212 62.5px,#388a05 92.5px,#408604 99.5px,#6d7101 123.5px,#7a6a00 126.5px,#ac3a00 139.5px,#d40c00 163.5px,#d80800 191.5px,#ba2a00 207.5px,#ac3a00 220.5px,#8b5a00 237.5px,#ad3900 250.5px,#d80800 278.5px,#dd2300 313.5px,#f1a400 395.5px,#f4b700 403.5px,#f6c100 418.5px,#f4b400 426.5px,#ea7a00 438.5px,#e97400 439.5px,#de2c00 447.5px,#d60a00 453.5px,#b53000 455.5px,#9f4700 456.5px,#806500 457.5px,#5e7802 459.5px,#527e03 460.5px,#3f8604 463.5px,#3f8604 481.5px)"></i><i style="left:264px;width:2px;background:linear-gradient(#199417 0.5px,#278f0e 62.5px,#378a05 83.5px,#4b8103 99.5px,#776c00 123.5px,#ad3900 137.5px,#d80800 163.5px,#d90d00 187.5px,#d80800 193.5px,#bf2500 207.5px,#ab3b00 225.5px,#945100 237.5px,#ad3900 247.5px,#d80800 276.5px,#dd2500 313.5px,#f1a500 395.5px,#f4b700 403.5px,#f6c200 418.5px,#f4b500 426.5px,#ea7a00 438.5px,#e97500 439.5px,#de2e00 447.5px,#d80900 453.5px,#ca1800 454.5px,#a83e00 456.5px,#895b00 457.5px,#796b00 458.5px,#5c7902 460.5px,#4a8104 463.5px,#4a8104 481.5px)"></i><i style="left:266px;width:1px;background:linear-gradient(#1b9315 0.5px,#298e0d 63.5px,#378a05 80.5px,#4c8003 98.5px,#786c00 122.5px,#ad3900 136.5px,#d80800 162.5px,#d90e00 187.5px,#d80800 194.5px,#c02300 207.5px,#ac3a00 226.5px,#974e00 237.5px,#ad3900 246.5px,#d80800 275.5px,#dd2500 313.5px,#f1a500 395.5px,#f4b800 403.5px,#f6c200 418.5px,#f4b500 426.5px,#ea7b00 438.5px,#e97500 439.5px,#de2e00 447.5px,#d80a00 453.5px,#cb1600 454.5px,#aa3c00 456.5px,#8c5800 457.5px,#7c6800 458.5px,#607702 460.5px,#4d8003 463.5px,#4d8003 481.5px)"></i><i style="left:267px;width:1px;background:linear-gradient(#169518 0.5px,#249010 62.5px,#388a05 87.5px,#478304 99.5px,#736e00 123.5px,#ad3900 138.5px,#d70a00 163.5px,#d90d00 187.5px,#d80800 192.5px,#bc2800 208.5px,#ac3a00 223.5px,#905500 237.5px,#ad3900 248.5px,#d80800 277.5px,#dd2400 313.5px,#f1a400 395.5px,#f4b700 403.5px,#f6c100 418.5px,#f4b500 426.5px,#ea7a00 438.5px,#e97500 439.5px,#de2d00 447.5px,#d80800 453.5px,#b82c00 455.5px,#a44200 456.5px,#865f00 457.5px,#756d00 458.5px,#587b02 460.5px,#468304 463.5px,#468304 481.5px)"></i><i style="left:268px;width:1px;background:linear-gradient(#11961b 0.5px,#1f9213 62.5px,#378a05 93.5px,#6c7201 123.5px,#796b00 126.5px,#ab3b00 139.5px,#d40d00 163.5px,#d80800 174.5px,#d70900 191.5px,#ba2a00 207.5px,#ab3b00 220.5px,#895b00 237.5px,#ac3a00 250.5px,#d80800 279.5px,#dc2300 313.5px,#f1a400 395.5px,#f4b700 403.5px,#f6c100 418.5px,#f4b400 426.5px,#ea7900 438.5px,#e97400 439.5px,#de2c00 447.5px,#d60b00 453.5px,#b53000 455.5px,#9d4800 456.5px,#7f6600 457.5px,#5c7902 459.5px,#517e03 460.5px,#3e8704 463.5px,#3e8704 481.5px)"></i><i style="left:269px;width:1px;background:linear-gradient(#159519 0.5px,#239011 62.5px,#388a05 88.5px,#458304 99.5px,#726f00 123.5px,#ad3900 138.5px,#d60a00 163.5px,#d90c00 187.5px,#d80800 192.5px,#bd2700 207.5px,#ac3a00 222.5px,#8f5600 237.5px,#ac3a00 248.5px,#d80800 277.5px,#dd2400 313.5px,#f1a400 395.5px,#f4b700 403.5px,#f6c100 418.5px,#f4b500 426.5px,#ea7a00 438.5px,#e97400 439.5px,#de2d00 447.5px,#d80800 453.5px,#b82d00 455.5px,#a34300 456.5px,#856000 457.5px,#746e00 458.5px,#577b03 460.5px,#458404 463.5px,#458404 481.5px)"></i><i style="left:270px;width:1px;background:linear-gradient(#13961a 0.5px,#219112 62.5px,#388a05 90.5px,#438504 99.5px,#6f7001 123.5px,#786c00 125.5px,#ab3b00 138.5px,#d50b00 163.5px,#d70900 192.5px,#bb2900 207.5px,#ac3a00 221.5px,#8d5800 237.5px,#ad3900 249.5px,#d80800 278.5px,#dd2300 313.5px,#f1a400 395.5px,#f4b700 403.5px,#f6c100 418.5px,#f4b400 426.5px,#ea7a00 438.5px,#e97400 439.5px,#de2c00 447.5px,#d70900 453.5px,#b62e00 455.5px,#a14500 456.5px,#826200 457.5px,#726f00 458.5px,#547c03 460.5px,#428504 463.5px,#428504 481.5px)"></i><i style="left:271px;width:1px;background:linear-gradient(#0f971c 0.5px,#1d9214 62.5px,#378a05 95.5px,#697301 123.5px,#7a6a00 127.5px,#ac3a00 140.5px,#d20e00 163.5px,#d80800 176.5px,#d80800 190.5px,#b92c00 207.5px,#ab3b00 219.5px,#875e00 237.5px,#ad3900 251.5px,#d80900 280.5px,#dc2200 313.5px,#f1a400 395.5px,#f4b700 403.5px,#f6c100 418.5px,#f4b400 426.5px,#ea7900 438.5px,#e97400 439.5px,#de2b00 447.5px,#d90e00 452.5px,#d50c00 453.5px,#b33200 455.5px,#9b4a00 456.5px,#7c6800 457.5px,#5a7a02 459.5px,#4e7f03 460.5px,#3b8805 463.5px,#3b8805 481.5px)"></i><i style="left:272px;width:1px;background:linear-gradient(#169518 0.5px,#249010 62.5px,#428504 98.5px,#6e7101 123.5px,#ac3a00 141.5px,#cd1400 163.5px,#d70900 188.5px,#b72e00 207.5px,#ab3b00 219.5px,#8c5900 237.5px,#ac3a00 250.5px,#d80800 278.5px,#dd2400 313.5px,#f1a400 395.5px,#f4b700 403.5px,#f6c100 418.5px,#f4b500 426.5px,#ea7a00 438.5px,#e97500 439.5px,#de2d00 447.5px,#d80800 453.5px,#b82c00 455.5px,#a44200 456.5px,#855f00 457.5px,#756e00 458.5px,#567c03 460.5px,#428504 463.5px,#428504 481.5px)"></i><i style="left:273px;width:1px;background:linear-gradient(#1a9316 0.5px,#2a8e0d 62.5px,#428504 98.5px,#687301 122.5px,#776c00 127.5px,#ac3a00 148.5px,#be2500 163.5px,#c81a00 188.5px,#ae3800 207.5px,#8a5b00 238.5px,#ac3900 254.5px,#b82c00 263.5px,#d80800 279.5px,#dd2500 313.5px,#f1a500 395.5px,#f4b800 403.5px,#f6c200 418.5px,#f4b500 426.5px,#ea7a00 438.5px,#e97500 439.5px,#de2e00 447.5px,#d80a00 453.5px,#cb1700 454.5px,#a93d00 456.5px,#8b5900 457.5px,#7a6b00 458.5px,#597a02 460.5px,#438504 463.5px,#438504 481.5px)"></i><i style="left:274px;width:1px;background:linear-gradient(#11961b 0.5px,#229111 62.5px,#328c08 99.5px,#517e03 122.5px,#786c00 140.5px,#a04600 162.5px,#b03500 187.5px,#ab3b00 192.5px,#8b5a00 208.5px,#746e00 237.5px,#776d00 242.5px,#a34300 262.5px,#ae3800 265.5px,#d80800 284.5px,#dc2300 313.5px,#f1a400 395.5px,#f4b700 403.5px,#f6c100 418.5px,#f4b400 426.5px,#ea7900 438.5px,#e97400 439.5px,#de2c00 447.5px,#d60b00 453.5px,#b53000 455.5px,#9d4800 456.5px,#7f6600 457.5px,#567c03 459.5px,#488204 460.5px,#378a05 462.5px,#318c08 463.5px,#318c08 481.5px)"></i><i style="left:275px;width:1px;background:linear-gradient(#0c981e 0.5px,#298f0d 99.5px,#378a05 115.5px,#776d00 162.5px,#8b5a00 187.5px,#6d7101 208.5px,#637602 243.5px,#796b00 253.5px,#8b5a00 262.5px,#ac3a00 269.5px,#cf1200 282.5px,#d80800 287.5px,#dc2200 313.5px,#f1a300 395.5px,#f4b600 403.5px,#f6c000 418.5px,#f4b400 426.5px,#ea7900 438.5px,#e97300 439.5px,#de2b00 447.5px,#d90d00 452.5px,#d30e00 453.5px,#b13400 455.5px,#786c00 457.5px,#4c8003 459.5px,#3d8705 460.5px,#288f0e 463.5px,#288f0e 481.5px)"></i><i style="left:276px;width:1px;background:linear-gradient(#0b9825 0.5px,#0c981e 40.5px,#189417 98.5px,#3c8805 187.5px,#368a06 208.5px,#388905 243.5px,#3d8705 248.5px,#587b02 262.5px,#776d00 272.5px,#ac3a00 283.5px,#d80900 296.5px,#ea7a00 366.5px,#f4b400 404.5px,#f6c100 418.5px,#f4b500 426.5px,#ea7a00 438.5px,#e97500 439.5px,#de2d00 447.5px,#d80900 453.5px,#a54100 456.5px,#875e00 457.5px,#6e7101 458.5px,#547d03 459.5px,#418504 460.5px,#25900f 463.5px,#25900f 481.5px)"></i><i style="left:277px;width:1px;background:linear-gradient(#0a9827 0.5px,#0c981e 62.5px,#2d8d0b 248.5px,#388a05 257.5px,#517e03 271.5px,#756d00 278.5px,#8e5700 283.5px,#ac3a00 287.5px,#d30e00 296.5px,#d80900 298.5px,#dc2100 310.5px,#ea7900 364.5px,#f6c200 418.5px,#f4b600 426.5px,#ea7b00 438.5px,#e97500 439.5px,#de2f00 447.5px,#d80b00 453.5px,#cd1400 454.5px,#ad3800 456.5px,#776d00 458.5px,#5b7a02 459.5px,#468304 460.5px,#388a05 461.5px,#25900f 463.5px,#25900f 481.5px)"></i><i style="left:278px;width:1px;background:linear-gradient(#089733 0.5px,#0c981e 145.5px,#1e9213 248.5px,#3b8805 271.5px,#7a6a00 283.5px,#aa3c00 289.5px,#ca1800 296.5px,#d80900 300.5px,#dc1d00 310.5px,#ea7900 365.5px,#f6c100 418.5px,#f4b400 426.5px,#ea7900 438.5px,#e97400 439.5px,#de2c00 447.5px,#d90e00 452.5px,#d50c00 453.5px,#b43100 455.5px,#9c4a00 456.5px,#7d6700 457.5px,#617702 458.5px,#458404 459.5px,#328c08 460.5px,#179518 463.5px,#179518 481.5px)"></i><i style="left:279px;width:1px;background:linear-gradient(#079737 0.5px,#0c981e 175.5px,#199416 248.5px,#378a05 272.5px,#7a6a00 284.5px,#ac3a00 290.5px,#c71c00 296.5px,#d80900 301.5px,#db1c00 310.5px,#ea7900 365.5px,#f6c000 418.5px,#f4b300 426.5px,#ea7900 438.5px,#e97300 439.5px,#de2a00 447.5px,#d90c00 452.5px,#d20f00 453.5px,#b03500 455.5px,#756d00 457.5px,#3d8705 459.5px,#2d8d0b 460.5px,#11961b 463.5px,#11961b 481.5px)"></i><i style="left:280px;width:1px;background:linear-gradient(#089734 0.5px,#0c981e 153.5px,#1d9214 248.5px,#398905 271.5px,#786c00 283.5px,#af3700 290.5px,#d80800 300.5px,#db1d00 310.5px,#ea7900 365.5px,#f6c000 418.5px,#f4b400 426.5px,#ea7900 438.5px,#e97400 439.5px,#de2b00 447.5px,#d90d00 452.5px,#d40c00 453.5px,#b33200 455.5px,#7b6900 457.5px,#5f7802 458.5px,#438504 459.5px,#318c09 460.5px,#159519 463.5px,#159519 481.5px)"></i><i style="left:281px;width:1px;background:linear-gradient(#089732 0.5px,#0c981e 137.5px,#209212 248.5px,#3d8705 271.5px,#776c00 282.5px,#836200 284.5px,#ac3a00 289.5px,#cb1700 296.5px,#d80900 300.5px,#dc1e00 310.5px,#ea7900 365.5px,#f6c100 418.5px,#f4b400 426.5px,#ea7900 438.5px,#e97400 439.5px,#de2c00 447.5px,#d60b00 453.5px,#b53000 455.5px,#9e4800 456.5px,#7f6500 457.5px,#637602 458.5px,#478304 459.5px,#348b07 460.5px,#189417 463.5px,#189417 481.5px)"></i><i style="left:282px;width:1px;background:linear-gradient(#05973f 0.5px,#10971c 248.5px,#2b8e0c 271.5px,#358b06 274.5px,#647502 283.5px,#756d00 285.5px,#af3700 292.5px,#d80800 302.5px,#db1b00 311.5px,#ea7900 366.5px,#f6bf00 418.5px,#f3b200 426.5px,#ea7800 438.5px,#e97200 439.5px,#dd2800 447.5px,#d80900 452.5px,#cc1500 453.5px,#a83e00 455.5px,#885c00 456.5px,#677401 457.5px,#318c08 459.5px,#249010 460.5px,#11961b 462.5px,#0b9821 463.5px,#0b9821 481.5px)"></i><i style="left:283px;width:1px;background:linear-gradient(#079735 0.5px,#0c981e 157.5px,#1c9315 248.5px,#388a05 271.5px,#776c00 283.5px,#ae3800 290.5px,#d80800 300.5px,#db1d00 310.5px,#ea7900 365.5px,#f6c000 418.5px,#f4b400 426.5px,#ea7900 438.5px,#e97400 439.5px,#de2b00 447.5px,#d90d00 452.5px,#d40d00 453.5px,#b23300 455.5px,#7a6a00 457.5px,#428504 459.5px,#308c09 460.5px,#149519 463.5px,#149519 481.5px)"></i><i style="left:284px;width:1px;background:linear-gradient(#0a982a 0.5px,#0e971d 98.5px,#1e9214 143.5px,#318c08 178.5px,#408604 247.5px,#677401 271.5px,#746e00 274.5px,#9d4900 283.5px,#af3700 286.5px,#d80800 297.5px,#ea7a00 365.5px,#f3b300 404.5px,#f6c200 418.5px,#f4b600 426.5px,#ea7b00 438.5px,#e97600 439.5px,#de2d00 447.5px,#d80800 453.5px,#a34300 456.5px,#856000 457.5px,#6a7201 458.5px,#4f7f03 459.5px,#3b8805 460.5px,#209213 463.5px,#209213 481.5px)"></i><i style="left:285px;width:1px;background:linear-gradient(#0a9829 0.5px,#0e971d 99.5px,#368a05 150.5px,#438404 158.5px,#707001 178.5px,#786c00 222.5px,#806500 247.5px,#8f5600 262.5px,#9f4700 271.5px,#ac3a00 275.5px,#bb2900 283.5px,#d80900 294.5px,#dc2200 313.5px,#ea7a00 366.5px,#f1a300 395.5px,#f4b600 404.5px,#f6c300 418.5px,#f4b700 426.5px,#ea7700 439.5px,#de2b00 447.5px,#d90d00 452.5px,#d30d00 453.5px,#b23300 455.5px,#796b00 457.5px,#478304 459.5px,#368a06 460.5px,#1f9213 463.5px,#1f9213 481.5px)"></i><i style="left:286px;width:1px;background:linear-gradient(#13961a 0.5px,#239111 99.5px,#388905 118.5px,#617702 142.5px,#766d00 151.5px,#875e00 158.5px,#ab3b00 169.5px,#ba2b00 177.5px,#bb2900 213.5px,#c22100 248.5px,#c71b00 263.5px,#d80800 278.5px,#dd2500 313.5px,#ea7900 365.5px,#f1a500 395.5px,#f5bb00 404.5px,#f7c600 418.5px,#f5ba00 426.5px,#ea7a00 439.5px,#de2e00 447.5px,#d80900 453.5px,#a73f00 456.5px,#895c00 457.5px,#736e00 458.5px,#5d7902 459.5px,#4c8003 460.5px,#318c08 463.5px,#318c08 481.5px)"></i><i style="left:287px;width:1px;background:linear-gradient(#169518 0.5px,#278f0e 99.5px,#388a05 112.5px,#786c00 144.5px,#9b4b00 157.5px,#ad3900 162.5px,#cb1700 177.5px,#cc1600 213.5px,#d80800 264.5px,#dd2400 313.5px,#ea7a00 366.5px,#f1a500 395.5px,#f5bc00 404.5px,#f7c700 418.5px,#f5ba00 426.5px,#ea7b00 439.5px,#de2d00 447.5px,#d70900 453.5px,#b62e00 455.5px,#a14500 456.5px,#826200 457.5px,#6e7101 458.5px,#597a02 459.5px,#4a8104 460.5px,#328c08 463.5px,#328c08 481.5px)"></i><i style="left:288px;width:1px;background:linear-gradient(#10971c 0.5px,#25900f 98.5px,#378a05 112.5px,#776c00 144.5px,#ab3b00 162.5px,#c81a00 177.5px,#c91900 213.5px,#d40d00 262.5px,#d80800 266.5px,#dd2400 313.5px,#ea7a00 366.5px,#f1a400 395.5px,#f5bb00 404.5px,#f7c600 418.5px,#f5b900 426.5px,#ea7a00 439.5px,#de2a00 447.5px,#d90c00 452.5px,#d11000 453.5px,#b03600 455.5px,#746e00 457.5px,#4d8003 459.5px,#378a05 461.5px,#2d8d0b 463.5px,#2d8d0b 481.5px)"></i><i style="left:289px;width:1px;background:linear-gradient(#13961a 0.5px,#2d8d0b 99.5px,#388a05 107.5px,#796b00 140.5px,#ad3900 160.5px,#cc1600 178.5px,#cc1600 213.5px,#d80800 264.5px,#dd2500 313.5px,#ea7900 365.5px,#f1a500 395.5px,#f5bc00 404.5px,#f7c500 418.5px,#f5b900 426.5px,#ea7a00 439.5px,#de2a00 447.5px,#d90b00 452.5px,#d01100 453.5px,#af3700 455.5px,#726f00 457.5px,#4d8003 459.5px,#3a8905 461.5px,#308c09 463.5px,#308c09 481.5px)"></i><i style="left:290px;width:1px;background:linear-gradient(#587b02 0.5px,#786c00 55.5px,#d80800 144.5px,#dd2600 177.5px,#de2a00 197.5px,#dc1d00 227.5px,#db1900 262.5px,#e13c00 312.5px,#ea7a00 352.5px,#f3b100 395.5px,#f7c400 404.5px,#f8cc00 418.5px,#f6c200 426.5px,#ed8c00 439.5px,#e24600 447.5px,#d80a00 455.5px,#bd2700 457.5px,#9c4a00 460.5px,#875d00 463.5px,#776c00 474.5px,#776d00 481.5px)"></i><i style="left:291px;width:1px;background:linear-gradient(#db1b00 0.5px,#dd2700 53.5px,#e34d00 99.5px,#e76800 142.5px,#ed8d00 177.5px,#ef9900 197.5px,#e76600 228.5px,#e34c00 263.5px,#e55a00 283.5px,#eb8000 312.5px,#f4b600 362.5px,#f8cc00 395.5px,#fad900 404.5px,#fcdf00 421.5px,#f9d300 431.5px,#f4b800 440.5px,#ec8900 448.5px,#e34f00 455.5px,#de2d00 461.5px,#db1b00 474.5px,#db1a00 481.5px)"></i><i style="left:292px;width:1px;background:linear-gradient(#dd2400 0.5px,#df3000 53.5px,#e55700 99.5px,#e97000 142.5px,#ef9700 177.5px,#f0a100 197.5px,#f09b00 203.5px,#e86c00 228.5px,#e45300 263.5px,#e66000 283.5px,#ec8500 312.5px,#f5ba00 362.5px,#f9cf00 395.5px,#fbdb00 404.5px,#fce200 421.5px,#fad500 431.5px,#f4b700 441.5px,#ec8300 449.5px,#e45100 455.5px,#df3100 461.5px,#dc1f00 474.5px,#dc1e00 481.5px)"></i><i style="left:293px;width:1px;background:linear-gradient(#dd2600 0.5px,#df3200 53.5px,#e65c00 99.5px,#e97600 142.5px,#f09e00 177.5px,#f1a600 197.5px,#f1a300 203.5px,#e86e00 228.5px,#e45500 263.5px,#e66200 283.5px,#ec8700 312.5px,#f5bc00 362.5px,#f9cf00 395.5px,#fbdc00 404.5px,#fce200 421.5px,#fad500 431.5px,#f4b700 441.5px,#eb8200 449.5px,#e45000 455.5px,#df2f00 461.5px,#db1c00 474.5px,#db1c00 481.5px)"></i><i style="left:294px;width:1px;background:linear-gradient(#de2d00 0.5px,#e03900 53.5px,#e76400 98.5px,#eb7f00 143.5px,#f1a700 177.5px,#f3ad00 197.5px,#f2ac00 203.5px,#e97300 228.5px,#e55a00 263.5px,#e76700 283.5px,#ed8c00 313.5px,#f6c000 362.5px,#f9d100 395.5px,#fbde00 404.5px,#fce400 421.5px,#fad700 431.5px,#f5bd00 440.5px,#ed8b00 448.5px,#e45200 455.5px,#df3100 461.5px,#dc1f00 474.5px,#dc1f00 481.5px)"></i><i style="left:295px;width:2px;background:linear-gradient(#de2e00 0.5px,#e03a00 53.5px,#e76700 98.5px,#eb8100 143.5px,#f2aa00 177.5px,#f3b100 202.5px,#e97400 228.5px,#e55b00 263.5px,#e76800 283.5px,#ed8d00 313.5px,#f6c100 362.5px,#f9d100 395.5px,#fbde00 404.5px,#fce400 421.5px,#fad700 431.5px,#f5bd00 440.5px,#ed8a00 448.5px,#e45100 455.5px,#df3000 461.5px,#dc1e00 474.5px,#dc1d00 481.5px)"></i><i style="left:297px;width:1px;background:linear-gradient(#de2c00 0.5px,#e03800 53.5px,#e76600 99.5px,#eb8000 143.5px,#f2a900 177.5px,#f3b000 202.5px,#e97300 228.5px,#e55900 263.5px,#e76600 283.5px,#ed8c00 313.5px,#f6c000 362.5px,#f9d000 395.5px,#fbdd00 404.5px,#fce300 421.5px,#fad600 431.5px,#f4b800 441.5px,#eb8200 449.5px,#e34f00 455.5px,#de2e00 461.5px,#db1b00 474.5px,#db1a00 481.5px)"></i><i style="left:298px;width:1px;background:linear-gradient(#dd2800 0.5px,#df3400 53.5px,#e76400 99.5px,#eb7e00 143.5px,#f2a700 177.5px,#f3ae00 202.5px,#e97100 228.5px,#e55600 263.5px,#e76400 283.5px,#ed8a00 313.5px,#f6be00 362.5px,#f8ce00 395.5px,#fbdb00 404.5px,#fce100 421.5px,#fad500 431.5px,#f4b600 441.5px,#eb8000 449.5px,#e34c00 455.5px,#de2a00 461.5px,#da1600 474.5px,#da1500 481.5px)"></i><i style="left:299px;width:8px;background:linear-gradient(#de2a00 0.5px,#e03600 53.5px,#e76500 99.5px,#eb8000 143.5px,#f2a800 177.5px,#f3af00 202.5px,#e97200 228.5px,#e55800 263.5px,#e76600 283.5px,#ed8b00 313.5px,#f6bf00 362.5px,#f9cf00 395.5px,#fbdc00 404.5px,#fce200 421.5px,#fad600 431.5px,#f4b700 441.5px,#eb8100 449.5px,#e34e00 455.5px,#de2c00 461.5px,#db1900 474.5px,#db1800 481.5px)"></i><i style="left:307px;width:1px;background:linear-gradient(#de2d00 0.5px,#e03900 53.5px,#e76600 98.5px,#eb8100 143.5px,#f2aa00 177.5px,#f3b000 202.5px,#e97300 228.5px,#e55a00 263.5px,#e76700 283.5px,#ed8d00 313.5px,#f6c100 362.5px,#f9d100 395.5px,#fbdd00 404.5px,#fce400 421.5px,#fad700 431.5px,#f4b800 441.5px,#eb8200 449.5px,#e45000 455.5px,#df2f00 461.5px,#db1d00 474.5px,#db1c00 481.5px)"></i><i style="left:308px;width:1px;background:linear-gradient(#dd2700 0.5px,#df3500 53.5px,#e66300 99.5px,#eb7d00 143.5px,#f1a500 177.5px,#f2ac00 202.5px,#e97100 228.5px,#e55900 263.5px,#e76600 283.5px,#ed8c00 313.5px,#f6c000 362.5px,#f9d000 395.5px,#fbdc00 404.5px,#fce300 421.5px,#fad600 431.5px,#f4b700 441.5px,#eb8200 449.5px,#e45000 455.5px,#de2f00 461.5px,#db1c00 474.5px,#db1b00 481.5px)"></i><i style="left:309px;width:1px;background:linear-gradient(#dc1e00 0.5px,#de2f00 53.5px,#e65d00 99.5px,#e97600 142.5px,#f09e00 177.5px,#f1a400 202.5px,#e86f00 228.5px,#e55800 263.5px,#e76500 283.5px,#ed8b00 313.5px,#f6bf00 362.5px,#f9d000 395.5px,#fbdc00 404.5px,#fce300 421.5px,#fad600 431.5px,#f4b700 441.5px,#ec8300 449.5px,#e45100 455.5px,#df3100 461.5px,#dc1f00 474.5px,#dc1e00 481.5px)"></i><i style="left:310px;width:1px;background:linear-gradient(#da1400 0.5px,#dd2800 53.5px,#e55600 99.5px,#e86f00 142.5px,#ef9600 178.5px,#f09c00 202.5px,#e86b00 228.5px,#e55700 263.5px,#e76400 283.5px,#ed8a00 313.5px,#f5be00 362.5px,#f9cf00 395.5px,#fbdc00 404.5px,#fce200 421.5px,#fad500 431.5px,#f4b700 441.5px,#ec8400 449.5px,#e45200 455.5px,#df3200 461.5px,#dc2000 474.5px,#dc1f00 481.5px)"></i><i style="left:311px;width:1px;background:linear-gradient(#d20f00 0.5px,#d80800 8.5px,#db1b00 52.5px,#e34b00 98.5px,#e76600 142.5px,#ed8c00 178.5px,#ee9200 202.5px,#e76600 228.5px,#e45300 263.5px,#e66000 283.5px,#ec8600 312.5px,#f5bb00 362.5px,#f8cd00 395.5px,#fbd900 404.5px,#fcdf00 421.5px,#f9d300 431.5px,#f5b900 440.5px,#ed8900 448.5px,#e45000 455.5px,#de2f00 461.5px,#db1c00 474.5px,#db1b00 481.5px)"></i><i style="left:312px;width:1px;background:linear-gradient(#a44200 0.5px,#ad3900 7.5px,#cc1600 52.5px,#d80800 59.5px,#df3200 99.5px,#e34e00 142.5px,#e97600 177.5px,#ea7a00 188.5px,#eb7e00 203.5px,#e55b00 228.5px,#e34e00 263.5px,#e55c00 283.5px,#f4b800 362.5px,#f8ca00 395.5px,#fad700 404.5px,#fbdd00 421.5px,#f9d000 431.5px,#f4b600 440.5px,#ec8800 448.5px,#e34d00 455.5px,#de2b00 461.5px,#db1800 474.5px,#db1700 481.5px)"></i><i style="left:313px;width:1px;background:linear-gradient(#637602 0.5px,#786c00 19.5px,#9a4b00 52.5px,#ac3a00 58.5px,#d70900 84.5px,#db1b00 99.5px,#e03800 143.5px,#e65f00 177.5px,#e86b00 202.5px,#e45200 228.5px,#e34c00 263.5px,#e55a00 283.5px,#f4b600 362.5px,#f7c900 395.5px,#fad500 404.5px,#fbdb00 421.5px,#f9cf00 431.5px,#f4b500 440.5px,#ec8700 448.5px,#e34d00 455.5px,#de2b00 461.5px,#db1800 474.5px,#db1700 481.5px)"></i><i style="left:314px;width:1px;background:linear-gradient(#368a06 0.5px,#627602 53.5px,#796b00 61.5px,#b13500 83.5px,#d80900 98.5px,#dd2700 143.5px,#e34c00 178.5px,#e55900 202.5px,#e34c00 228.5px,#e34c00 263.5px,#e55900 283.5px,#f4b500 362.5px,#f7c800 395.5px,#fad500 404.5px,#fbdb00 421.5px,#f9cf00 431.5px,#f4b500 440.5px,#ec8900 448.5px,#e44f00 455.5px,#de2e00 461.5px,#db1b00 474.5px,#db1b00 481.5px)"></i><i style="left:315px;width:1px;background:linear-gradient(#448404 0.5px,#716f01 53.5px,#ab3b00 74.5px,#b92b00 83.5px,#d80900 97.5px,#dd2500 143.5px,#e24700 178.5px,#e45400 202.5px,#e24800 228.5px,#e24800 263.5px,#e86b00 300.5px,#f4b400 362.5px,#f7c800 395.5px,#fad500 404.5px,#fbdb00 421.5px,#f9cf00 431.5px,#f4b400 440.5px,#ed8a00 448.5px,#e45100 455.5px,#df3000 461.5px,#dc1e00 474.5px,#dc1d00 481.5px)"></i><i style="left:316px;width:1px;background:linear-gradient(#498204 0.5px,#756e00 53.5px,#ab3b00 72.5px,#d80800 97.5px,#dc2200 142.5px,#e14200 178.5px,#e34e00 202.5px,#e24300 228.5px,#e24400 263.5px,#ea7700 312.5px,#f3b300 362.5px,#f7c700 395.5px,#fad400 404.5px,#fbda00 421.5px,#f8cd00 431.5px,#f3b300 440.5px,#ed8900 448.5px,#e45100 455.5px,#df3000 461.5px,#dc1d00 474.5px,#db1d00 481.5px)"></i><i style="left:317px;width:1px;background:linear-gradient(#826300 0.5px,#a54100 52.5px,#d80800 83.5px,#da1600 99.5px,#de2b00 143.5px,#e24800 178.5px,#e45300 202.5px,#e34900 228.5px,#e24800 263.5px,#f4b500 362.5px,#f7c900 395.5px,#fad500 404.5px,#fbdb00 421.5px,#f8ce00 431.5px,#f3b300 440.5px,#ed8b00 448.5px,#e45100 455.5px,#df3000 461.5px,#dc1d00 474.5px,#db1c00 481.5px)"></i><i style="left:318px;width:1px;background:linear-gradient(#cd1500 0.5px,#d80800 34.5px,#d90c00 52.5px,#df3000 99.5px,#e13f00 142.5px,#e45500 177.5px,#e65c00 202.5px,#e45100 228.5px,#e34d00 262.5px,#f5bb00 362.5px,#f8cd00 395.5px,#fad900 404.5px,#fbdd00 421.5px,#f9d000 431.5px,#f3b000 441.5px,#ed8c00 448.5px,#e45300 455.5px,#df3000 461.5px,#dc2200 468.5px,#db1a00 481.5px)"></i><i style="left:319px;width:1px;background:linear-gradient(#bc2800 0.5px,#cc1600 42.5px,#d80800 55.5px,#dd2600 98.5px,#df3200 143.5px,#e24300 178.5px,#e24700 202.5px,#e13e00 228.5px,#e13c00 262.5px,#f4b500 362.5px,#f8ca00 395.5px,#fad600 404.5px,#fbdb00 421.5px,#f8ce00 431.5px,#f3ae00 441.5px,#ed8c00 448.5px,#e45200 455.5px,#df3000 461.5px,#dc2100 468.5px,#db1a00 481.5px)"></i><i style="left:320px;width:1px;background:linear-gradient(#607702 0.5px,#786c00 26.5px,#865f00 42.5px,#b33200 62.5px,#d70900 94.5px,#dc2200 178.5px,#dd2600 202.5px,#dc2000 228.5px,#dc2100 262.5px,#e03800 283.5px,#ea7900 326.5px,#f2a900 362.5px,#f6c300 395.5px,#f9d000 404.5px,#fad600 421.5px,#f7c700 432.5px,#f2aa00 441.5px,#ec8900 448.5px,#e44f00 455.5px,#de2e00 461.5px,#dc1f00 468.5px,#db1900 474.5px,#db1800 481.5px)"></i><i style="left:321px;width:1px;background:linear-gradient(#418504 0.5px,#6c7101 43.5px,#786c00 47.5px,#ab3b00 65.5px,#cd1500 99.5px,#d80800 133.5px,#da1200 178.5px,#da1200 262.5px,#de2a00 283.5px,#ea7a00 332.5px,#f1a400 362.5px,#f6c000 395.5px,#f8cd00 404.5px,#fad400 421.5px,#f7c500 432.5px,#f2a800 441.5px,#ec8800 448.5px,#e34e00 455.5px,#de2c00 461.5px,#db1d00 468.5px,#da1600 475.5px,#da1600 481.5px)"></i><i style="left:322px;width:1px;background:linear-gradient(#2f8d0a 0.5px,#388a05 14.5px,#537d03 43.5px,#796b00 56.5px,#8b5900 63.5px,#ac3a00 81.5px,#bd2600 99.5px,#d80800 168.5px,#d80b00 262.5px,#dc2300 283.5px,#e76800 324.5px,#f0a100 362.5px,#f6be00 395.5px,#f8cb00 404.5px,#f9d200 421.5px,#f6c300 432.5px,#f1a600 441.5px,#ec8700 448.5px,#e34c00 455.5px,#de2a00 461.5px,#db1900 468.5px,#da1300 475.5px,#da1300 481.5px)"></i><i style="left:323px;width:1px;background:linear-gradient(#219112 0.5px,#368a06 43.5px,#776d00 75.5px,#ac3a00 102.5px,#bf2500 122.5px,#d70900 178.5px,#d40d00 227.5px,#d80800 246.5px,#d80a00 262.5px,#dc2000 283.5px,#e76800 325.5px,#f09f00 362.5px,#f5bd00 395.5px,#f8ca00 404.5px,#f9d100 421.5px,#f6c200 432.5px,#f1a500 441.5px,#ec8600 448.5px,#e34c00 455.5px,#de2a00 461.5px,#db1700 468.5px,#d91000 475.5px,#d91000 481.5px)"></i><i style="left:324px;width:1px;background:linear-gradient(#1b9315 0.5px,#2a8e0d 42.5px,#3a8905 62.5px,#796b00 90.5px,#ab3b00 111.5px,#bc2800 123.5px,#d80800 178.5px,#d80800 235.5px,#d90c00 262.5px,#dc1f00 282.5px,#ea7a00 337.5px,#f09e00 362.5px,#f5bd00 395.5px,#f8ca00 404.5px,#f9d000 421.5px,#f6c100 432.5px,#f1a400 441.5px,#ec8700 448.5px,#e34d00 455.5px,#de2b00 461.5px,#db1700 468.5px,#d91100 475.5px,#d91100 481.5px)"></i><i style="left:325px;width:1px;background:linear-gradient(#0d981e 0.5px,#1c9315 63.5px,#378a05 80.5px,#657501 99.5px,#786c00 104.5px,#ab3b00 119.5px,#b23300 123.5px,#d30e00 177.5px,#d30d00 227.5px,#d80800 243.5px,#d90c00 263.5px,#db1d00 282.5px,#e76900 328.5px,#f09c00 362.5px,#f5bb00 395.5px,#f7c900 404.5px,#f9cf00 421.5px,#f6c000 432.5px,#f1a300 441.5px,#eb8100 449.5px,#e34d00 455.5px,#df2f00 460.5px,#db1700 467.5px,#d90f00 474.5px,#d90e00 481.5px)"></i><i style="left:326px;width:1px;background:linear-gradient(#0b9824 0.5px,#0c981e 26.5px,#179417 63.5px,#378a05 88.5px,#4a8104 98.5px,#786c00 114.5px,#8e5700 122.5px,#ac3a00 148.5px,#bd2600 178.5px,#c22100 227.5px,#ce1400 262.5px,#d80900 269.5px,#da1600 283.5px,#de2f00 298.5px,#e34e00 313.5px,#ef9b00 362.5px,#f5bb00 395.5px,#f7c800 404.5px,#f8cd00 421.5px,#f5bd00 432.5px,#f3b200 436.5px,#ee9100 444.5px,#ea7b00 448.5px,#e13d00 455.5px,#db1900 461.5px,#d80a00 465.5px,#d70900 466.5px,#d01100 468.5px,#c81b00 474.5px,#c71b00 481.5px)"></i><i style="left:327px;width:1px;background:linear-gradient(#0b9824 0.5px,#0c981e 21.5px,#1a9316 62.5px,#388a05 94.5px,#746e00 123.5px,#ab3b00 175.5px,#b62e00 227.5px,#c32000 262.5px,#d80800 275.5px,#dd2700 297.5px,#e34c00 313.5px,#ef9a00 362.5px,#f5bb00 395.5px,#f7c800 404.5px,#f8ce00 419.5px,#f4b600 434.5px,#ed8d00 444.5px,#e86f00 448.5px,#e13e00 453.5px,#d80b00 461.5px,#bd2700 465.5px,#b53000 468.5px,#b03600 481.5px)"></i><i style="left:328px;width:1px;background:linear-gradient(#0a9829 0.5px,#0c981e 32.5px,#189417 62.5px,#378a05 107.5px,#4f7f03 123.5px,#786c00 158.5px,#8a5b00 177.5px,#994c00 198.5px,#b53000 262.5px,#d80800 282.5px,#dc2300 298.5px,#e34a00 313.5px,#ef9900 362.5px,#f5ba00 395.5px,#f7c700 404.5px,#f8ce00 418.5px,#f8c900 422.5px,#f3b200 435.5px,#ec8800 444.5px,#df3000 453.5px,#d90b00 459.5px,#cf1200 460.5px,#a34300 463.5px,#8f5600 465.5px,#865e00 469.5px,#846100 481.5px)"></i><i style="left:329px;width:1px;background:linear-gradient(#0c981f 0.5px,#318c08 99.5px,#786c00 166.5px,#925300 197.5px,#9c4900 223.5px,#b43100 262.5px,#d80900 282.5px,#dc2300 298.5px,#e34a00 313.5px,#ef9a00 362.5px,#f5bb00 395.5px,#f7c900 404.5px,#f9ce00 419.5px,#f3af00 436.5px,#ec8700 444.5px,#de2d00 453.5px,#d80a00 459.5px,#cc1600 460.5px,#994c00 463.5px,#846100 465.5px,#7d6700 469.5px,#7d6700 481.5px)"></i><i style="left:330px;width:1px;background:linear-gradient(#0a982a 0.5px,#0c981e 48.5px,#1b9315 99.5px,#378a05 145.5px,#687401 197.5px,#7a6a00 242.5px,#994d00 263.5px,#ae3800 271.5px,#d80900 286.5px,#dc2200 300.5px,#e24600 313.5px,#ea7c00 344.5px,#ef9a00 363.5px,#f5ba00 395.5px,#f7c600 403.5px,#f8cd00 419.5px,#f3b100 435.5px,#ec8500 444.5px,#de2a00 453.5px,#d90e00 458.5px,#d30d00 459.5px,#b33200 461.5px,#865e00 463.5px,#6d7101 465.5px,#637602 469.5px,#637602 481.5px)"></i><i style="left:331px;width:1px;background:linear-gradient(#079736 0.5px,#0a9827 98.5px,#0c981e 118.5px,#378a05 196.5px,#458304 242.5px,#707001 263.5px,#816300 270.5px,#ac3a00 277.5px,#d80900 290.5px,#dc1e00 301.5px,#e14000 313.5px,#ef9700 362.5px,#f5b900 395.5px,#f7c600 404.5px,#f8cc00 419.5px,#f3af00 435.5px,#ec8400 444.5px,#dd2700 453.5px,#d80a00 458.5px,#ca1800 459.5px,#a64000 461.5px,#875e00 462.5px,#707001 463.5px,#537d03 465.5px,#458404 469.5px,#458404 481.5px)"></i><i style="left:332px;width:1px;background:linear-gradient(#089731 0.5px,#0b9823 98.5px,#0c981e 108.5px,#378a05 175.5px,#4d8003 198.5px,#547d03 242.5px,#786c00 259.5px,#905500 270.5px,#ad3900 275.5px,#d80900 288.5px,#dc2000 301.5px,#e14200 313.5px,#ef9800 362.5px,#f5ba00 395.5px,#f7c600 403.5px,#f8cd00 419.5px,#f3b100 435.5px,#ec8800 444.5px,#ea7800 446.5px,#df3100 453.5px,#d90c00 459.5px,#cf1200 460.5px,#9d4900 463.5px,#7d6700 465.5px,#667401 468.5px,#607702 481.5px)"></i><i style="left:333px;width:1px;background:linear-gradient(#089733 0.5px,#0c981e 102.5px,#378a05 144.5px,#527d03 163.5px,#776c00 197.5px,#716f01 232.5px,#786c00 241.5px,#9d4800 263.5px,#b03600 271.5px,#d70900 285.5px,#dc2100 300.5px,#e24300 313.5px,#ef9800 362.5px,#f7c800 404.5px,#f8cc00 422.5px,#f4b400 435.5px,#ed8e00 444.5px,#e97300 448.5px,#e03b00 454.5px,#d90e00 461.5px,#d50c00 462.5px,#935200 468.5px,#875d00 474.5px,#875e00 481.5px)"></i><i style="left:334px;width:1px;background:linear-gradient(#079737 0.5px,#0c981e 101.5px,#388905 132.5px,#766d00 163.5px,#9c4a00 197.5px,#8d5800 233.5px,#b23300 263.5px,#d80900 284.5px,#dd2300 300.5px,#e24500 313.5px,#ef9700 362.5px,#f7c800 403.5px,#f9cf00 421.5px,#f6bf00 432.5px,#ee9500 444.5px,#ea7a00 449.5px,#e34d00 454.5px,#d90c00 464.5px,#d20f00 465.5px,#bb2900 467.5px,#b43100 468.5px,#a83e00 475.5px,#a83e00 481.5px)"></i><i style="left:335px;width:1px;background:linear-gradient(#09982c 0.5px,#0c981e 52.5px,#1b9315 98.5px,#388a05 114.5px,#786c00 138.5px,#aa3c00 163.5px,#bd2600 197.5px,#b62f00 233.5px,#c81a00 262.5px,#d80900 274.5px,#d91000 283.5px,#de2a00 300.5px,#e34a00 313.5px,#ef9900 362.5px,#f8ca00 403.5px,#f9d200 421.5px,#f6c100 433.5px,#f2a700 441.5px,#ed8b00 448.5px,#e45400 455.5px,#d90d00 467.5px,#d80800 470.5px,#cf1200 475.5px,#cf1200 481.5px)"></i><i style="left:336px;width:1px;background:linear-gradient(#089730 0.5px,#0c981e 55.5px,#1d9314 98.5px,#378a05 110.5px,#786c00 129.5px,#846000 133.5px,#ac3a00 152.5px,#b72d00 162.5px,#c61d00 197.5px,#c32000 233.5px,#d11000 262.5px,#d80800 268.5px,#da1300 283.5px,#de2b00 300.5px,#e34d00 313.5px,#ef9a00 362.5px,#f8ca00 403.5px,#f9d200 421.5px,#f6c300 433.5px,#f1a300 443.5px,#eb8200 450.5px,#e34900 457.5px,#dd2700 463.5px,#db1c00 468.5px,#da1600 481.5px)"></i><i style="left:337px;width:1px;background:linear-gradient(#da1600 0.5px,#de2b00 98.5px,#e24600 133.5px,#e76600 197.5px,#e86a00 262.5px,#e97100 282.5px,#eb7f00 300.5px,#ee9100 313.5px,#f6bf00 362.5px,#fcdf00 404.5px,#fde700 421.5px,#fcdf00 433.5px,#f8cc00 443.5px,#f4b700 451.5px,#ef9b00 457.5px,#ec8700 463.5px,#eb7d00 481.5px)"></i><i style="left:338px;width:1px;background:linear-gradient(#f1a400 0.5px,#f9d100 177.5px,#fce100 198.5px,#fce100 312.5px,#feec00 355.5px,#fef30b 395.5px,#ffff1d 424.5px,#fff610 453.5px,#feec00 466.5px,#fbdd00 481.5px)"></i><i style="left:339px;width:1px;background:linear-gradient(#f1a400 0.5px,#f9d100 177.5px,#fce100 198.5px,#fce100 312.5px,#feec00 353.5px,#fef40c 395.5px,#ffff1e 424.5px,#fef50e 453.5px,#feeb00 461.5px,#f8ce00 481.5px)"></i><i style="left:340px;width:1px;background:linear-gradient(#f1a500 0.5px,#f9d200 177.5px,#fce200 198.5px,#fce200 312.5px,#feec00 350.5px,#fef40d 395.5px,#ffff1e 423.5px,#fef40d 453.5px,#feec00 458.5px,#f6bf00 481.5px)"></i><i style="left:341px;width:1px;background:linear-gradient(#f0a000 0.5px,#f8ce00 177.5px,#fbdd00 198.5px,#fbdd00 312.5px,#feec00 363.5px,#fef30a 395.5px,#fffe1c 424.5px,#fef30b 447.5px,#feed01 453.5px,#f6c100 467.5px,#f0a000 481.5px)"></i><i style="left:342px;width:1px;background:linear-gradient(#ef9900 0.5px,#f3b100 99.5px,#f8c900 177.5px,#fad500 198.5px,#fad700 213.5px,#f8ce00 263.5px,#fad500 313.5px,#feec00 374.5px,#fffd1a 424.5px,#feed01 448.5px,#fbdd00 453.5px,#ef9900 468.5px,#e97400 481.5px)"></i><i style="left:343px;width:1px;background:linear-gradient(#ee9400 0.5px,#f2ab00 98.5px,#f9d200 212.5px,#f6c300 262.5px,#f9ce00 312.5px,#feec00 378.5px,#fffd1a 424.5px,#feed01 444.5px,#fde600 448.5px,#f4b400 458.5px,#e97400 468.5px,#e24700 481.5px)"></i><i style="left:344px;width:1px;background:linear-gradient(#ed8c00 0.5px,#f1a300 98.5px,#f8cb00 212.5px,#f4b600 263.5px,#f7c600 313.5px,#feec00 386.5px,#fffb17 424.5px,#feed01 439.5px,#fbde00 448.5px,#f09b00 458.5px,#e34900 468.5px,#db1a00 481.5px)"></i><i style="left:345px;width:1px;background:linear-gradient(#eb8000 0.5px,#ef9900 98.5px,#f6c100 212.5px,#f2ab00 263.5px,#feec00 396.5px,#fff711 424.5px,#feeb00 435.5px,#f9d300 447.5px,#f4b500 452.5px,#e14100 468.5px,#db1b00 481.5px)"></i><i style="left:346px;width:1px;background:linear-gradient(#e97400 0.5px,#ed8e00 98.5px,#f4b800 212.5px,#f0a100 263.5px,#feeb00 401.5px,#fef30b 424.5px,#feeb00 432.5px,#fbdb00 440.5px,#f7c500 447.5px,#e13f00 467.5px,#dc1e00 481.5px)"></i><i style="left:347px;width:1px;background:linear-gradient(#e76500 0.5px,#eb8200 99.5px,#f2ac00 212.5px,#ee9400 263.5px,#feec00 413.5px,#feef04 422.5px,#fde500 431.5px,#f8ce00 441.5px,#f3b000 448.5px,#e55900 460.5px,#df3400 467.5px,#db1b00 481.5px)"></i><i style="left:348px;width:1px;background:linear-gradient(#e55600 0.5px,#f0a000 212.5px,#ec8800 263.5px,#f2ad00 313.5px,#fad800 395.5px,#fce300 404.5px,#feea00 421.5px,#fbde00 431.5px,#f7c700 440.5px,#f09e00 448.5px,#e76700 455.5px,#e14100 461.5px,#dd2800 468.5px,#db1900 481.5px)"></i><i style="left:349px;width:1px;background:linear-gradient(#e34900 0.5px,#ee9400 212.5px,#eb7d00 263.5px,#f1a600 313.5px,#f9d200 395.5px,#fbde00 404.5px,#fde500 421.5px,#fad800 431.5px,#f5ba00 441.5px,#ed8d00 448.5px,#e45400 455.5px,#df3200 461.5px,#dc2100 468.5px,#db1900 481.5px)"></i><i style="left:350px;width:1px;background:linear-gradient(#e13e00 0.5px,#ed8d00 212.5px,#e97600 263.5px,#f1a200 313.5px,#f9d000 395.5px,#fbdd00 404.5px,#fce300 421.5px,#fad700 431.5px,#f4b800 441.5px,#eb8300 449.5px,#e45000 455.5px,#df2f00 461.5px,#dc2000 468.5px,#db1a00 481.5px)"></i><i style="left:351px;width:1px;background:linear-gradient(#df3300 0.5px,#ec8600 212.5px,#e86f00 263.5px,#f09d00 313.5px,#f9cf00 395.5px,#fbdc00 404.5px,#fce200 421.5px,#fad500 431.5px,#f4b700 441.5px,#eb8200 449.5px,#e34f00 455.5px,#de2e00 461.5px,#dc1e00 468.5px,#db1700 481.5px)"></i><i style="left:352px;width:1px;background:linear-gradient(#de2b00 0.5px,#eb8000 212.5px,#e76900 263.5px,#ef9a00 313.5px,#f5be00 362.5px,#f9cf00 395.5px,#fbdc00 404.5px,#fce200 421.5px,#fad500 431.5px,#f4b700 441.5px,#eb8200 449.5px,#e45000 455.5px,#df2f00 461.5px,#dc2000 468.5px,#db1900 481.5px)"></i><i style="left:353px;width:1px;background:linear-gradient(#dd2400 0.5px,#e34900 98.5px,#ea7a00 212.5px,#e76400 263.5px,#ef9600 312.5px,#f4b600 351.5px,#f9cf00 395.5px,#fbdc00 404.5px,#fce200 421.5px,#fad600 431.5px,#f4b700 441.5px,#ec8300 449.5px,#e45200 455.5px,#df3100 461.5px,#dc2200 468.5px,#db1c00 481.5px)"></i><i style="left:354px;width:1px;background:linear-gradient(#dc1d00 0.5px,#e03800 74.5px,#e97300 212.5px,#e65f00 263.5px,#ee9300 312.5px,#f4b600 352.5px,#f9cf00 395.5px,#fbdc00 404.5px,#fce200 421.5px,#fad600 431.5px,#f4b700 441.5px,#ec8400 449.5px,#e45300 455.5px,#df3300 461.5px,#dd2400 468.5px,#dc1e00 481.5px)"></i><i style="left:355px;width:1px;background:linear-gradient(#d90f00 0.5px,#e86a00 212.5px,#e55600 263.5px,#ed8d00 312.5px,#f4b600 356.5px,#f8cd00 395.5px,#fbda00 404.5px,#fce000 421.5px,#f9d300 431.5px,#f4b500 441.5px,#eb8200 449.5px,#e45000 455.5px,#de2e00 461.5px,#dc1f00 468.5px,#db1900 481.5px)"></i><i style="left:356px;width:1px;background:linear-gradient(#d70a00 0.5px,#de2f00 98.5px,#e76300 212.5px,#e45000 263.5px,#ed8a00 312.5px,#f4b600 358.5px,#f8cc00 395.5px,#fad800 404.5px,#fcdf00 421.5px,#f9d200 431.5px,#f4b800 440.5px,#ec8800 448.5px,#e34e00 455.5px,#de2d00 461.5px,#db1d00 468.5px,#da1600 475.5px,#da1600 481.5px)"></i><i style="left:357px;width:1px;background:linear-gradient(#d80900 0.5px,#de2e00 99.5px,#e66000 212.5px,#e34e00 263.5px,#ec8800 312.5px,#f4b600 358.5px,#f8cd00 395.5px,#fbd900 404.5px,#fce000 421.5px,#f9d300 431.5px,#f5b900 440.5px,#ed8900 448.5px,#e45000 455.5px,#de2f00 461.5px,#dc1f00 468.5px,#db1900 481.5px)"></i><i style="left:358px;width:1px;background:linear-gradient(#d60a00 0.5px,#d80800 4.5px,#de2900 98.5px,#e55c00 212.5px,#e34900 263.5px,#ec8500 312.5px,#f4b600 360.5px,#f8cc00 395.5px,#fad900 404.5px,#fcdf00 421.5px,#f9d300 431.5px,#f4b900 440.5px,#ed8900 448.5px,#e44f00 455.5px,#de2e00 461.5px,#dc1f00 468.5px,#db1800 481.5px)"></i><i style="left:359px;width:1px;background:linear-gradient(#d50b00 0.5px,#d80800 5.5px,#dd2600 98.5px,#e55800 212.5px,#e24600 263.5px,#ec8300 312.5px,#f4b600 361.5px,#f8cd00 395.5px,#fbd900 404.5px,#fce000 421.5px,#f9d300 431.5px,#f5b900 440.5px,#ed8900 448.5px,#e45000 455.5px,#de2f00 461.5px,#dc1f00 468.5px,#db1900 481.5px)"></i><i style="left:360px;width:1px;background:linear-gradient(#d50b00 0.5px,#d80800 6.5px,#dd2400 98.5px,#e45500 212.5px,#e24200 263.5px,#eb8100 312.5px,#f4b700 362.5px,#f8cd00 395.5px,#fbda00 404.5px,#fce000 421.5px,#f9d300 431.5px,#f4b500 441.5px,#eb8300 449.5px,#e45000 455.5px,#df2f00 461.5px,#dc2000 468.5px,#db1a00 481.5px)"></i><i style="left:361px;width:1px;background:linear-gradient(#d91000 0.5px,#df3100 99.5px,#e55a00 177.5px,#e76700 212.5px,#e24400 263.5px,#e55c00 292.5px,#eb7e00 313.5px,#f4b600 362.5px,#f8cd00 395.5px,#fbda00 404.5px,#fce000 421.5px,#f9d400 431.5px,#f4b500 441.5px,#eb8300 449.5px,#e45100 455.5px,#df3000 461.5px,#dc2100 468.5px,#db1b00 481.5px)"></i><i style="left:362px;width:1px;background:linear-gradient(#dc2000 0.5px,#e34e00 98.5px,#eb8000 177.5px,#ed8d00 212.5px,#e34a00 262.5px,#e24500 292.5px,#e97600 313.5px,#f4b500 362.5px,#f8cc00 395.5px,#fad900 404.5px,#fcdf00 421.5px,#f9d300 431.5px,#f4b800 440.5px,#ec8900 448.5px,#e34f00 455.5px,#de2e00 461.5px,#dc1e00 468.5px,#db1700 481.5px)"></i><i style="left:363px;width:1px;background:linear-gradient(#dd2700 0.5px,#e55b00 98.5px,#ed8d00 177.5px,#ef9700 212.5px,#e24800 262.5px,#e13e00 292.5px,#e97300 313.5px,#f4b300 362.5px,#f8cb00 395.5px,#fad800 404.5px,#fbde00 421.5px,#f9d100 431.5px,#f4b700 440.5px,#ec8700 448.5px,#e34d00 455.5px,#de2c00 461.5px,#db1c00 468.5px,#da1600 474.5px,#da1500 481.5px)"></i><i style="left:364px;width:1px;background:linear-gradient(#dd2700 0.5px,#ee9400 188.5px,#ef9500 212.5px,#e65d00 243.5px,#e14100 262.5px,#e13e00 292.5px,#e97100 313.5px,#f3b100 362.5px,#f7c900 395.5px,#fad600 404.5px,#fbdc00 421.5px,#f9ce00 431.5px,#f4b300 440.5px,#ec8400 448.5px,#e34900 455.5px,#dd2800 461.5px,#db1800 468.5px,#da1200 474.5px,#da1100 481.5px)"></i><i style="left:365px;width:1px;background:linear-gradient(#de2e00 0.5px,#ef9900 188.5px,#ef9600 213.5px,#e55b00 242.5px,#e14000 262.5px,#e24300 292.5px,#e97300 313.5px,#f3b100 362.5px,#f8c900 395.5px,#fad600 404.5px,#fbdc00 421.5px,#f9cf00 431.5px,#f4b300 440.5px,#ec8400 448.5px,#e45100 454.5px,#de2e00 460.5px,#db1b00 468.5px,#da1600 474.5px,#da1500 481.5px)"></i><i style="left:366px;width:1px;background:linear-gradient(#e03500 0.5px,#f09f00 188.5px,#ef9800 213.5px,#e55800 242.5px,#e14000 262.5px,#e34a00 292.5px,#e97500 313.5px,#f3b200 362.5px,#f8ca00 395.5px,#fad700 404.5px,#fbdd00 421.5px,#f9cf00 431.5px,#f4b400 440.5px,#ed8c00 447.5px,#e45300 454.5px,#df3100 460.5px,#dc2000 468.5px,#db1b00 481.5px)"></i><i style="left:367px;width:1px;background:linear-gradient(#e03600 0.5px,#ea7a00 114.5px,#f1a100 188.5px,#ef9600 213.5px,#e45000 242.5px,#e03900 263.5px,#e34a00 292.5px,#e97400 313.5px,#f3b000 362.5px,#f7c900 395.5px,#fad500 404.5px,#fbdc00 421.5px,#f8cd00 431.5px,#f3b100 440.5px,#ed8900 447.5px,#e44f00 454.5px,#de2e00 460.5px,#dc1e00 467.5px,#db1700 474.5px,#db1700 481.5px)"></i><i style="left:368px;width:2px;background:linear-gradient(#e03600 0.5px,#ea7a00 111.5px,#f1a300 187.5px,#ef9700 212.5px,#e34b00 242.5px,#e03600 263.5px,#e34900 292.5px,#e97300 313.5px,#f3ae00 362.5px,#f7c700 395.5px,#fad400 404.5px,#fbdb00 421.5px,#f8cc00 431.5px,#f3af00 440.5px,#ec8800 447.5px,#e34d00 454.5px,#de2c00 460.5px,#db1c00 467.5px,#da1500 474.5px,#da1500 481.5px)"></i><i style="left:370px;width:2px;background:linear-gradient(#e03900 0.5px,#f1a400 187.5px,#ef9800 212.5px,#e34d00 242.5px,#e03900 263.5px,#e34c00 292.5px,#e97400 313.5px,#f3af00 362.5px,#f7c900 395.5px,#fad500 404.5px,#fbdc00 421.5px,#f9cf00 430.5px,#f4b500 439.5px,#ec8900 447.5px,#e45000 454.5px,#de2e00 460.5px,#dc1f00 467.5px,#db1800 474.5px,#db1800 481.5px)"></i><i style="left:372px;width:1px;background:linear-gradient(#e03700 0.5px,#ea7a00 111.5px,#f1a300 187.5px,#ef9700 212.5px,#e34c00 242.5px,#e03700 263.5px,#e34a00 292.5px,#e97300 313.5px,#f3af00 362.5px,#f7c800 395.5px,#fad500 404.5px,#fbdb00 421.5px,#f9ce00 430.5px,#f4b400 439.5px,#ec8800 447.5px,#e34e00 454.5px,#de2c00 460.5px,#db1d00 467.5px,#da1600 474.5px,#da1600 481.5px)"></i><i style="left:373px;width:3px;background:linear-gradient(#e03900 0.5px,#f1a400 187.5px,#ef9900 212.5px,#e34e00 242.5px,#e03900 263.5px,#e34c00 292.5px,#e97500 313.5px,#f3b000 362.5px,#f8c900 395.5px,#fad600 404.5px,#fbdc00 421.5px,#f9d000 430.5px,#f4b500 439.5px,#ed8900 447.5px,#e45000 454.5px,#df2f00 460.5px,#dc2000 467.5px,#db1a00 474.5px,#db1a00 481.5px)"></i><i style="left:376px;width:1px;background:linear-gradient(#df3100 0.5px,#ea7a00 120.5px,#f09c00 187.5px,#ee9100 212.5px,#e34b00 242.5px,#e03700 263.5px,#e34a00 292.5px,#e97300 313.5px,#f3af00 362.5px,#f7c800 395.5px,#fad500 404.5px,#fbdb00 421.5px,#f9cf00 430.5px,#f4b400 439.5px,#ec8900 447.5px,#e45000 454.5px,#de2f00 460.5px,#dc1f00 467.5px,#db1900 474.5px,#db1900 481.5px)"></i><i style="left:377px;width:1px;background:linear-gradient(#dd2600 0.5px,#ea7a00 141.5px,#ed8e00 187.5px,#eb8200 213.5px,#e34a00 242.5px,#e03700 263.5px,#e34900 292.5px,#e97100 313.5px,#f3b000 363.5px,#f7c800 395.5px,#fad500 404.5px,#fbdb00 421.5px,#f9cf00 430.5px,#f4b500 439.5px,#ed8a00 447.5px,#e45200 454.5px,#df3100 460.5px,#dc2200 467.5px,#db1c00 474.5px,#db1c00 481.5px)"></i><i style="left:378px;width:1px;background:linear-gradient(#da1600 0.5px,#df3200 53.5px,#e45400 99.5px,#eb7e00 178.5px,#e97300 212.5px,#e24500 242.5px,#df3300 263.5px,#e24500 292.5px,#e86d00 313.5px,#f3ae00 363.5px,#f7c700 395.5px,#fad400 404.5px,#fbda00 421.5px,#f8cb00 431.5px,#f3af00 440.5px,#ed8a00 447.5px,#e45100 454.5px,#df3000 460.5px,#dc2100 467.5px,#db1a00 474.5px,#db1a00 481.5px)"></i><i style="left:379px;width:1px;background:linear-gradient(#d30e00 0.5px,#d80900 6.5px,#dc2200 53.5px,#e24500 99.5px,#e86d00 177.5px,#e66100 212.5px,#e13e00 243.5px,#de2e00 263.5px,#e14000 292.5px,#e76800 313.5px,#f2ab00 363.5px,#f7c500 395.5px,#f9d200 404.5px,#fad800 421.5px,#f8c900 431.5px,#f2ad00 440.5px,#ec8800 447.5px,#e44f00 454.5px,#de2e00 460.5px,#dc1e00 467.5px,#db1800 474.5px,#db1800 481.5px)"></i><i style="left:380px;width:1px;background:linear-gradient(#bc2800 0.5px,#d80800 29.5px,#da1500 53.5px,#e03a00 99.5px,#e66000 178.5px,#e45300 213.5px,#de2b00 263.5px,#e13e00 292.5px,#e76500 313.5px,#f2a900 363.5px,#f7c400 395.5px,#f9d100 404.5px,#fad700 421.5px,#f7c800 431.5px,#f2ab00 440.5px,#ec8800 447.5px,#e34e00 454.5px,#de2d00 460.5px,#db1d00 467.5px,#da1600 474.5px,#da1600 481.5px)"></i><i style="left:381px;width:1px;background:linear-gradient(#b13400 0.5px,#d80800 45.5px,#e03500 99.5px,#e55700 177.5px,#e34a00 212.5px,#de2a00 263.5px,#e14100 293.5px,#ea7a00 329.5px,#f2a800 363.5px,#f7c400 395.5px,#f9d100 404.5px,#fad700 421.5px,#f7c800 431.5px,#f2ab00 440.5px,#ec8800 447.5px,#e44f00 454.5px,#de2e00 460.5px,#dc1d00 467.5px,#da1700 474.5px,#da1700 481.5px)"></i><i style="left:382px;width:1px;background:linear-gradient(#a64000 0.5px,#d01100 52.5px,#d80800 57.5px,#df3100 99.5px,#e34e00 177.5px,#de2b00 263.5px,#e24400 293.5px,#f2a700 363.5px,#f7c400 395.5px,#f9d100 404.5px,#fad700 421.5px,#f7c900 431.5px,#f2ac00 440.5px,#ed8900 447.5px,#e45000 454.5px,#df2f00 460.5px,#dc1e00 467.5px,#db1800 474.5px,#db1800 481.5px)"></i><i style="left:383px;width:1px;background:linear-gradient(#8a5b00 0.5px,#ac3a00 28.5px,#bb2800 52.5px,#d80800 67.5px,#de2a00 99.5px,#e24400 177.5px,#dd2900 263.5px,#e55b00 312.5px,#f1a600 363.5px,#f6c300 395.5px,#f9d000 404.5px,#fad700 421.5px,#f7c800 431.5px,#f2ab00 440.5px,#ec8900 447.5px,#e45000 454.5px,#de2f00 460.5px,#db1d00 467.5px,#da1700 474.5px,#da1700 481.5px)"></i><i style="left:384px;width:1px;background:linear-gradient(#855f00 0.5px,#ac3a00 37.5px,#b43100 52.5px,#d80800 70.5px,#dd2800 99.5px,#e13f00 177.5px,#dd2900 262.5px,#e55900 312.5px,#f1a500 363.5px,#f6c300 395.5px,#f9d000 404.5px,#fad700 421.5px,#f8ca00 430.5px,#f2ab00 440.5px,#ec8900 447.5px,#e45100 454.5px,#df3000 460.5px,#dc1e00 467.5px,#db1800 474.5px,#db1800 481.5px)"></i><i style="left:385px;width:1px;background:linear-gradient(#846000 0.5px,#ac3a00 43.5px,#b03500 52.5px,#d70900 71.5px,#dd2700 99.5px,#e13c00 177.5px,#dd2800 262.5px,#e55700 312.5px,#f1a200 362.5px,#f6c300 395.5px,#f9cf00 403.5px,#fad600 421.5px,#f8c900 430.5px,#f2aa00 440.5px,#ec8800 447.5px,#e45000 454.5px,#df3000 460.5px,#dc1e00 467.5px,#db1800 473.5px,#db1800 481.5px)"></i><i style="left:386px;width:1px;background:linear-gradient(#865f00 0.5px,#ae3800 52.5px,#d80900 73.5px,#dd2600 99.5px,#e03a00 177.5px,#dd2800 262.5px,#e45600 312.5px,#f0a000 362.5px,#f6c300 395.5px,#f9cf00 403.5px,#fad600 421.5px,#f7c900 430.5px,#f2a900 440.5px,#ec8700 447.5px,#e55600 453.5px,#df3000 460.5px,#dc1e00 467.5px,#db1900 473.5px,#db1900 481.5px)"></i><i style="left:387px;width:1px;background:linear-gradient(#7c6900 0.5px,#9f4700 52.5px,#ad3900 56.5px,#d80800 76.5px,#dc2300 99.5px,#e03600 177.5px,#dd2600 262.5px,#e45300 312.5px,#f09d00 362.5px,#f8ce00 403.5px,#fad500 421.5px,#f7c700 430.5px,#f1a700 440.5px,#ec8600 447.5px,#e45400 453.5px,#de2e00 460.5px,#db1c00 467.5px,#da1700 473.5px,#da1700 481.5px)"></i><i style="left:388px;width:1px;background:linear-gradient(#637602 0.5px,#786c00 34.5px,#826200 52.5px,#ab3b00 62.5px,#d80900 82.5px,#dc1d00 99.5px,#df3000 177.5px,#dc2200 262.5px,#e34e00 312.5px,#ef9a00 362.5px,#f8cc00 403.5px,#f9d300 421.5px,#f7c500 430.5px,#f1a400 440.5px,#ec8300 447.5px,#e45100 453.5px,#e03800 457.5px,#de2b00 460.5px,#db1800 467.5px,#da1200 473.5px,#da1200 481.5px)"></i><i style="left:389px;width:1px;background:linear-gradient(#517e03 0.5px,#6d7101 53.5px,#7b6900 56.5px,#ac3a00 67.5px,#d70900 85.5px,#d80900 86.5px,#db1900 99.5px,#de2c00 177.5px,#dc1f00 262.5px,#e34b00 312.5px,#ef9700 362.5px,#f8cb00 403.5px,#f9d200 421.5px,#f6c300 430.5px,#f1a200 440.5px,#eb8200 447.5px,#e34f00 453.5px,#df3000 458.5px,#dd2900 460.5px,#da1600 466.5px,#d91000 473.5px,#d90f00 481.5px)"></i><i style="left:390px;width:1px;background:linear-gradient(#7a6a00 0.5px,#955000 52.5px,#ad3900 58.5px,#d80800 77.5px,#dd2300 99.5px,#e03500 177.5px,#de2900 262.5px,#e45200 312.5px,#f09c00 362.5px,#f9cf00 403.5px,#fad700 421.5px,#f7c800 430.5px,#f2ac00 439.5px,#ed8e00 446.5px,#e55700 453.5px,#e03a00 458.5px,#dd2800 463.5px,#dc2000 466.5px,#db1a00 472.5px,#db1a00 481.5px)"></i><i style="left:391px;width:1px;background:linear-gradient(#bc2800 0.5px,#cd1400 42.5px,#d80800 54.5px,#e13f00 99.5px,#e55700 177.5px,#e45600 198.5px,#e24500 263.5px,#e76700 312.5px,#f2ab00 362.5px,#f9d000 395.5px,#fbdc00 403.5px,#fce400 419.5px,#fad800 429.5px,#f6c000 438.5px,#f1a200 446.5px,#e86a00 454.5px,#e45100 459.5px,#e03b00 465.5px,#df3400 472.5px,#df3400 481.5px)"></i><i style="left:392px;width:1px;background:linear-gradient(#d80800 0.5px,#db1a00 52.5px,#df3200 73.5px,#e55600 99.5px,#e97100 177.5px,#e97200 198.5px,#e55c00 263.5px,#ea7800 312.5px,#f4b700 362.5px,#fbd900 395.5px,#fde600 403.5px,#feee03 418.5px,#fde700 426.5px,#f9d000 437.5px,#f3b100 446.5px,#ea7d00 454.5px,#e45300 464.5px,#e34a00 471.5px,#e34900 481.5px)"></i><i style="left:393px;width:1px;background:linear-gradient(#b03600 0.5px,#c71b00 42.5px,#d80800 55.5px,#e03a00 99.5px,#e45000 177.5px,#e45100 198.5px,#e24200 263.5px,#e66100 313.5px,#fbde00 403.5px,#fde600 418.5px,#fbdd00 426.5px,#f7c700 437.5px,#f1a300 446.5px,#e66200 454.5px,#e03700 463.5px,#de2d00 470.5px,#de2d00 481.5px)"></i><i style="left:394px;width:1px;background:linear-gradient(#308c09 0.5px,#597a02 42.5px,#766d00 53.5px,#ab3b00 71.5px,#d80800 92.5px,#d91000 99.5px,#dc1e00 177.5px,#db1a00 262.5px,#e03b00 312.5px,#ea7b00 349.5px,#f9cf00 403.5px,#fad700 418.5px,#f4b700 437.5px,#ee9100 445.5px,#ea7700 448.5px,#e03700 454.5px,#d80a00 463.5px,#cd1500 470.5px,#cc1500 481.5px)"></i><i style="left:395px;width:1px;background:linear-gradient(#0c9820 0.5px,#249010 42.5px,#378a05 53.5px,#786c00 75.5px,#ad3900 89.5px,#c12200 99.5px,#ca1800 123.5px,#d80800 171.5px,#d80900 263.5px,#de2c00 313.5px,#f4b600 391.5px,#f7c900 403.5px,#f9d000 418.5px,#f3af00 437.5px,#ec8700 445.5px,#dd2600 454.5px,#d80900 459.5px,#b62f00 463.5px,#ae3700 465.5px,#a34300 470.5px,#a34300 481.5px)"></i><i style="left:396px;width:1px;background:linear-gradient(#0b9822 0.5px,#0c981e 9.5px,#1f9213 42.5px,#368a06 58.5px,#5b7902 72.5px,#766d00 79.5px,#ac3a00 94.5px,#b52f00 99.5px,#c22100 123.5px,#d30e00 177.5px,#d80800 265.5px,#dd2800 312.5px,#f4b600 392.5px,#f7c800 404.5px,#f9cf00 418.5px,#f3ad00 437.5px,#ec8400 445.5px,#de2d00 453.5px,#d90d00 458.5px,#d50c00 459.5px,#ad3900 463.5px,#9f4600 465.5px,#955100 470.5px,#955100 481.5px)"></i><i style="left:397px;width:1px;background:linear-gradient(#169518 0.5px,#2a8e0d 42.5px,#378a05 53.5px,#4a8104 63.5px,#766d00 77.5px,#ac3a00 93.5px,#b62e00 99.5px,#c71c00 123.5px,#d80800 177.5px,#d80a00 262.5px,#de2a00 312.5px,#f7c800 403.5px,#f9cf00 418.5px,#f4b800 433.5px,#f3ad00 437.5px,#ec8400 445.5px,#de2f00 453.5px,#d80900 459.5px,#b03500 463.5px,#a64000 465.5px,#9e4800 470.5px,#9e4800 481.5px)"></i><i style="left:398px;width:1px;background:linear-gradient(#10971c 0.5px,#219112 42.5px,#358b06 63.5px,#4f7f03 72.5px,#786c00 84.5px,#a54100 98.5px,#ac3a00 102.5px,#bf2500 123.5px,#d11000 177.5px,#d11000 213.5px,#d80800 263.5px,#dd2600 312.5px,#f4b600 392.5px,#f7c700 403.5px,#f9ce00 418.5px,#f4b600 433.5px,#f2ab00 437.5px,#eb8100 445.5px,#de2c00 453.5px,#d90d00 458.5px,#d40c00 459.5px,#a14500 463.5px,#925300 465.5px,#8c5900 470.5px,#8c5900 481.5px)"></i><i style="left:399px;width:1px;background:linear-gradient(#0b9824 0.5px,#13961a 42.5px,#219112 63.5px,#378a05 74.5px,#766d00 93.5px,#885d00 99.5px,#aa3b00 116.5px,#b23300 122.5px,#c61c00 177.5px,#c71c00 213.5px,#cf1300 262.5px,#d80800 271.5px,#dc2300 313.5px,#ea7b00 359.5px,#f7c500 403.5px,#f8cc00 419.5px,#f2ad00 436.5px,#eb7e00 445.5px,#dd2700 453.5px,#d80900 458.5px,#af3600 461.5px,#865f00 463.5px,#766d00 465.5px,#726f00 481.5px)"></i><i style="left:400px;width:1px;background:linear-gradient(#0a9829 0.5px,#0c981e 48.5px,#12961a 63.5px,#378a05 81.5px,#766d00 102.5px,#a83e00 123.5px,#bf2400 177.5px,#bf2400 213.5px,#c91900 262.5px,#d80800 276.5px,#dc1f00 313.5px,#ea7b00 360.5px,#f7c400 403.5px,#f8cb00 419.5px,#f3ae00 435.5px,#ea7c00 445.5px,#dd2400 453.5px,#d90c00 457.5px,#d50c00 458.5px,#b62f00 460.5px,#a14400 461.5px,#856000 462.5px,#716f01 463.5px,#607702 465.5px,#5e7802 481.5px)"></i><i style="left:401px;width:1px;background:linear-gradient(#0c9820 0.5px,#199416 63.5px,#368a05 79.5px,#776c00 103.5px,#a54100 123.5px,#bd2600 177.5px,#c51d00 241.5px,#cc1500 262.5px,#d80800 273.5px,#dc2100 313.5px,#ea7b00 360.5px,#f7c500 403.5px,#f8cb00 419.5px,#f3ae00 435.5px,#eb8100 444.5px,#dd2500 453.5px,#d70900 458.5px,#a64000 461.5px,#8b5a00 462.5px,#796c00 463.5px,#687301 465.5px,#677401 481.5px)"></i><i style="left:402px;width:1px;background:linear-gradient(#159519 0.5px,#25900f 63.5px,#378a05 75.5px,#776c00 104.5px,#9b4a00 123.5px,#ac3a00 148.5px,#b82d00 177.5px,#c32000 241.5px,#cf1200 262.5px,#d80800 270.5px,#dd2500 313.5px,#f7c500 403.5px,#f8cc00 419.5px,#f2ad00 435.5px,#eb7f00 444.5px,#e03700 451.5px,#dd2700 453.5px,#d80900 458.5px,#ac3a00 461.5px,#955000 462.5px,#846000 463.5px,#766d00 465.5px,#746e00 481.5px)"></i><i style="left:403px;width:1px;background:linear-gradient(#0c981f 0.5px,#1b9315 62.5px,#378a05 87.5px,#746e00 123.5px,#a83e00 197.5px,#b23300 241.5px,#c41f00 262.5px,#d80800 278.5px,#dd2300 313.5px,#f7c400 403.5px,#f8cb00 419.5px,#f3ad00 434.5px,#eb8100 443.5px,#e97000 445.5px,#df3200 451.5px,#d80a00 457.5px,#ce1300 458.5px,#ae3700 460.5px,#826200 462.5px,#716f01 463.5px,#647502 465.5px,#617702 467.5px,#617702 481.5px)"></i><i style="left:404px;width:1px;background:linear-gradient(#0a9827 0.5px,#0c981e 39.5px,#13961a 63.5px,#378a05 108.5px,#4a8104 123.5px,#677401 163.5px,#875e00 197.5px,#984d00 240.5px,#ac3a00 250.5px,#d80800 284.5px,#dc2100 313.5px,#f6c300 404.5px,#f8c900 419.5px,#f5be00 426.5px,#f2aa00 434.5px,#eb7d00 443.5px,#de2c00 451.5px,#d90d00 456.5px,#d20f00 457.5px,#b33200 459.5px,#826200 461.5px,#6f7001 462.5px,#5e7802 463.5px,#527d03 465.5px,#4e8003 467.5px,#4e8003 481.5px)"></i><i style="left:405px;width:1px;background:linear-gradient(#0e971d 0.5px,#1f9213 62.5px,#308c09 98.5px,#5d7802 163.5px,#786c00 186.5px,#836100 197.5px,#964f00 240.5px,#ad3900 250.5px,#d80800 281.5px,#dd2500 313.5px,#f7c400 404.5px,#f8ca00 419.5px,#f3ae00 433.5px,#eb8200 442.5px,#de2c00 451.5px,#d60a00 457.5px,#b62e00 459.5px,#8b5a00 461.5px,#7c6900 462.5px,#6c7101 463.5px,#5c7902 467.5px,#5c7902 481.5px)"></i><i style="left:406px;width:1px;background:linear-gradient(#10971c 0.5px,#2d8d0b 99.5px,#378a05 123.5px,#527e03 163.5px,#7a6a00 197.5px,#8e5700 240.5px,#ac3a00 252.5px,#d80800 281.5px,#dd2600 313.5px,#f7c400 404.5px,#f8ca00 419.5px,#f6bf00 426.5px,#f3ad00 433.5px,#eb8100 442.5px,#de2b00 451.5px,#d50b00 457.5px,#b52f00 459.5px,#8a5b00 461.5px,#6c7101 463.5px,#5b7902 467.5px,#5b7902 481.5px)"></i><i style="left:407px;width:1px;background:linear-gradient(#0c9820 0.5px,#25900f 98.5px,#378a05 141.5px,#458404 163.5px,#6b7201 198.5px,#806500 240.5px,#ac3a00 258.5px,#d80900 285.5px,#dd2400 313.5px,#f7c400 404.5px,#f8ca00 419.5px,#f6be00 426.5px,#f2ac00 433.5px,#eb7f00 442.5px,#df3100 450.5px,#d90c00 456.5px,#d01100 457.5px,#b03600 459.5px,#7f6500 461.5px,#607702 463.5px,#537d03 465.5px,#4d8003 467.5px,#4d8003 481.5px)"></i><i style="left:408px;width:1px;background:linear-gradient(#0b9823 0.5px,#0c981e 23.5px,#219112 98.5px,#378a05 155.5px,#5e7802 198.5px,#746e00 240.5px,#ac3a00 263.5px,#d80900 287.5px,#dc2200 312.5px,#e03800 326.5px,#f6c300 404.5px,#f8c900 419.5px,#f5be00 426.5px,#f2ab00 433.5px,#eb7e00 442.5px,#df3000 450.5px,#d80b00 456.5px,#cd1500 457.5px,#ac3a00 459.5px,#796b00 461.5px,#587b02 463.5px,#498204 465.5px,#428504 467.5px,#428504 481.5px)"></i><i style="left:409px;width:1px;background:linear-gradient(#0b9824 0.5px,#0c981e 28.5px,#368a05 162.5px,#567c03 198.5px,#6c7201 240.5px,#786c00 245.5px,#ab3b00 266.5px,#d80800 288.5px,#dc2100 312.5px,#e03700 326.5px,#f7c400 404.5px,#f8c900 419.5px,#f6be00 426.5px,#f2ab00 433.5px,#eb7d00 442.5px,#de2e00 450.5px,#d80a00 456.5px,#cb1700 457.5px,#a93d00 459.5px,#8d5800 460.5px,#766d00 461.5px,#617702 462.5px,#537d03 463.5px,#428504 465.5px,#3c8805 467.5px,#3c8805 481.5px)"></i><i style="left:410px;width:1px;background:linear-gradient(#0a9829 0.5px,#0c981e 49.5px,#2f8d0a 162.5px,#378a05 178.5px,#478304 198.5px,#5d7802 240.5px,#786c00 251.5px,#925300 262.5px,#a04500 268.5px,#ac3a00 271.5px,#d80800 290.5px,#dc1f00 312.5px,#e03700 327.5px,#f6c200 403.5px,#f8ca00 418.5px,#f6c000 425.5px,#f3ad00 432.5px,#eb8200 441.5px,#e97200 443.5px,#de2c00 450.5px,#d70a00 456.5px,#b62f00 458.5px,#a04500 459.5px,#846000 460.5px,#6c7201 461.5px,#567c03 462.5px,#368a06 465.5px,#318c08 467.5px,#318c08 481.5px)"></i><i style="left:411px;width:1px;background:linear-gradient(#09972e 0.5px,#0c981e 72.5px,#13961a 99.5px,#278f0e 163.5px,#378a05 198.5px,#4e8003 240.5px,#776d00 257.5px,#905500 268.5px,#ae3800 275.5px,#cc1500 287.5px,#d80800 293.5px,#dc1d00 312.5px,#e03700 328.5px,#f6c200 403.5px,#f8c900 418.5px,#f6bf00 425.5px,#f2ad00 432.5px,#eb8100 441.5px,#de2a00 450.5px,#d90d00 455.5px,#d20f00 456.5px,#b13500 458.5px,#7a6a00 460.5px,#617702 461.5px,#498204 462.5px,#3c8805 463.5px,#2c8e0b 465.5px,#288f0e 467.5px,#288f0e 481.5px)"></i><i style="left:412px;width:1px;background:linear-gradient(#079735 0.5px,#0c981e 104.5px,#1c9314 163.5px,#3b8805 240.5px,#7c6800 268.5px,#ad3900 278.5px,#c81a00 288.5px,#d80900 296.5px,#db1b00 312.5px,#e03700 329.5px,#f6c100 403.5px,#f7c900 418.5px,#f6bf00 425.5px,#f2ac00 432.5px,#eb8000 441.5px,#dd2700 450.5px,#d80a00 455.5px,#cc1600 456.5px,#a93d00 458.5px,#8a5b00 459.5px,#6d7101 460.5px,#3a8905 462.5px,#219112 465.5px,#1d9314 466.5px,#1d9314 481.5px)"></i><i style="left:413px;width:1px;background:linear-gradient(#09972d 0.5px,#0c981e 69.5px,#25900f 163.5px,#378a05 213.5px,#478304 240.5px,#776d00 262.5px,#846000 268.5px,#ae3800 277.5px,#d80800 294.5px,#dc1d00 312.5px,#e03700 328.5px,#f6c200 403.5px,#f8ca00 418.5px,#f6c000 425.5px,#f2ad00 432.5px,#eb8100 441.5px,#de2900 450.5px,#d90d00 455.5px,#d11000 456.5px,#b03500 458.5px,#7b6900 460.5px,#617702 461.5px,#478304 462.5px,#298f0d 465.5px,#259010 466.5px,#259010 481.5px)"></i><i style="left:414px;width:1px;background:linear-gradient(#09972e 0.5px,#0c981e 73.5px,#249010 163.5px,#378a05 216.5px,#458304 240.5px,#746e00 263.5px,#806500 268.5px,#ad3900 278.5px,#d70900 295.5px,#db1c00 312.5px,#e03700 329.5px,#f6c200 403.5px,#f8ca00 418.5px,#f6c000 425.5px,#f2ac00 432.5px,#eb8000 441.5px,#de2900 450.5px,#d90d00 455.5px,#d01100 456.5px,#b03500 458.5px,#7a6a00 460.5px,#5f7702 461.5px,#468304 462.5px,#278f0e 465.5px,#249010 466.5px,#249010 481.5px)"></i><i style="left:415px;width:1px;background:linear-gradient(#09972f 0.5px,#0c981e 79.5px,#338b07 212.5px,#438404 240.5px,#786c00 267.5px,#ad3900 280.5px,#d80800 297.5px,#e03800 330.5px,#f4b700 396.5px,#f6c300 404.5px,#f8ca00 418.5px,#f6c000 425.5px,#f2ac00 432.5px,#eb8000 441.5px,#dd2900 450.5px,#d90c00 455.5px,#cf1200 456.5px,#af3700 458.5px,#786c00 460.5px,#448404 462.5px,#259010 465.5px,#229111 481.5px)"></i><i style="left:416px;width:1px;background:linear-gradient(#059743 0.5px,#0c981e 166.5px,#288f0e 240.5px,#448404 262.5px,#547d03 268.5px,#697301 273.5px,#7c6800 277.5px,#964f00 283.5px,#ac3a00 287.5px,#d80800 303.5px,#e03800 333.5px,#f4b500 396.5px,#f6c100 404.5px,#f7c800 418.5px,#f5be00 425.5px,#f2aa00 432.5px,#eb7d00 441.5px,#de2c00 449.5px,#d90b00 454.5px,#d20f00 455.5px,#b03600 457.5px,#736e00 459.5px,#398905 461.5px,#288f0e 462.5px,#0d981e 465.5px,#0c981f 481.5px)"></i><i style="left:417px;width:1px;background:linear-gradient(#06973a 0.5px,#0c981e 126.5px,#25900f 212.5px,#338b08 240.5px,#517e03 262.5px,#617702 268.5px,#766d00 273.5px,#9d4900 283.5px,#ad3900 286.5px,#d70900 301.5px,#e03700 332.5px,#f4b700 396.5px,#f6c300 404.5px,#f7c900 418.5px,#f6bf00 425.5px,#f2ab00 432.5px,#eb7e00 441.5px,#de2e00 449.5px,#d80800 455.5px,#b72d00 457.5px,#a24400 458.5px,#836100 459.5px,#667401 460.5px,#498204 461.5px,#338b07 462.5px,#179418 465.5px,#159519 481.5px)"></i><i style="left:418px;width:1px;background:linear-gradient(#079736 0.5px,#0c981e 108.5px,#298e0d 212.5px,#378a05 239.5px,#557c03 262.5px,#786c00 273.5px,#9c4a00 283.5px,#ac3a00 286.5px,#d80800 301.5px,#e03800 332.5px,#f4b700 396.5px,#f6c300 404.5px,#f8c900 418.5px,#f6c000 425.5px,#f2ab00 432.5px,#eb7f00 441.5px,#de2f00 449.5px,#d80a00 455.5px,#cb1700 456.5px,#a83d00 458.5px,#8a5b00 459.5px,#6d7101 460.5px,#398905 462.5px,#1b9315 465.5px,#1a9316 481.5px)"></i><i style="left:419px;width:1px;background:linear-gradient(#05973f 0.5px,#0c981e 146.5px,#1f9213 212.5px,#2e8d0a 241.5px,#428504 262.5px,#766d00 278.5px,#875e00 283.5px,#ae3800 290.5px,#d80900 304.5px,#e03800 334.5px,#f4b600 396.5px,#f6c200 404.5px,#f7c900 418.5px,#f6bf00 425.5px,#f2aa00 432.5px,#eb7e00 441.5px,#de2c00 449.5px,#d90e00 454.5px,#d50b00 455.5px,#b43100 457.5px,#9c4a00 458.5px,#7d6800 459.5px,#5f7802 460.5px,#418504 461.5px,#2e8d0a 462.5px,#11961b 465.5px,#10971c 481.5px)"></i><i style="left:420px;width:1px;background:linear-gradient(#06973d 0.5px,#0c981e 137.5px,#209112 212.5px,#378a05 251.5px,#438404 263.5px,#796b00 280.5px,#875e00 284.5px,#ac3a00 290.5px,#d80800 304.5px,#e03800 334.5px,#f4b700 396.5px,#f6c300 404.5px,#f8c900 418.5px,#f6bf00 425.5px,#f2ab00 432.5px,#eb7e00 441.5px,#de2d00 449.5px,#d60a00 455.5px,#b52f00 457.5px,#9f4700 458.5px,#806400 459.5px,#627602 460.5px,#448404 461.5px,#318c09 462.5px,#12961a 465.5px,#12961b 481.5px)"></i><i style="left:421px;width:1px;background:linear-gradient(#06973b 0.5px,#0c981e 127.5px,#239011 212.5px,#378a05 247.5px,#468304 263.5px,#796b00 280.5px,#865e00 284.5px,#ae3700 291.5px,#d80800 304.5px,#e03800 334.5px,#f4b700 396.5px,#f6c300 404.5px,#f8c900 418.5px,#f6c000 425.5px,#f2ab00 432.5px,#eb7e00 441.5px,#de2d00 449.5px,#d80800 455.5px,#a34300 458.5px,#846000 459.5px,#677401 460.5px,#498204 461.5px,#348b07 462.5px,#159519 465.5px,#159519 481.5px)"></i><i style="left:422px;width:1px;background:linear-gradient(#05973f 0.5px,#0c981e 145.5px,#1e9213 212.5px,#378a05 256.5px,#3e8704 263.5px,#786c00 283.5px,#aa3c00 292.5px,#d80800 306.5px,#e03700 335.5px,#f4b600 396.5px,#f6c300 404.5px,#f8c900 418.5px,#f6bf00 425.5px,#f4b400 429.5px,#f2aa00 432.5px,#eb8200 440.5px,#ea7d00 441.5px,#de2c00 449.5px,#d50b00 455.5px,#b43100 457.5px,#9c4900 458.5px,#7e6700 459.5px,#418504 461.5px,#308c09 462.5px,#12961b 465.5px,#12961b 481.5px)"></i><i style="left:423px;width:1px;background:linear-gradient(#049748 0.5px,#0c981e 181.5px,#159519 213.5px,#308c09 262.5px,#378a05 266.5px,#567c03 278.5px,#667401 283.5px,#766d00 286.5px,#ad3900 296.5px,#d80800 309.5px,#e03700 337.5px,#f4b700 397.5px,#f6c200 404.5px,#f7c800 418.5px,#f4b600 428.5px,#f2a900 432.5px,#eb8100 440.5px,#ea7b00 441.5px,#de2900 449.5px,#d80b00 454.5px,#cf1300 455.5px,#ad3900 457.5px,#6f7001 459.5px,#517e03 460.5px,#348b07 461.5px,#12961b 464.5px,#0b9821 465.5px,#0b9821 481.5px)"></i><i style="left:424px;width:1px;background:linear-gradient(#049746 0.5px,#0c981e 172.5px,#189417 213.5px,#338b08 262.5px,#577b03 278.5px,#677401 283.5px,#766d00 286.5px,#aa3c00 296.5px,#d70a00 309.5px,#d80900 310.5px,#e03800 338.5px,#f4b700 397.5px,#f6c200 404.5px,#f7c900 418.5px,#f4b700 428.5px,#f2a900 432.5px,#eb8100 440.5px,#ea7b00 441.5px,#de2a00 449.5px,#d90c00 454.5px,#d01100 455.5px,#af3700 457.5px,#736e00 459.5px,#378a05 461.5px,#0c981e 465.5px,#0c981e 481.5px)"></i><i style="left:425px;width:1px;background:linear-gradient(#06973d 0.5px,#0c981e 133.5px,#229111 212.5px,#308c09 243.5px,#428504 263.5px,#627602 277.5px,#746e00 283.5px,#ac3a00 295.5px,#d70900 308.5px,#e03700 337.5px,#f4b600 396.5px,#f6c300 404.5px,#f8ca00 418.5px,#f6c000 425.5px,#f4b500 429.5px,#f2aa00 432.5px,#eb8200 440.5px,#ea7c00 441.5px,#de2c00 449.5px,#d60a00 455.5px,#b62f00 457.5px,#a04500 458.5px,#826200 459.5px,#478304 461.5px,#348b06 462.5px,#189417 465.5px,#189417 481.5px)"></i><i style="left:426px;width:1px;background:linear-gradient(#06973d 0.5px,#0c981e 129.5px,#249010 212.5px,#318c09 243.5px,#438404 263.5px,#607702 277.5px,#776d00 284.5px,#ac3a00 296.5px,#d80800 309.5px,#e03700 338.5px,#f4b700 397.5px,#f6c300 404.5px,#f8ca00 418.5px,#f6c000 425.5px,#f4b500 429.5px,#f2aa00 432.5px,#eb8200 440.5px,#ea7c00 441.5px,#de2c00 449.5px,#d70900 455.5px,#b72e00 457.5px,#a24400 458.5px,#846000 459.5px,#488204 461.5px,#368a06 462.5px,#1a9316 465.5px,#1a9316 481.5px)"></i><i style="left:427px;width:1px;background:linear-gradient(#049746 0.5px,#0c981e 166.5px,#25900f 243.5px,#378a05 265.5px,#4d8003 277.5px,#647502 284.5px,#7a6a00 289.5px,#9b4a00 297.5px,#ae3800 300.5px,#d70900 311.5px,#de2a00 333.5px,#f4b600 397.5px,#f6c200 404.5px,#f8c900 418.5px,#f4b700 428.5px,#f2a900 432.5px,#eb8100 440.5px,#ea7a00 441.5px,#de2900 449.5px,#d90c00 454.5px,#d01100 455.5px,#af3600 457.5px,#756d00 459.5px,#398905 461.5px,#189417 464.5px,#11961b 465.5px,#11961b 481.5px)"></i><i style="left:428px;width:1px;background:linear-gradient(#03974a 0.5px,#0c981e 180.5px,#219112 243.5px,#308c09 263.5px,#448404 277.5px,#577b03 283.5px,#776c00 291.5px,#8e5700 297.5px,#af3600 302.5px,#d80900 313.5px,#dd2500 332.5px,#e03700 341.5px,#f4b700 398.5px,#f6c100 404.5px,#f7c900 418.5px,#f6bf00 425.5px,#f4b700 428.5px,#f2a800 432.5px,#eb8000 440.5px,#ea7a00 441.5px,#dd2800 449.5px,#d80b00 454.5px,#ce1400 455.5px,#ac3a00 457.5px,#6f7001 459.5px,#517e03 460.5px,#348b07 461.5px,#149519 464.5px,#0e981d 465.5px,#0e981d 481.5px)"></i><i style="left:429px;width:1px;background:linear-gradient(#049748 0.5px,#0c981e 172.5px,#229111 243.5px,#378a05 268.5px,#458404 277.5px,#756d00 291.5px,#8a5a00 297.5px,#ad3900 302.5px,#d80800 313.5px,#dd2600 333.5px,#ea7b00 370.5px,#f6c100 403.5px,#f8c900 418.5px,#f6bf00 425.5px,#f4b700 428.5px,#f2a800 432.5px,#eb8000 440.5px,#dd2900 449.5px,#d90c00 454.5px,#cf1200 455.5px,#ae3800 457.5px,#736f00 459.5px,#368a05 461.5px,#179418 464.5px,#11961b 465.5px,#11961b 481.5px)"></i><i style="left:430px;width:1px;background:linear-gradient(#059740 0.5px,#0c981e 140.5px,#2b8e0c 243.5px,#378a05 258.5px,#507f03 277.5px,#776d00 289.5px,#905500 297.5px,#ac3a00 301.5px,#d80900 312.5px,#dd2700 333.5px,#f6c100 403.5px,#f8ca00 418.5px,#f6c000 425.5px,#f4b400 429.5px,#eb8100 440.5px,#de2b00 449.5px,#d90f00 454.5px,#d40c00 455.5px,#b43100 457.5px,#9d4800 458.5px,#806400 459.5px,#627602 460.5px,#448404 461.5px,#358b06 462.5px,#219112 464.5px,#1b9315 465.5px,#1b9315 481.5px)"></i></div>
<div id="gap"></div>
<svg width="755" height="693" viewBox="0 0 755 693" style="position:absolute;left:0;top:0" shape-rendering="crispEdges">
<defs>
<linearGradient id="cb" x1="0" x2="1" y1="0" y2="0"><stop offset="0.000" stop-color="#00023e"/><stop offset="0.025" stop-color="#000242"/><stop offset="0.050" stop-color="#000346"/><stop offset="0.075" stop-color="#000349"/><stop offset="0.100" stop-color="#00044d"/><stop offset="0.125" stop-color="#000551"/><stop offset="0.150" stop-color="#000a56"/><stop offset="0.175" stop-color="#000f5a"/><stop offset="0.200" stop-color="#00145f"/><stop offset="0.225" stop-color="#002462"/><stop offset="0.250" stop-color="#003365"/><stop offset="0.275" stop-color="#004368"/><stop offset="0.300" stop-color="#005869"/><stop offset="0.325" stop-color="#006f69"/><stop offset="0.350" stop-color="#008266"/><stop offset="0.375" stop-color="#008e5e"/><stop offset="0.400" stop-color="#02964e"/><stop offset="0.425" stop-color="#089730"/><stop offset="0.450" stop-color="#1a9316"/><stop offset="0.475" stop-color="#428504"/><stop offset="0.500" stop-color="#786c00"/><stop offset="0.525" stop-color="#aa3c00"/><stop offset="0.550" stop-color="#c61d00"/><stop offset="0.575" stop-color="#d90d00"/><stop offset="0.600" stop-color="#db1b00"/><stop offset="0.625" stop-color="#de2a00"/><stop offset="0.650" stop-color="#e03800"/><stop offset="0.675" stop-color="#e24900"/><stop offset="0.700" stop-color="#e55900"/><stop offset="0.725" stop-color="#e86a00"/><stop offset="0.750" stop-color="#ea7a00"/><stop offset="0.775" stop-color="#ec8900"/><stop offset="0.800" stop-color="#ef9800"/><stop offset="0.825" stop-color="#f2a700"/><stop offset="0.850" stop-color="#f4b600"/><stop offset="0.875" stop-color="#f6c400"/><stop offset="0.900" stop-color="#f9d100"/><stop offset="0.925" stop-color="#fcdf00"/><stop offset="0.950" stop-color="#feec00"/><stop offset="0.975" stop-color="#fef60f"/><stop offset="1.000" stop-color="#ffff1e"/></linearGradient>
</defs>
<rect x="22" y="648" width="321" height="11" fill="url(#cb)"/>
</svg>
<svg class="t" width="755" height="693" viewBox="0 0 755 693" style="position:absolute;left:0;top:0">
<text y="16.2" font-size="13.4"><tspan x="184.9" textLength="33.5" lengthAdjust="spacingAndGlyphs">NEAR</tspan> <tspan x="226.1" textLength="43.5" lengthAdjust="spacingAndGlyphs">X-Ray</tspan> <tspan x="276.0" textLength="52.8" lengthAdjust="spacingAndGlyphs">Analysis</tspan></text>
<text y="15.9" font-size="12.3"><tspan x="393.0" textLength="29.1" lengthAdjust="spacingAndGlyphs">Date:</tspan> <tspan x="427.7" textLength="21.6" lengthAdjust="spacingAndGlyphs">Wed</tspan> <tspan x="455.5" textLength="19.9" lengthAdjust="spacingAndGlyphs">Jun</tspan> <tspan x="487.6" textLength="7.3" lengthAdjust="spacingAndGlyphs">6</tspan> <tspan x="501.5" textLength="49.7" lengthAdjust="spacingAndGlyphs">15:27:45</tspan> <tspan x="557.1" textLength="27.0" lengthAdjust="spacingAndGlyphs">2001</tspan></text>
<text y="31.0" font-size="11.2"><tspan x="6.5" textLength="20.3" lengthAdjust="spacingAndGlyphs">256</tspan></text>
<text y="545.0" font-size="11.2"><tspan x="17.2" textLength="6.6" lengthAdjust="spacingAndGlyphs">0</tspan></text>
<text y="555.2" font-size="11.2"><tspan x="37.0" textLength="6.6" lengthAdjust="spacingAndGlyphs">0</tspan></text>
<text y="555.6" font-size="10.8"><tspan x="246.9" textLength="18.3" lengthAdjust="spacingAndGlyphs">File</tspan> <tspan x="269.9" textLength="24.0" lengthAdjust="spacingAndGlyphs">Time</tspan></text>
<text y="555.0" font-size="10.6"><tspan x="501.3" textLength="26.3" lengthAdjust="spacingAndGlyphs">1723</tspan></text>
<text y="641.8" font-size="11.2"><tspan x="21.0" textLength="36.7" lengthAdjust="spacingAndGlyphs">LOG10</tspan> <tspan x="62.8" textLength="62.5" lengthAdjust="spacingAndGlyphs">Normalized</tspan> <tspan x="131.0" textLength="73.3" lengthAdjust="spacingAndGlyphs">Spectrogram</tspan> <tspan x="210.2" textLength="30.2" lengthAdjust="spacingAndGlyphs">Scale</tspan></text>
<text y="677.6" font-size="11.2"><tspan x="21.2" textLength="18.7" lengthAdjust="spacingAndGlyphs">0.0</tspan> <tspan x="179.3" textLength="18.3" lengthAdjust="spacingAndGlyphs">0.5</tspan> <tspan x="341.9" textLength="16.7" lengthAdjust="spacingAndGlyphs">1.0</tspan></text>
<text y="648.9" font-size="12.0"><tspan x="368.0" textLength="32.0" lengthAdjust="spacingAndGlyphs">Spect</tspan> <tspan x="406.0" textLength="32.4" lengthAdjust="spacingAndGlyphs">type=</tspan> <tspan x="443.3" textLength="37.0" lengthAdjust="spacingAndGlyphs">ACTIVE</tspan> <tspan x="486.3" textLength="39.1" lengthAdjust="spacingAndGlyphs">SOLAR,</tspan> <tspan x="537.5" textLength="21.6" lengthAdjust="spacingAndGlyphs">256</tspan> <tspan x="565.1" textLength="53.6" lengthAdjust="spacingAndGlyphs">Channels,</tspan> <tspan x="666.4" textLength="5.8" lengthAdjust="spacingAndGlyphs">1</tspan> <tspan x="678.8" textLength="37.8" lengthAdjust="spacingAndGlyphs">ch/bin</tspan></text>
<text y="668.5" font-size="12.0"><tspan x="368.0" textLength="49.9" lengthAdjust="spacingAndGlyphs">Directory</tspan> <tspan x="424.6" textLength="8.5" lengthAdjust="spacingAndGlyphs">=</tspan> <tspan x="439.8" textLength="58.8" lengthAdjust="spacingAndGlyphs">/near/xdr</tspan><tspan x="497.6" textLength="32.6" lengthAdjust="spacingAndGlyphs">/XRS</tspan><tspan x="529.3" textLength="37.1" lengthAdjust="spacingAndGlyphs">/2000</tspan><tspan x="565.7" textLength="45.7" lengthAdjust="spacingAndGlyphs">/07-00</tspan><tspan x="612.2" textLength="141.4" lengthAdjust="spacingAndGlyphs">/XSdaily-07_12_00out/</tspan></text>
<text transform="translate(46.2 0) rotate(-90)" y="0" font-size="12"><tspan x="-301.2" textLength="43.2" lengthAdjust="spacingAndGlyphs">Channel</tspan> <tspan x="-251.2" textLength="6.8" lengthAdjust="spacingAndGlyphs">#</tspan> <tspan x="-237.4" textLength="27.2" lengthAdjust="spacingAndGlyphs">---</tspan><tspan x="-209.6" textLength="8.4" lengthAdjust="spacingAndGlyphs">&gt;</tspan></text>
</svg>
</body></html>
